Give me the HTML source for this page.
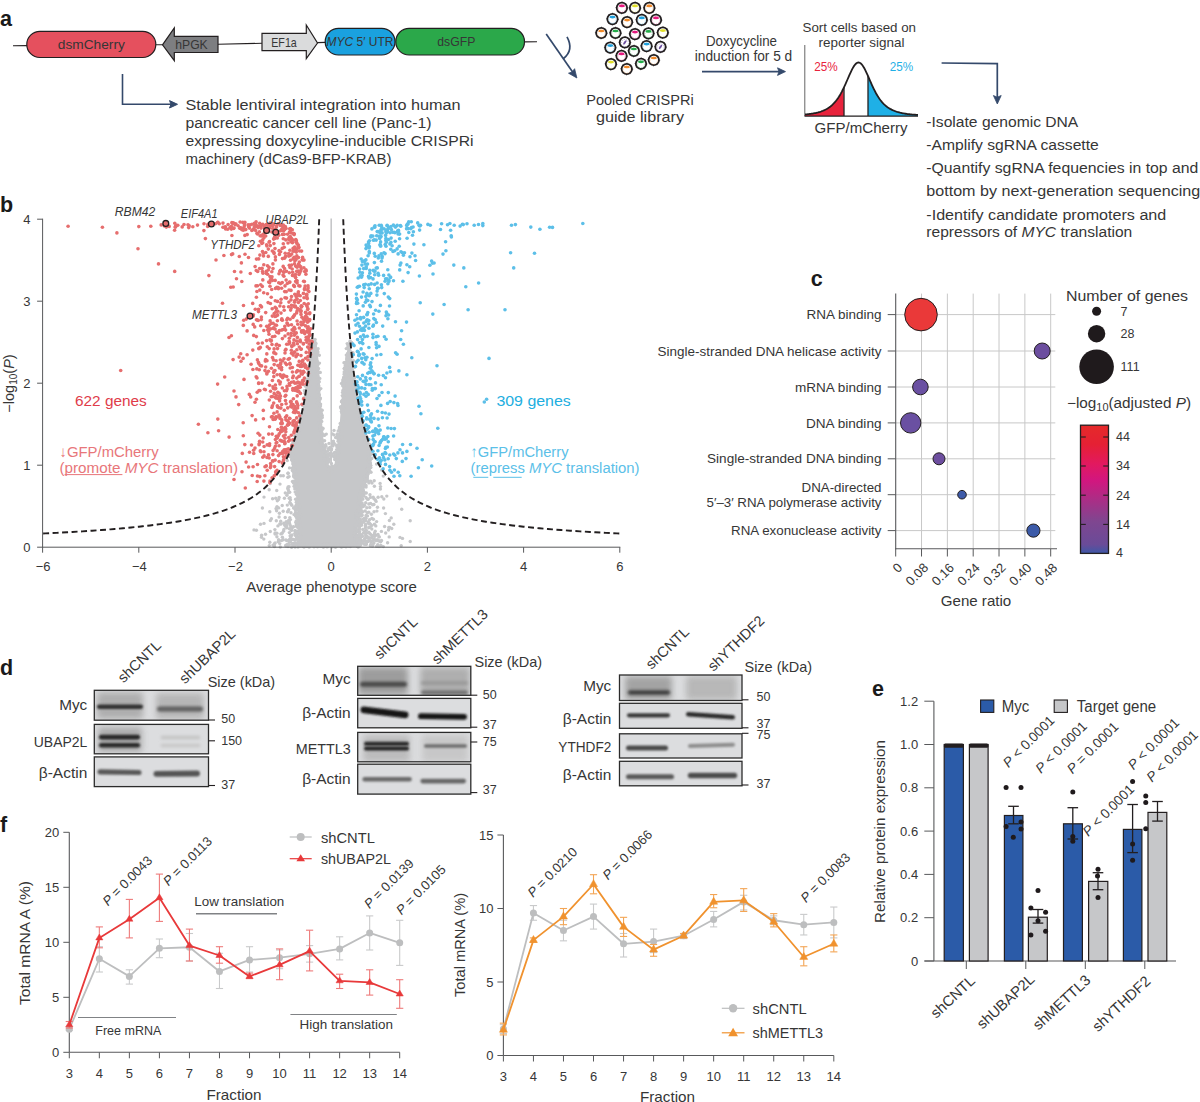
<!DOCTYPE html>
<html><head><meta charset="utf-8"><style>
html,body{margin:0;padding:0;background:#fff;width:1200px;height:1102px;overflow:hidden}
svg{display:block}
text{font-family:"Liberation Sans",sans-serif}
</style></head><body>
<svg width="1200" height="1102" viewBox="0 0 1200 1102">
<defs>
<filter id="bl1" x="-20%" y="-50%" width="140%" height="200%"><feGaussianBlur stdDeviation="1.2"/></filter>
<filter id="bl2" x="-20%" y="-50%" width="140%" height="200%"><feGaussianBlur stdDeviation="2"/></filter>
<linearGradient id="cbar" x1="0" y1="1" x2="0" y2="0">
<stop offset="0" stop-color="#3d58a7"/><stop offset="0.07" stop-color="#6a4b98"/><stop offset="0.25" stop-color="#7f4690"/><stop offset="0.45" stop-color="#b32984"/><stop offset="0.57" stop-color="#d2167f"/><stop offset="0.7" stop-color="#e2195f"/><stop offset="0.85" stop-color="#e52034"/><stop offset="1" stop-color="#e52a2a"/>
</linearGradient>
</defs>
<g fill="#363636">
<text x="0.00" y="26.30" font-size="21.5" font-weight="bold" fill="#1a1a1a">a</text>
<line x1="13.00" y1="45.80" x2="27.00" y2="45.60" stroke="#231f20" stroke-width="1.1"/>
<line x1="155.00" y1="44.80" x2="163.00" y2="44.70" stroke="#231f20" stroke-width="1.1"/>
<line x1="218.00" y1="44.20" x2="262.00" y2="43.30" stroke="#231f20" stroke-width="1.1"/>
<line x1="317.00" y1="42.60" x2="326.00" y2="42.40" stroke="#231f20" stroke-width="1.1"/>
<line x1="524.00" y1="41.90" x2="537.00" y2="41.80" stroke="#231f20" stroke-width="1.1"/>
<rect x="26.8" y="31.3" width="129" height="26.2" rx="13.1" fill="#e5505e" stroke="#231f20" stroke-width="1.2"/>
<text x="91.30" y="49.30" font-size="12.9" text-anchor="middle" textLength="67.0" lengthAdjust="spacingAndGlyphs">dsmCherry</text>
<path d="M162.5,44.8 L174.3,27.8 L174.3,36.3 L218,36.3 L218,52.5 L174.3,52.5 L174.3,60.7 Z" fill="#7d7e81" stroke="#231f20" stroke-width="1.2" stroke-linejoin="miter"/>
<text x="191.50" y="49.00" font-size="12.9" text-anchor="middle" textLength="32.5" lengthAdjust="spacingAndGlyphs">hPGK</text>
<path d="M262,33.3 L306.3,33.3 L306.3,25 L317.5,43 L306.3,58.7 L306.3,50.7 L262,50.7 Z" fill="#dadbdc" stroke="#231f20" stroke-width="1.2"/>
<text x="284.00" y="47.20" font-size="13" text-anchor="middle" textLength="25.5" lengthAdjust="spacingAndGlyphs">EF1a</text>
<rect x="325.2" y="28.4" width="69.8" height="26.6" rx="13.3" fill="#1aa1df" stroke="#231f20" stroke-width="1.2"/>
<text x="326.5" y="46.4" font-size="13" textLength="67" lengthAdjust="spacingAndGlyphs"><tspan font-style="italic">MYC</tspan> 5′ UTR</text>
<rect x="395.8" y="28.4" width="128.7" height="26.6" rx="13.3" fill="#2ba84a" stroke="#231f20" stroke-width="1.2"/>
<text x="456.30" y="46.40" font-size="12.9" text-anchor="middle" textLength="38.0" lengthAdjust="spacingAndGlyphs">dsGFP</text>
<path d="M122.5,74 L122.5,104.3 L172,104.3" fill="none" stroke="#34496b" stroke-width="1.6"/>
<path d="M177.5,104.3 L169.5,100.6 L171,104.3 L169.5,108 Z" fill="#34496b" stroke="#34496b" stroke-width="1"/>
<text x="185.50" y="109.90" font-size="15.5" textLength="275.0" lengthAdjust="spacingAndGlyphs">Stable lentiviral integration into human</text>
<text x="185.50" y="127.85" font-size="15.5" textLength="246.0" lengthAdjust="spacingAndGlyphs">pancreatic cancer cell line (Panc-1)</text>
<text x="185.50" y="145.80" font-size="15.5" textLength="288.0" lengthAdjust="spacingAndGlyphs">expressing doxycyline-inducible CRISPRi</text>
<text x="185.50" y="163.75" font-size="15.5" textLength="206.0" lengthAdjust="spacingAndGlyphs">machinery (dCas9-BFP-KRAB)</text>
<path d="M546.2,34.1 L574,74" fill="none" stroke="#34496b" stroke-width="1.7"/>
<path d="M576.9,78 L568.5,73.2 L572,72 L574.6,68.7 Z" fill="#34496b" stroke="#34496b" stroke-width="0.8"/>
<path d="M567,36.8 C571.5,45 571.5,52 563.5,58.5" fill="none" stroke="#34496b" stroke-width="1.7"/>
<circle cx="621.9" cy="7.9" r="5.2" fill="#fff" stroke="#231f20" stroke-width="1.8"/>
<circle cx="621.9" cy="7.9" r="5.9" fill="none" stroke="#231f20" stroke-width="0.9" stroke-dasharray="0.7 3.8"/>
<circle cx="621.9" cy="8.5" r="3.6" fill="none" stroke="#e6197f" stroke-width="0.6" stroke-dasharray="1 1.2" opacity="0.8"/>
<ellipse cx="621.9" cy="5.9" rx="3.0" ry="1.35" fill="#e6197f"/>
<circle cx="635" cy="7.9" r="5.2" fill="#fff" stroke="#231f20" stroke-width="1.8"/>
<circle cx="635" cy="7.9" r="5.9" fill="none" stroke="#231f20" stroke-width="0.9" stroke-dasharray="0.7 3.8"/>
<circle cx="635" cy="8.5" r="3.6" fill="none" stroke="#e1df2a" stroke-width="0.6" stroke-dasharray="1 1.2" opacity="0.8"/>
<ellipse cx="635" cy="5.9" rx="3.0" ry="1.35" fill="#e1df2a"/>
<circle cx="649.3" cy="7.9" r="5.2" fill="#fff" stroke="#231f20" stroke-width="1.8"/>
<circle cx="649.3" cy="7.9" r="5.9" fill="none" stroke="#231f20" stroke-width="0.9" stroke-dasharray="0.7 3.8"/>
<circle cx="649.3" cy="8.5" r="3.6" fill="none" stroke="#f0892a" stroke-width="0.6" stroke-dasharray="1 1.2" opacity="0.8"/>
<ellipse cx="649.3" cy="5.9" rx="3.0" ry="1.35" fill="#f0892a"/>
<circle cx="612.5" cy="19.1" r="5.2" fill="#fff" stroke="#231f20" stroke-width="1.8"/>
<circle cx="612.5" cy="19.1" r="5.9" fill="none" stroke="#231f20" stroke-width="0.9" stroke-dasharray="0.7 3.8"/>
<circle cx="612.5" cy="19.700000000000003" r="3.6" fill="none" stroke="#1fa0dd" stroke-width="0.6" stroke-dasharray="1 1.2" opacity="0.8"/>
<ellipse cx="612.5" cy="17.1" rx="3.0" ry="1.35" fill="#1fa0dd"/>
<circle cx="627.1" cy="22.1" r="5.2" fill="#fff" stroke="#231f20" stroke-width="1.8"/>
<circle cx="627.1" cy="22.1" r="5.9" fill="none" stroke="#231f20" stroke-width="0.9" stroke-dasharray="0.7 3.8"/>
<circle cx="627.1" cy="22.700000000000003" r="3.6" fill="none" stroke="#f0892a" stroke-width="0.6" stroke-dasharray="1 1.2" opacity="0.8"/>
<ellipse cx="627.1" cy="20.1" rx="3.0" ry="1.35" fill="#f0892a"/>
<circle cx="641.8" cy="19.9" r="5.2" fill="#fff" stroke="#231f20" stroke-width="1.8"/>
<circle cx="641.8" cy="19.9" r="5.9" fill="none" stroke="#231f20" stroke-width="0.9" stroke-dasharray="0.7 3.8"/>
<circle cx="641.8" cy="20.5" r="3.6" fill="none" stroke="#1fa0dd" stroke-width="0.6" stroke-dasharray="1 1.2" opacity="0.8"/>
<ellipse cx="641.8" cy="17.9" rx="3.0" ry="1.35" fill="#1fa0dd"/>
<circle cx="656" cy="19.9" r="5.2" fill="#fff" stroke="#231f20" stroke-width="1.8"/>
<circle cx="656" cy="19.9" r="5.9" fill="none" stroke="#231f20" stroke-width="0.9" stroke-dasharray="0.7 3.8"/>
<circle cx="656" cy="20.5" r="3.6" fill="none" stroke="#e6197f" stroke-width="0.6" stroke-dasharray="1 1.2" opacity="0.8"/>
<ellipse cx="656" cy="17.9" rx="3.0" ry="1.35" fill="#e6197f"/>
<circle cx="601.3" cy="33" r="5.2" fill="#fff" stroke="#231f20" stroke-width="1.8"/>
<circle cx="601.3" cy="33" r="5.9" fill="none" stroke="#231f20" stroke-width="0.9" stroke-dasharray="0.7 3.8"/>
<circle cx="601.3" cy="33.6" r="3.6" fill="none" stroke="#f0892a" stroke-width="0.6" stroke-dasharray="1 1.2" opacity="0.8"/>
<ellipse cx="601.3" cy="31" rx="3.0" ry="1.35" fill="#f0892a"/>
<circle cx="615.5" cy="33" r="5.2" fill="#fff" stroke="#231f20" stroke-width="1.8"/>
<circle cx="615.5" cy="33" r="5.9" fill="none" stroke="#231f20" stroke-width="0.9" stroke-dasharray="0.7 3.8"/>
<circle cx="615.5" cy="33.6" r="3.6" fill="none" stroke="#23ad4a" stroke-width="0.6" stroke-dasharray="1 1.2" opacity="0.8"/>
<ellipse cx="615.5" cy="31" rx="3.0" ry="1.35" fill="#23ad4a"/>
<circle cx="635" cy="34.1" r="5.2" fill="#fff" stroke="#231f20" stroke-width="1.8"/>
<circle cx="635" cy="34.1" r="5.9" fill="none" stroke="#231f20" stroke-width="0.9" stroke-dasharray="0.7 3.8"/>
<circle cx="635" cy="34.7" r="3.6" fill="none" stroke="#e6197f" stroke-width="0.6" stroke-dasharray="1 1.2" opacity="0.8"/>
<ellipse cx="635" cy="32.1" rx="3.0" ry="1.35" fill="#e6197f"/>
<circle cx="648.5" cy="33.4" r="5.2" fill="#fff" stroke="#231f20" stroke-width="1.8"/>
<circle cx="648.5" cy="33.4" r="5.9" fill="none" stroke="#231f20" stroke-width="0.9" stroke-dasharray="0.7 3.8"/>
<circle cx="648.5" cy="34.0" r="3.6" fill="none" stroke="#23ad4a" stroke-width="0.6" stroke-dasharray="1 1.2" opacity="0.8"/>
<ellipse cx="648.5" cy="31.4" rx="3.0" ry="1.35" fill="#23ad4a"/>
<circle cx="662.8" cy="32.6" r="5.2" fill="#fff" stroke="#231f20" stroke-width="1.8"/>
<circle cx="662.8" cy="32.6" r="5.9" fill="none" stroke="#231f20" stroke-width="0.9" stroke-dasharray="0.7 3.8"/>
<circle cx="662.8" cy="33.2" r="3.6" fill="none" stroke="#e1df2a" stroke-width="0.6" stroke-dasharray="1 1.2" opacity="0.8"/>
<ellipse cx="662.8" cy="30.6" rx="3.0" ry="1.35" fill="#e1df2a"/>
<circle cx="624.9" cy="42.4" r="5.2" fill="#fff" stroke="#231f20" stroke-width="1.8"/>
<circle cx="624.9" cy="42.4" r="5.9" fill="none" stroke="#231f20" stroke-width="0.9" stroke-dasharray="0.7 3.8"/>
<circle cx="624.9" cy="43.0" r="3.6" fill="none" stroke="#6d4fa0" stroke-width="0.6" stroke-dasharray="1 1.2" opacity="0.8"/>
<ellipse cx="624.9" cy="42.4" rx="1" ry="2.6" transform="rotate(35 624.9 42.4)" fill="#6d4fa0"/>
<circle cx="610.3" cy="47.6" r="5.2" fill="#fff" stroke="#231f20" stroke-width="1.8"/>
<circle cx="610.3" cy="47.6" r="5.9" fill="none" stroke="#231f20" stroke-width="0.9" stroke-dasharray="0.7 3.8"/>
<circle cx="610.3" cy="48.2" r="3.6" fill="none" stroke="#1fa0dd" stroke-width="0.6" stroke-dasharray="1 1.2" opacity="0.8"/>
<ellipse cx="610.3" cy="45.6" rx="3.0" ry="1.35" fill="#1fa0dd"/>
<circle cx="646.6" cy="46.1" r="5.2" fill="#fff" stroke="#231f20" stroke-width="1.8"/>
<circle cx="646.6" cy="46.1" r="5.9" fill="none" stroke="#231f20" stroke-width="0.9" stroke-dasharray="0.7 3.8"/>
<circle cx="646.6" cy="46.7" r="3.6" fill="none" stroke="#1fa0dd" stroke-width="0.6" stroke-dasharray="1 1.2" opacity="0.8"/>
<ellipse cx="646.6" cy="44.1" rx="3.0" ry="1.35" fill="#1fa0dd"/>
<circle cx="660.5" cy="46.9" r="5.2" fill="#fff" stroke="#231f20" stroke-width="1.8"/>
<circle cx="660.5" cy="46.9" r="5.9" fill="none" stroke="#231f20" stroke-width="0.9" stroke-dasharray="0.7 3.8"/>
<circle cx="660.5" cy="47.5" r="3.6" fill="none" stroke="#6d4fa0" stroke-width="0.6" stroke-dasharray="1 1.2" opacity="0.8"/>
<ellipse cx="660.5" cy="46.9" rx="1" ry="2.6" transform="rotate(35 660.5 46.9)" fill="#6d4fa0"/>
<circle cx="633.9" cy="51" r="5.2" fill="#fff" stroke="#231f20" stroke-width="1.8"/>
<circle cx="633.9" cy="51" r="5.9" fill="none" stroke="#231f20" stroke-width="0.9" stroke-dasharray="0.7 3.8"/>
<circle cx="633.9" cy="51.6" r="3.6" fill="none" stroke="#23ad4a" stroke-width="0.6" stroke-dasharray="1 1.2" opacity="0.8"/>
<ellipse cx="633.9" cy="49" rx="3.0" ry="1.35" fill="#23ad4a"/>
<circle cx="621.5" cy="55.9" r="5.2" fill="#fff" stroke="#231f20" stroke-width="1.8"/>
<circle cx="621.5" cy="55.9" r="5.9" fill="none" stroke="#231f20" stroke-width="0.9" stroke-dasharray="0.7 3.8"/>
<circle cx="621.5" cy="56.5" r="3.6" fill="none" stroke="#e6197f" stroke-width="0.6" stroke-dasharray="1 1.2" opacity="0.8"/>
<ellipse cx="621.5" cy="53.9" rx="3.0" ry="1.35" fill="#e6197f"/>
<circle cx="653.8" cy="60" r="5.2" fill="#fff" stroke="#231f20" stroke-width="1.8"/>
<circle cx="653.8" cy="60" r="5.9" fill="none" stroke="#231f20" stroke-width="0.9" stroke-dasharray="0.7 3.8"/>
<circle cx="653.8" cy="60.6" r="3.6" fill="none" stroke="#f0892a" stroke-width="0.6" stroke-dasharray="1 1.2" opacity="0.8"/>
<ellipse cx="653.8" cy="58" rx="3.0" ry="1.35" fill="#f0892a"/>
<circle cx="611" cy="64.1" r="5.2" fill="#fff" stroke="#231f20" stroke-width="1.8"/>
<circle cx="611" cy="64.1" r="5.9" fill="none" stroke="#231f20" stroke-width="0.9" stroke-dasharray="0.7 3.8"/>
<circle cx="611" cy="64.69999999999999" r="3.6" fill="none" stroke="#e1df2a" stroke-width="0.6" stroke-dasharray="1 1.2" opacity="0.8"/>
<ellipse cx="611" cy="62.099999999999994" rx="3.0" ry="1.35" fill="#e1df2a"/>
<circle cx="641" cy="63.8" r="5.2" fill="#fff" stroke="#231f20" stroke-width="1.8"/>
<circle cx="641" cy="63.8" r="5.9" fill="none" stroke="#231f20" stroke-width="0.9" stroke-dasharray="0.7 3.8"/>
<circle cx="641" cy="64.39999999999999" r="3.6" fill="none" stroke="#23ad4a" stroke-width="0.6" stroke-dasharray="1 1.2" opacity="0.8"/>
<ellipse cx="641" cy="61.8" rx="3.0" ry="1.35" fill="#23ad4a"/>
<circle cx="626.8" cy="69" r="5.2" fill="#fff" stroke="#231f20" stroke-width="1.8"/>
<circle cx="626.8" cy="69" r="5.9" fill="none" stroke="#231f20" stroke-width="0.9" stroke-dasharray="0.7 3.8"/>
<circle cx="626.8" cy="69.6" r="3.6" fill="none" stroke="#f0892a" stroke-width="0.6" stroke-dasharray="1 1.2" opacity="0.8"/>
<ellipse cx="626.8" cy="67" rx="3.0" ry="1.35" fill="#f0892a"/>
<text x="640.00" y="104.50" font-size="15" text-anchor="middle" textLength="107.5" lengthAdjust="spacingAndGlyphs">Pooled CRISPRi</text>
<text x="640.00" y="121.80" font-size="15" text-anchor="middle" textLength="88.0" lengthAdjust="spacingAndGlyphs">guide library</text>
<text x="741.50" y="46.20" font-size="13.8" text-anchor="middle" textLength="71.0" lengthAdjust="spacingAndGlyphs">Doxycycline</text>
<text x="743.50" y="60.60" font-size="13.8" text-anchor="middle" textLength="97.5" lengthAdjust="spacingAndGlyphs">induction for 5 d</text>
<line x1="702.00" y1="71.60" x2="781.00" y2="71.60" stroke="#34496b" stroke-width="1.7"/>
<path d="M785.5,71.6 L777.5,67.8 L779,71.6 L777.5,75.4 Z" fill="#34496b" stroke="#34496b" stroke-width="0.8"/>
<text x="859.30" y="32.20" font-size="13" text-anchor="middle" textLength="113.5" lengthAdjust="spacingAndGlyphs">Sort cells based on</text>
<text x="861.50" y="46.80" font-size="13" text-anchor="middle" textLength="86.0" lengthAdjust="spacingAndGlyphs">reporter signal</text>
<line x1="804.80" y1="45.00" x2="804.80" y2="116.00" stroke="#555" stroke-width="0.9"/>
<path d="M805,116 L805.00,114.50 L805.94,114.41 L806.88,114.31 L807.83,114.20 L808.77,114.09 L809.71,113.97 L810.65,113.84 L811.59,113.70 L812.53,113.55 L813.48,113.38 L814.42,113.20 L815.36,113.01 L816.30,112.80 L817.24,112.58 L818.18,112.34 L819.12,112.07 L820.07,111.79 L821.01,111.48 L821.95,111.14 L822.89,110.78 L823.83,110.38 L824.77,109.95 L825.72,109.49 L826.66,108.98 L827.60,108.43 L828.54,107.82 L829.48,107.17 L830.42,106.46 L831.37,105.69 L832.31,104.86 L833.25,103.95 L834.19,102.96 L835.13,101.90 L836.08,100.75 L837.02,99.51 L837.96,98.18 L838.90,96.75 L839.84,95.22 L840.78,93.59 L841.73,91.85 L842.67,90.03 L843.61,88.11 L844,116 Z" fill="#e8233c"/>
<path d="M868,116 L868.09,76.22 L869.03,78.39 L869.98,80.56 L870.92,82.71 L871.86,84.82 L872.80,86.86 L873.74,88.83 L874.68,90.72 L875.62,92.51 L876.57,94.20 L877.51,95.80 L878.45,97.29 L879.39,98.68 L880.33,99.98 L881.27,101.19 L882.22,102.31 L883.16,103.34 L884.10,104.29 L885.04,105.17 L885.98,105.99 L886.92,106.73 L887.87,107.42 L888.81,108.05 L889.75,108.64 L890.69,109.17 L891.63,109.66 L892.58,110.12 L893.52,110.53 L894.46,110.92 L895.40,111.27 L896.34,111.60 L897.28,111.90 L898.23,112.17 L899.17,112.43 L900.11,112.67 L901.05,112.88 L901.99,113.08 L902.93,113.27 L903.88,113.44 L904.82,113.60 L905.76,113.75 L906.70,113.89 L907.64,114.02 L908.58,114.13 L909.52,114.24 L910.47,114.35 L911.41,114.44 L912.35,114.53 L913.29,114.61 L914.23,114.69 L915.17,114.76 L916.12,114.83 L917.06,114.89 L918.00,114.95 L918,116 Z" fill="#1fb0e6"/>
<line x1="844.00" y1="87.29" x2="844.00" y2="116.00" stroke="#231f20" stroke-width="1.3"/>
<line x1="868.00" y1="76.01" x2="868.00" y2="116.00" stroke="#231f20" stroke-width="1.3"/>
<path d="M805.00,114.50 L805.94,114.41 L806.88,114.31 L807.83,114.20 L808.77,114.09 L809.71,113.97 L810.65,113.84 L811.59,113.70 L812.53,113.55 L813.48,113.38 L814.42,113.20 L815.36,113.01 L816.30,112.80 L817.24,112.58 L818.18,112.34 L819.12,112.07 L820.07,111.79 L821.01,111.48 L821.95,111.14 L822.89,110.78 L823.83,110.38 L824.77,109.95 L825.72,109.49 L826.66,108.98 L827.60,108.43 L828.54,107.82 L829.48,107.17 L830.42,106.46 L831.37,105.69 L832.31,104.86 L833.25,103.95 L834.19,102.96 L835.13,101.90 L836.08,100.75 L837.02,99.51 L837.96,98.18 L838.90,96.75 L839.84,95.22 L840.78,93.59 L841.73,91.85 L842.67,90.03 L843.61,88.11 L844.55,86.11 L845.49,84.04 L846.43,81.91 L847.38,79.75 L848.32,77.58 L849.26,75.42 L850.20,73.32 L851.14,71.30 L852.08,69.40 L853.02,67.66 L853.97,66.12 L854.91,64.82 L855.85,63.78 L856.79,63.04 L857.73,62.61 L858.67,62.51 L859.62,62.73 L860.56,63.28 L861.50,64.13 L862.44,65.27 L863.38,66.67 L864.33,68.29 L865.27,70.09 L866.21,72.04 L867.15,74.09 L868.09,76.22 L869.03,78.39 L869.98,80.56 L870.92,82.71 L871.86,84.82 L872.80,86.86 L873.74,88.83 L874.68,90.72 L875.62,92.51 L876.57,94.20 L877.51,95.80 L878.45,97.29 L879.39,98.68 L880.33,99.98 L881.27,101.19 L882.22,102.31 L883.16,103.34 L884.10,104.29 L885.04,105.17 L885.98,105.99 L886.92,106.73 L887.87,107.42 L888.81,108.05 L889.75,108.64 L890.69,109.17 L891.63,109.66 L892.58,110.12 L893.52,110.53 L894.46,110.92 L895.40,111.27 L896.34,111.60 L897.28,111.90 L898.23,112.17 L899.17,112.43 L900.11,112.67 L901.05,112.88 L901.99,113.08 L902.93,113.27 L903.88,113.44 L904.82,113.60 L905.76,113.75 L906.70,113.89 L907.64,114.02 L908.58,114.13 L909.52,114.24 L910.47,114.35 L911.41,114.44 L912.35,114.53 L913.29,114.61 L914.23,114.69 L915.17,114.76 L916.12,114.83 L917.06,114.89 L918.00,114.95" fill="none" stroke="#231f20" stroke-width="1.8"/>
<line x1="804.50" y1="116.20" x2="918.00" y2="116.20" stroke="#231f20" stroke-width="1.3"/>
<text x="814.20" y="71.30" font-size="13" fill="#e8233c" textLength="23.5" lengthAdjust="spacingAndGlyphs">25%</text>
<text x="889.80" y="71.30" font-size="13" fill="#1fb0e6" textLength="23.5" lengthAdjust="spacingAndGlyphs">25%</text>
<text x="861.00" y="133.30" font-size="15.2" text-anchor="middle" textLength="93.0" lengthAdjust="spacingAndGlyphs">GFP/mCherry</text>
<path d="M941.6,63 L997.3,63.6 L997.3,98" fill="none" stroke="#34496b" stroke-width="1.7"/>
<path d="M997.3,104 L993.4,95.5 L997.3,97.2 L1001.2,95.5 Z" fill="#34496b" stroke="#34496b" stroke-width="0.8"/>
<text x="926.30" y="127.00" font-size="15.4" textLength="152.0" lengthAdjust="spacingAndGlyphs">-Isolate genomic DNA</text>
<text x="926.30" y="150.00" font-size="15.4" textLength="172.5" lengthAdjust="spacingAndGlyphs">-Amplify sgRNA cassette</text>
<text x="926.30" y="173.00" font-size="15.4" textLength="272.0" lengthAdjust="spacingAndGlyphs">-Quantify sgRNA fequencies in top and</text>
<text x="926.30" y="196.00" font-size="15.4" textLength="274.0" lengthAdjust="spacingAndGlyphs">bottom by next-generation sequencing</text>
<text x="926.30" y="220.00" font-size="15.4" textLength="240.0" lengthAdjust="spacingAndGlyphs">-Identify candidate promoters and</text>
<text x="926.3" y="237.3" font-size="15.4" textLength="206" lengthAdjust="spacingAndGlyphs">repressors of <tspan font-style="italic">MYC</tspan> translation</text>
<text x="0.00" y="212.00" font-size="21.5" font-weight="bold" fill="#1a1a1a">b</text>
<g fill="#c6c7c9"><path d="M299,547.2 L298,530 L297,507.7 L295.5,487 L292,466 L289.37391304347824,452.90000000000003 L292.71999999999997,444.70000000000005 L295.57037037037037,436.50000000000006 L298.02758620689656,428.3 L300.1677419354839,420.1 L302.04848484848486,411.9 L303.7142857142857,403.70000000000005 L305.2,395.5 L306.5333333333333,387.29999999999995 L307.73658536585367,379.1 L308.8279069767442,370.9 L309.8222222222222,362.69999999999993 L310.73191489361704,354.5 L311.56734693877553,346.29999999999995 L313.6,337.5 L316.3,341 L318.5,360 L319.9,382.6 L322,424.3 L324,445 L328.2,464 L331,468.5 L334.5,464 L337.6,445 L339.7,424.3 L342.8,382.6 L345,361.7 L348.5,344 L350.5,339.5 L350.44,342.20000000000005 L351.2416666666667,350.4000000000001 L352.11304347826086,358.6 L353.06363636363636,366.80000000000007 L354.1047619047619,375.0000000000001 L355.25,383.20000000000005 L356.5157894736842,391.4000000000001 L357.9222222222222,399.60000000000014 L359.49411764705883,407.80000000000007 L361.2625,416.0000000000001 L363.26666666666665,424.2000000000001 L365.5571428571429,432.4000000000001 L368.20000000000005,440.60000000000014 L371.28333333333336,448.8000000000001 L371.5,466 L365,487 L360.5,507.7 L357.5,530 L356.5,547.2 Z" fill="#c6c7c9"/><circle cx="324.4" cy="451.8" r="1.7"/><circle cx="329.5" cy="467.0" r="1.7"/><circle cx="311.4" cy="349.7" r="1.7"/><circle cx="368.9" cy="472.2" r="1.7"/><circle cx="340.7" cy="438.7" r="1.7"/><circle cx="342.6" cy="429.5" r="1.7"/><circle cx="309.2" cy="547.0" r="1.7"/><circle cx="305.0" cy="392.9" r="1.7"/><circle cx="358.7" cy="414.1" r="1.7"/><circle cx="364.2" cy="432.2" r="1.7"/><circle cx="350.9" cy="355.7" r="1.7"/><circle cx="348.7" cy="358.5" r="1.7"/><circle cx="354.9" cy="396.2" r="1.7"/><circle cx="364.2" cy="482.5" r="1.7"/><circle cx="340.3" cy="434.9" r="1.7"/><circle cx="363.3" cy="490.3" r="1.7"/><circle cx="360.8" cy="420.7" r="1.7"/><circle cx="334.8" cy="465.9" r="1.7"/><circle cx="340.6" cy="546.0" r="1.7"/><circle cx="361.5" cy="488.4" r="1.7"/><circle cx="337.3" cy="434.6" r="1.7"/><circle cx="302.3" cy="423.7" r="1.7"/><circle cx="355.1" cy="528.8" r="1.7"/><circle cx="312.5" cy="359.6" r="1.7"/><circle cx="299.7" cy="428.0" r="1.7"/><circle cx="308.9" cy="376.6" r="1.7"/><circle cx="339.7" cy="427.1" r="1.7"/><circle cx="355.2" cy="538.5" r="1.7"/><circle cx="344.6" cy="373.4" r="1.7"/><circle cx="347.1" cy="369.0" r="1.7"/><circle cx="366.1" cy="487.1" r="1.7"/><circle cx="354.3" cy="535.4" r="1.7"/><circle cx="370.0" cy="446.8" r="1.7"/><circle cx="315.3" cy="348.0" r="1.7"/><circle cx="323.4" cy="449.7" r="1.7"/><circle cx="353.5" cy="360.6" r="1.7"/><circle cx="328.8" cy="461.6" r="1.7"/><circle cx="356.0" cy="525.9" r="1.7"/><circle cx="344.8" cy="400.1" r="1.7"/><circle cx="295.7" cy="441.0" r="1.7"/><circle cx="340.5" cy="445.2" r="1.7"/><circle cx="304.0" cy="547.1" r="1.7"/><circle cx="320.3" cy="372.4" r="1.7"/><circle cx="328.9" cy="543.7" r="1.7"/><circle cx="355.0" cy="386.2" r="1.7"/><circle cx="367.2" cy="474.9" r="1.7"/><circle cx="317.7" cy="351.4" r="1.7"/><circle cx="334.4" cy="546.4" r="1.7"/><circle cx="291.6" cy="460.0" r="1.7"/><circle cx="298.9" cy="432.6" r="1.7"/><circle cx="298.6" cy="494.1" r="1.7"/><circle cx="350.1" cy="340.9" r="1.7"/><circle cx="322.4" cy="433.9" r="1.7"/><circle cx="339.3" cy="429.1" r="1.7"/><circle cx="350.5" cy="371.3" r="1.7"/><circle cx="351.9" cy="376.4" r="1.7"/><circle cx="341.9" cy="545.1" r="1.7"/><circle cx="322.2" cy="410.3" r="1.7"/><circle cx="292.2" cy="452.7" r="1.7"/><circle cx="345.4" cy="391.5" r="1.7"/><circle cx="295.2" cy="484.3" r="1.7"/><circle cx="318.7" cy="372.4" r="1.7"/><circle cx="292.4" cy="467.9" r="1.7"/><circle cx="297.5" cy="492.2" r="1.7"/><circle cx="341.5" cy="383.4" r="1.7"/><circle cx="340.7" cy="443.9" r="1.7"/><circle cx="321.7" cy="421.4" r="1.7"/><circle cx="297.7" cy="491.2" r="1.7"/><circle cx="311.8" cy="355.0" r="1.7"/><circle cx="324.9" cy="457.0" r="1.7"/><circle cx="309.5" cy="367.5" r="1.7"/><circle cx="329.9" cy="468.5" r="1.7"/><circle cx="356.5" cy="514.0" r="1.7"/><circle cx="357.4" cy="397.7" r="1.7"/><circle cx="312.0" cy="346.5" r="1.7"/><circle cx="319.3" cy="430.4" r="1.7"/><circle cx="343.0" cy="385.8" r="1.7"/><circle cx="322.2" cy="441.3" r="1.7"/><circle cx="347.1" cy="544.6" r="1.7"/><circle cx="356.7" cy="392.8" r="1.7"/><circle cx="300.7" cy="544.7" r="1.7"/><circle cx="366.7" cy="473.2" r="1.7"/><circle cx="327.3" cy="546.3" r="1.7"/><circle cx="357.9" cy="516.0" r="1.7"/><circle cx="320.6" cy="424.4" r="1.7"/><circle cx="312.9" cy="341.9" r="1.7"/><circle cx="306.2" cy="395.1" r="1.7"/><circle cx="313.3" cy="343.6" r="1.7"/><circle cx="319.6" cy="407.5" r="1.7"/><circle cx="357.9" cy="407.0" r="1.7"/><circle cx="347.0" cy="359.3" r="1.7"/><circle cx="343.0" cy="390.2" r="1.7"/><circle cx="309.8" cy="384.6" r="1.7"/><circle cx="306.4" cy="390.7" r="1.7"/><circle cx="365.8" cy="438.7" r="1.7"/><circle cx="341.1" cy="408.2" r="1.7"/><circle cx="353.8" cy="381.3" r="1.7"/><circle cx="339.0" cy="444.3" r="1.7"/><circle cx="316.7" cy="377.1" r="1.7"/><circle cx="319.2" cy="394.8" r="1.7"/><circle cx="370.4" cy="462.9" r="1.7"/><circle cx="362.1" cy="430.6" r="1.7"/><circle cx="303.7" cy="405.6" r="1.7"/><circle cx="365.3" cy="485.6" r="1.7"/><circle cx="298.4" cy="533.7" r="1.7"/><circle cx="319.3" cy="381.8" r="1.7"/><circle cx="320.3" cy="414.1" r="1.7"/><circle cx="322.2" cy="415.4" r="1.7"/><circle cx="318.4" cy="401.4" r="1.7"/><circle cx="342.9" cy="382.2" r="1.7"/><circle cx="320.8" cy="420.4" r="1.7"/><circle cx="339.3" cy="452.0" r="1.7"/><circle cx="317.1" cy="392.1" r="1.7"/><circle cx="299.1" cy="518.4" r="1.7"/><circle cx="358.3" cy="510.2" r="1.7"/><circle cx="343.2" cy="380.3" r="1.7"/><circle cx="347.1" cy="355.7" r="1.7"/><circle cx="348.6" cy="546.1" r="1.7"/><circle cx="316.8" cy="386.5" r="1.7"/><circle cx="327.1" cy="546.9" r="1.7"/><circle cx="351.8" cy="544.4" r="1.7"/><circle cx="304.8" cy="414.5" r="1.7"/><circle cx="340.5" cy="407.0" r="1.7"/><circle cx="344.2" cy="368.6" r="1.7"/><circle cx="350.6" cy="353.6" r="1.7"/><circle cx="316.1" cy="545.2" r="1.7"/><circle cx="339.7" cy="439.8" r="1.7"/><circle cx="321.5" cy="413.7" r="1.7"/><circle cx="337.3" cy="454.6" r="1.7"/><circle cx="339.6" cy="427.2" r="1.7"/><circle cx="336.6" cy="459.3" r="1.7"/><circle cx="325.8" cy="545.9" r="1.7"/><circle cx="349.1" cy="545.2" r="1.7"/><circle cx="361.3" cy="488.3" r="1.7"/><circle cx="316.1" cy="372.7" r="1.7"/><circle cx="320.6" cy="429.4" r="1.7"/><circle cx="296.5" cy="524.7" r="1.7"/><circle cx="340.1" cy="432.0" r="1.7"/><circle cx="303.2" cy="410.5" r="1.7"/><circle cx="349.5" cy="348.2" r="1.7"/><circle cx="295.4" cy="431.9" r="1.7"/><circle cx="292.7" cy="441.4" r="1.7"/><circle cx="352.6" cy="383.7" r="1.7"/><circle cx="369.4" cy="444.2" r="1.7"/><circle cx="298.4" cy="508.0" r="1.7"/><circle cx="319.3" cy="395.1" r="1.7"/><circle cx="322.5" cy="428.1" r="1.7"/><circle cx="319.8" cy="378.4" r="1.7"/><circle cx="317.4" cy="398.4" r="1.7"/><circle cx="317.1" cy="395.5" r="1.7"/><circle cx="338.0" cy="458.2" r="1.7"/><circle cx="306.9" cy="388.8" r="1.7"/><circle cx="359.8" cy="417.5" r="1.7"/><circle cx="357.3" cy="401.4" r="1.7"/><circle cx="344.1" cy="544.0" r="1.7"/><circle cx="348.9" cy="345.5" r="1.7"/><circle cx="303.4" cy="420.2" r="1.7"/><circle cx="365.8" cy="437.4" r="1.7"/><circle cx="302.6" cy="405.3" r="1.7"/><circle cx="364.1" cy="429.1" r="1.7"/><circle cx="350.5" cy="352.3" r="1.7"/><circle cx="353.2" cy="377.5" r="1.7"/><circle cx="296.4" cy="435.5" r="1.7"/><circle cx="308.7" cy="392.0" r="1.7"/><circle cx="353.5" cy="380.8" r="1.7"/><circle cx="366.8" cy="472.9" r="1.7"/><circle cx="334.7" cy="543.8" r="1.7"/><circle cx="291.7" cy="444.6" r="1.7"/><circle cx="369.6" cy="452.1" r="1.7"/><circle cx="354.1" cy="542.1" r="1.7"/><circle cx="321.0" cy="545.3" r="1.7"/><circle cx="341.8" cy="431.2" r="1.7"/><circle cx="359.2" cy="521.8" r="1.7"/><circle cx="329.3" cy="544.1" r="1.7"/><circle cx="310.1" cy="367.2" r="1.7"/><circle cx="365.3" cy="441.8" r="1.7"/><circle cx="335.0" cy="467.4" r="1.7"/><circle cx="354.4" cy="385.4" r="1.7"/><circle cx="322.1" cy="450.8" r="1.7"/><circle cx="357.6" cy="504.8" r="1.7"/><circle cx="312.0" cy="370.4" r="1.7"/><circle cx="370.7" cy="465.5" r="1.7"/><circle cx="295.9" cy="488.1" r="1.7"/><circle cx="367.1" cy="469.0" r="1.7"/><circle cx="299.0" cy="503.1" r="1.7"/><circle cx="306.0" cy="401.2" r="1.7"/><circle cx="367.6" cy="469.1" r="1.7"/><circle cx="321.1" cy="418.5" r="1.7"/><circle cx="332.1" cy="546.9" r="1.7"/><circle cx="351.6" cy="342.4" r="1.7"/><circle cx="346.8" cy="358.0" r="1.7"/><circle cx="320.7" cy="416.7" r="1.7"/><circle cx="367.6" cy="472.6" r="1.7"/><circle cx="319.7" cy="546.1" r="1.7"/><circle cx="290.2" cy="456.8" r="1.7"/><circle cx="356.5" cy="512.1" r="1.7"/><circle cx="371.2" cy="453.9" r="1.7"/><circle cx="357.1" cy="412.7" r="1.7"/><circle cx="356.2" cy="516.9" r="1.7"/><circle cx="364.6" cy="477.2" r="1.7"/><circle cx="346.5" cy="377.0" r="1.7"/><circle cx="304.7" cy="409.2" r="1.7"/><circle cx="315.7" cy="544.2" r="1.7"/><circle cx="306.7" cy="393.5" r="1.7"/><circle cx="362.2" cy="494.0" r="1.7"/><circle cx="320.9" cy="414.8" r="1.7"/><circle cx="309.8" cy="371.6" r="1.7"/><circle cx="330.0" cy="545.4" r="1.7"/><circle cx="343.7" cy="377.2" r="1.7"/><circle cx="323.9" cy="448.2" r="1.7"/><circle cx="368.3" cy="451.5" r="1.7"/><circle cx="293.8" cy="468.5" r="1.7"/><circle cx="299.2" cy="433.0" r="1.7"/><circle cx="348.0" cy="347.0" r="1.7"/><circle cx="318.1" cy="348.8" r="1.7"/><circle cx="351.6" cy="354.5" r="1.7"/><circle cx="301.7" cy="427.3" r="1.7"/><circle cx="345.4" cy="371.3" r="1.7"/><circle cx="308.9" cy="545.6" r="1.7"/><circle cx="298.2" cy="500.3" r="1.7"/><circle cx="359.5" cy="410.9" r="1.7"/><circle cx="294.8" cy="469.5" r="1.7"/><circle cx="356.7" cy="404.9" r="1.7"/><circle cx="295.5" cy="476.0" r="1.7"/><circle cx="344.0" cy="362.8" r="1.7"/><circle cx="297.5" cy="499.7" r="1.7"/><circle cx="341.7" cy="432.2" r="1.7"/><circle cx="299.8" cy="509.7" r="1.7"/><circle cx="328.2" cy="470.2" r="1.7"/><circle cx="300.3" cy="542.0" r="1.7"/><circle cx="341.4" cy="411.4" r="1.7"/><circle cx="320.7" cy="409.6" r="1.7"/><circle cx="341.3" cy="406.7" r="1.7"/><circle cx="358.4" cy="414.0" r="1.7"/><circle cx="312.4" cy="351.9" r="1.7"/><circle cx="354.5" cy="530.4" r="1.7"/><circle cx="354.8" cy="400.9" r="1.7"/><circle cx="324.4" cy="460.2" r="1.7"/><circle cx="296.0" cy="505.7" r="1.7"/><circle cx="321.0" cy="442.1" r="1.7"/><circle cx="299.0" cy="538.6" r="1.7"/><circle cx="325.5" cy="452.8" r="1.7"/><circle cx="320.9" cy="443.2" r="1.7"/><circle cx="318.0" cy="364.5" r="1.7"/><circle cx="356.9" cy="542.5" r="1.7"/><circle cx="364.2" cy="433.0" r="1.7"/><circle cx="318.7" cy="408.1" r="1.7"/><circle cx="312.1" cy="359.8" r="1.7"/><circle cx="318.2" cy="368.4" r="1.7"/><circle cx="351.6" cy="380.2" r="1.7"/><circle cx="299.9" cy="545.6" r="1.7"/><circle cx="344.2" cy="374.3" r="1.7"/><circle cx="317.9" cy="388.7" r="1.7"/><circle cx="310.9" cy="355.0" r="1.7"/><circle cx="357.7" cy="524.4" r="1.7"/><circle cx="297.6" cy="494.0" r="1.7"/><circle cx="315.4" cy="545.7" r="1.7"/><circle cx="342.6" cy="400.5" r="1.7"/><circle cx="358.2" cy="514.6" r="1.7"/><circle cx="357.7" cy="512.2" r="1.7"/><circle cx="306.3" cy="379.3" r="1.7"/><circle cx="364.4" cy="477.2" r="1.7"/><circle cx="314.5" cy="345.5" r="1.7"/><circle cx="355.3" cy="538.7" r="1.7"/><circle cx="355.7" cy="545.3" r="1.7"/><circle cx="370.7" cy="459.1" r="1.7"/><circle cx="359.2" cy="498.0" r="1.7"/><circle cx="315.6" cy="545.8" r="1.7"/><circle cx="319.4" cy="389.8" r="1.7"/><circle cx="296.0" cy="486.0" r="1.7"/><circle cx="365.5" cy="477.5" r="1.7"/><circle cx="316.9" cy="371.4" r="1.7"/><circle cx="346.1" cy="380.6" r="1.7"/><circle cx="293.4" cy="446.2" r="1.7"/><circle cx="355.3" cy="387.1" r="1.7"/><circle cx="345.4" cy="378.6" r="1.7"/><circle cx="311.4" cy="361.3" r="1.7"/><circle cx="303.8" cy="405.1" r="1.7"/><circle cx="326.2" cy="544.5" r="1.7"/><circle cx="297.6" cy="429.7" r="1.7"/><circle cx="364.3" cy="492.5" r="1.7"/><circle cx="368.0" cy="456.6" r="1.7"/><circle cx="312.0" cy="354.7" r="1.7"/><circle cx="304.8" cy="390.6" r="1.7"/><circle cx="339.3" cy="434.5" r="1.7"/><circle cx="338.6" cy="449.4" r="1.7"/><circle cx="301.1" cy="537.5" r="1.7"/><circle cx="299.4" cy="523.3" r="1.7"/><circle cx="368.1" cy="460.3" r="1.7"/><circle cx="341.4" cy="436.0" r="1.7"/><circle cx="310.1" cy="364.7" r="1.7"/><circle cx="355.0" cy="381.6" r="1.7"/><circle cx="370.0" cy="448.8" r="1.7"/><circle cx="344.5" cy="385.7" r="1.7"/><circle cx="360.7" cy="425.4" r="1.7"/><circle cx="349.6" cy="350.1" r="1.7"/><circle cx="343.6" cy="382.2" r="1.7"/><circle cx="344.8" cy="379.4" r="1.7"/><circle cx="350.3" cy="546.5" r="1.7"/><circle cx="314.0" cy="546.7" r="1.7"/><circle cx="324.6" cy="440.8" r="1.7"/><circle cx="292.4" cy="470.4" r="1.7"/><circle cx="344.1" cy="546.4" r="1.7"/><circle cx="353.3" cy="384.0" r="1.7"/><circle cx="352.9" cy="352.6" r="1.7"/><circle cx="356.0" cy="535.5" r="1.7"/><circle cx="295.8" cy="473.2" r="1.7"/><circle cx="365.2" cy="479.6" r="1.7"/><circle cx="297.8" cy="489.2" r="1.7"/><circle cx="293.9" cy="473.8" r="1.7"/><circle cx="353.8" cy="390.8" r="1.7"/><circle cx="366.7" cy="476.5" r="1.7"/><circle cx="356.7" cy="511.3" r="1.7"/><circle cx="290.1" cy="456.3" r="1.7"/><circle cx="344.4" cy="368.8" r="1.7"/><circle cx="318.5" cy="412.3" r="1.7"/><circle cx="343.0" cy="381.1" r="1.7"/><circle cx="311.4" cy="369.6" r="1.7"/><circle cx="310.0" cy="354.9" r="1.7"/><circle cx="348.4" cy="347.3" r="1.7"/><circle cx="297.2" cy="436.7" r="1.7"/><circle cx="322.6" cy="447.4" r="1.7"/><circle cx="337.3" cy="433.9" r="1.7"/><circle cx="340.9" cy="426.4" r="1.7"/><circle cx="322.2" cy="444.4" r="1.7"/><circle cx="347.3" cy="366.1" r="1.7"/><circle cx="326.5" cy="546.3" r="1.7"/><circle cx="318.7" cy="416.1" r="1.7"/><circle cx="338.5" cy="436.6" r="1.7"/><circle cx="300.7" cy="537.0" r="1.7"/><circle cx="308.2" cy="370.5" r="1.7"/><circle cx="343.0" cy="384.7" r="1.7"/><circle cx="341.5" cy="431.3" r="1.7"/><circle cx="295.2" cy="491.9" r="1.7"/><circle cx="337.3" cy="464.8" r="1.7"/><circle cx="368.5" cy="451.4" r="1.7"/><circle cx="312.9" cy="342.0" r="1.7"/><circle cx="337.7" cy="461.5" r="1.7"/><circle cx="298.6" cy="435.1" r="1.7"/><circle cx="343.6" cy="390.1" r="1.7"/><circle cx="293.2" cy="471.6" r="1.7"/><circle cx="336.8" cy="457.2" r="1.7"/><circle cx="319.7" cy="406.1" r="1.7"/><circle cx="297.2" cy="481.3" r="1.7"/><circle cx="297.0" cy="440.6" r="1.7"/><circle cx="332.6" cy="469.2" r="1.7"/><circle cx="360.6" cy="505.3" r="1.7"/><circle cx="290.0" cy="456.4" r="1.7"/><circle cx="300.1" cy="421.2" r="1.7"/><circle cx="294.9" cy="486.2" r="1.7"/><circle cx="311.1" cy="371.3" r="1.7"/><circle cx="293.0" cy="464.0" r="1.7"/><circle cx="356.2" cy="531.0" r="1.7"/><circle cx="362.4" cy="487.1" r="1.7"/><circle cx="295.7" cy="441.7" r="1.7"/><circle cx="337.1" cy="463.5" r="1.7"/><circle cx="292.4" cy="451.9" r="1.7"/><circle cx="347.3" cy="355.5" r="1.7"/><circle cx="326.0" cy="456.5" r="1.7"/><circle cx="348.0" cy="348.3" r="1.7"/><circle cx="357.6" cy="511.5" r="1.7"/><circle cx="315.5" cy="357.8" r="1.7"/><circle cx="306.4" cy="546.3" r="1.7"/><circle cx="369.0" cy="468.2" r="1.7"/><circle cx="350.3" cy="347.2" r="1.7"/><circle cx="300.1" cy="507.2" r="1.7"/><circle cx="318.7" cy="398.1" r="1.7"/><circle cx="301.9" cy="418.8" r="1.7"/><circle cx="350.6" cy="545.6" r="1.7"/><circle cx="349.1" cy="349.8" r="1.7"/><circle cx="320.5" cy="436.4" r="1.7"/><circle cx="317.4" cy="382.9" r="1.7"/><circle cx="292.1" cy="446.8" r="1.7"/><circle cx="340.2" cy="423.5" r="1.7"/><circle cx="293.3" cy="450.8" r="1.7"/><circle cx="338.2" cy="430.9" r="1.7"/><circle cx="308.6" cy="375.3" r="1.7"/><circle cx="314.8" cy="349.7" r="1.7"/><circle cx="364.5" cy="431.7" r="1.7"/><circle cx="354.5" cy="393.8" r="1.7"/><circle cx="316.3" cy="544.1" r="1.7"/><circle cx="317.7" cy="390.6" r="1.7"/><circle cx="327.1" cy="465.6" r="1.7"/><circle cx="318.9" cy="389.8" r="1.7"/><circle cx="310.3" cy="379.4" r="1.7"/><circle cx="295.2" cy="440.3" r="1.7"/><circle cx="311.4" cy="377.3" r="1.7"/><circle cx="349.2" cy="545.5" r="1.7"/><circle cx="359.3" cy="510.9" r="1.7"/><circle cx="350.8" cy="365.8" r="1.7"/><circle cx="357.5" cy="535.7" r="1.7"/><circle cx="358.6" cy="516.8" r="1.7"/><circle cx="325.0" cy="450.8" r="1.7"/><circle cx="344.2" cy="372.0" r="1.7"/><circle cx="352.4" cy="374.9" r="1.7"/><circle cx="317.2" cy="385.7" r="1.7"/><circle cx="338.7" cy="440.4" r="1.7"/><circle cx="294.8" cy="488.9" r="1.7"/><circle cx="359.4" cy="507.5" r="1.7"/><circle cx="338.1" cy="441.2" r="1.7"/><circle cx="310.3" cy="365.9" r="1.7"/><circle cx="300.5" cy="526.1" r="1.7"/><circle cx="343.9" cy="408.3" r="1.7"/><circle cx="319.0" cy="423.1" r="1.7"/><circle cx="337.9" cy="446.7" r="1.7"/><circle cx="344.2" cy="381.0" r="1.7"/><circle cx="323.5" cy="455.8" r="1.7"/><circle cx="294.2" cy="481.7" r="1.7"/><circle cx="305.5" cy="544.6" r="1.7"/><circle cx="343.0" cy="411.4" r="1.7"/><circle cx="367.2" cy="437.5" r="1.7"/><circle cx="359.7" cy="495.3" r="1.7"/><circle cx="309.2" cy="373.1" r="1.7"/><circle cx="305.7" cy="401.0" r="1.7"/><circle cx="322.0" cy="439.7" r="1.7"/><circle cx="307.7" cy="394.2" r="1.7"/><circle cx="336.7" cy="457.7" r="1.7"/><circle cx="318.3" cy="545.5" r="1.7"/><circle cx="361.9" cy="497.3" r="1.7"/><circle cx="363.7" cy="435.0" r="1.7"/><circle cx="361.4" cy="503.3" r="1.7"/><circle cx="296.4" cy="474.2" r="1.7"/><circle cx="364.0" cy="428.3" r="1.7"/><circle cx="341.8" cy="412.8" r="1.7"/><circle cx="360.3" cy="418.8" r="1.7"/><circle cx="299.3" cy="430.4" r="1.7"/><circle cx="310.0" cy="363.9" r="1.7"/><circle cx="297.6" cy="513.5" r="1.7"/><circle cx="310.1" cy="371.0" r="1.7"/><circle cx="300.5" cy="534.1" r="1.7"/><circle cx="360.6" cy="418.1" r="1.7"/><circle cx="303.4" cy="411.2" r="1.7"/><circle cx="358.4" cy="514.4" r="1.7"/><circle cx="310.8" cy="362.7" r="1.7"/><circle cx="359.0" cy="408.2" r="1.7"/><circle cx="370.9" cy="448.8" r="1.7"/><circle cx="296.4" cy="494.2" r="1.7"/><circle cx="357.2" cy="514.2" r="1.7"/><circle cx="325.3" cy="545.0" r="1.7"/><circle cx="368.0" cy="466.5" r="1.7"/><circle cx="292.7" cy="443.6" r="1.7"/><circle cx="308.9" cy="380.2" r="1.7"/><circle cx="353.0" cy="354.2" r="1.7"/><circle cx="289.0" cy="452.5" r="1.7"/><circle cx="311.1" cy="365.2" r="1.7"/><circle cx="300.4" cy="544.2" r="1.7"/><circle cx="345.4" cy="544.6" r="1.7"/><circle cx="295.0" cy="475.4" r="1.7"/><circle cx="332.3" cy="466.2" r="1.7"/><circle cx="336.8" cy="545.8" r="1.7"/><circle cx="299.3" cy="430.5" r="1.7"/><circle cx="353.2" cy="377.8" r="1.7"/><circle cx="358.2" cy="523.3" r="1.7"/><circle cx="350.8" cy="370.1" r="1.7"/><circle cx="342.3" cy="545.0" r="1.7"/><circle cx="319.0" cy="412.8" r="1.7"/><circle cx="298.9" cy="518.9" r="1.7"/><circle cx="356.6" cy="407.5" r="1.7"/><circle cx="324.5" cy="450.1" r="1.7"/><circle cx="358.2" cy="512.2" r="1.7"/><circle cx="323.1" cy="428.4" r="1.7"/><circle cx="368.8" cy="459.1" r="1.7"/><circle cx="354.9" cy="387.2" r="1.7"/><circle cx="311.6" cy="339.9" r="1.7"/><circle cx="365.3" cy="434.2" r="1.7"/><circle cx="319.9" cy="410.0" r="1.7"/><circle cx="369.3" cy="465.0" r="1.7"/><circle cx="316.3" cy="369.0" r="1.7"/><circle cx="305.7" cy="396.2" r="1.7"/><circle cx="308.6" cy="379.6" r="1.7"/><circle cx="305.5" cy="395.0" r="1.7"/><circle cx="293.1" cy="450.0" r="1.7"/><circle cx="341.5" cy="401.7" r="1.7"/><circle cx="330.1" cy="543.8" r="1.7"/><circle cx="366.9" cy="443.3" r="1.7"/><circle cx="345.3" cy="365.4" r="1.7"/><circle cx="298.6" cy="432.3" r="1.7"/><circle cx="369.1" cy="468.6" r="1.7"/><circle cx="357.7" cy="507.3" r="1.7"/><circle cx="369.4" cy="456.3" r="1.7"/><circle cx="369.2" cy="471.0" r="1.7"/><circle cx="368.1" cy="480.8" r="1.7"/><circle cx="300.0" cy="506.4" r="1.7"/><circle cx="309.4" cy="544.5" r="1.7"/><circle cx="293.9" cy="481.3" r="1.7"/><circle cx="307.2" cy="544.0" r="1.7"/><circle cx="343.4" cy="397.1" r="1.7"/><circle cx="294.3" cy="476.4" r="1.7"/><circle cx="318.3" cy="543.9" r="1.7"/><circle cx="361.1" cy="508.9" r="1.7"/><circle cx="337.6" cy="454.5" r="1.7"/><circle cx="369.6" cy="470.9" r="1.7"/><circle cx="299.0" cy="516.8" r="1.7"/><circle cx="341.5" cy="543.9" r="1.7"/><circle cx="352.2" cy="544.3" r="1.7"/><circle cx="294.6" cy="439.5" r="1.7"/><circle cx="324.2" cy="544.5" r="1.7"/><circle cx="319.5" cy="363.1" r="1.7"/><circle cx="313.0" cy="344.0" r="1.7"/><circle cx="364.9" cy="431.5" r="1.7"/><circle cx="363.6" cy="494.0" r="1.7"/><circle cx="367.5" cy="469.2" r="1.7"/><circle cx="371.0" cy="472.2" r="1.7"/><circle cx="359.7" cy="501.1" r="1.7"/><circle cx="350.3" cy="370.6" r="1.7"/><circle cx="300.5" cy="527.4" r="1.7"/><circle cx="356.0" cy="401.3" r="1.7"/><circle cx="362.2" cy="422.4" r="1.7"/><circle cx="329.6" cy="544.5" r="1.7"/><circle cx="294.3" cy="477.2" r="1.7"/><circle cx="351.7" cy="369.7" r="1.7"/><circle cx="321.7" cy="444.1" r="1.7"/><circle cx="316.6" cy="363.0" r="1.7"/><circle cx="336.5" cy="459.8" r="1.7"/><circle cx="341.2" cy="437.5" r="1.7"/><circle cx="292.8" cy="469.0" r="1.7"/><circle cx="303.4" cy="415.2" r="1.7"/><circle cx="366.5" cy="437.5" r="1.7"/><circle cx="352.8" cy="384.7" r="1.7"/><circle cx="357.3" cy="523.3" r="1.7"/><circle cx="358.5" cy="413.0" r="1.7"/><circle cx="352.3" cy="357.0" r="1.7"/><circle cx="362.7" cy="425.8" r="1.7"/><circle cx="321.1" cy="546.2" r="1.7"/><circle cx="325.9" cy="458.6" r="1.7"/><circle cx="345.1" cy="362.5" r="1.7"/><circle cx="320.8" cy="388.6" r="1.7"/><circle cx="315.8" cy="343.2" r="1.7"/><circle cx="313.1" cy="357.9" r="1.7"/><circle cx="300.4" cy="545.7" r="1.7"/><circle cx="297.6" cy="505.0" r="1.7"/><circle cx="350.7" cy="369.3" r="1.7"/><circle cx="322.7" cy="450.4" r="1.7"/><circle cx="351.0" cy="361.1" r="1.7"/><circle cx="370.6" cy="465.3" r="1.7"/><circle cx="298.1" cy="528.1" r="1.7"/><circle cx="297.0" cy="442.8" r="1.7"/><circle cx="351.1" cy="376.5" r="1.7"/><circle cx="349.9" cy="368.7" r="1.7"/><circle cx="369.5" cy="471.0" r="1.7"/><circle cx="299.8" cy="434.1" r="1.7"/><circle cx="300.5" cy="417.7" r="1.7"/><circle cx="349.3" cy="356.6" r="1.7"/><circle cx="346.3" cy="348.6" r="1.7"/><circle cx="299.4" cy="522.5" r="1.7"/><circle cx="341.8" cy="435.2" r="1.7"/><circle cx="294.0" cy="476.1" r="1.7"/><circle cx="312.2" cy="346.1" r="1.7"/><circle cx="354.1" cy="542.5" r="1.7"/><circle cx="299.1" cy="517.0" r="1.7"/><circle cx="343.1" cy="421.7" r="1.7"/><circle cx="354.1" cy="382.3" r="1.7"/><circle cx="312.0" cy="356.1" r="1.7"/><circle cx="298.3" cy="432.6" r="1.7"/><circle cx="297.5" cy="522.3" r="1.7"/><circle cx="354.2" cy="389.5" r="1.7"/><circle cx="316.9" cy="368.4" r="1.7"/><circle cx="315.4" cy="358.1" r="1.7"/><circle cx="308.1" cy="389.6" r="1.7"/><circle cx="294.6" cy="473.1" r="1.7"/><circle cx="300.5" cy="535.9" r="1.7"/><circle cx="303.1" cy="411.0" r="1.7"/><circle cx="317.1" cy="391.9" r="1.7"/><circle cx="298.7" cy="510.1" r="1.7"/><circle cx="355.7" cy="387.0" r="1.7"/><circle cx="301.9" cy="424.0" r="1.7"/><circle cx="295.8" cy="436.1" r="1.7"/><circle cx="301.8" cy="427.0" r="1.7"/><circle cx="316.2" cy="351.3" r="1.7"/><circle cx="354.5" cy="530.8" r="1.7"/><circle cx="314.9" cy="358.0" r="1.7"/><circle cx="360.8" cy="422.2" r="1.7"/><circle cx="323.6" cy="547.0" r="1.7"/><circle cx="355.0" cy="535.9" r="1.7"/><circle cx="357.5" cy="510.2" r="1.7"/><circle cx="344.6" cy="546.2" r="1.7"/><circle cx="369.1" cy="462.0" r="1.7"/><circle cx="352.1" cy="361.8" r="1.7"/><circle cx="320.5" cy="441.9" r="1.7"/><circle cx="294.7" cy="444.7" r="1.7"/><circle cx="350.7" cy="346.7" r="1.7"/><circle cx="300.1" cy="429.6" r="1.7"/><circle cx="315.5" cy="360.3" r="1.7"/><circle cx="318.6" cy="385.2" r="1.7"/><circle cx="309.4" cy="378.2" r="1.7"/><circle cx="350.5" cy="373.7" r="1.7"/><circle cx="297.6" cy="531.5" r="1.7"/><circle cx="322.3" cy="417.4" r="1.7"/><circle cx="305.5" cy="386.2" r="1.7"/><circle cx="321.5" cy="432.2" r="1.7"/><circle cx="357.7" cy="406.3" r="1.7"/><circle cx="316.4" cy="372.0" r="1.7"/><circle cx="356.4" cy="530.0" r="1.7"/><circle cx="360.8" cy="425.5" r="1.7"/><circle cx="320.4" cy="429.0" r="1.7"/><circle cx="293.9" cy="467.9" r="1.7"/><circle cx="308.2" cy="374.6" r="1.7"/><circle cx="301.6" cy="537.4" r="1.7"/><circle cx="320.7" cy="426.4" r="1.7"/><circle cx="303.2" cy="414.6" r="1.7"/><circle cx="320.2" cy="399.1" r="1.7"/><circle cx="357.8" cy="511.4" r="1.7"/><circle cx="361.3" cy="412.5" r="1.7"/><circle cx="338.9" cy="453.2" r="1.7"/><circle cx="321.4" cy="445.0" r="1.7"/><circle cx="296.9" cy="487.2" r="1.7"/><circle cx="322.0" cy="450.5" r="1.7"/><circle cx="316.0" cy="348.6" r="1.7"/><circle cx="308.1" cy="375.9" r="1.7"/><circle cx="348.0" cy="356.7" r="1.7"/><circle cx="328.9" cy="471.1" r="1.7"/><circle cx="337.9" cy="457.4" r="1.7"/><circle cx="342.3" cy="427.6" r="1.7"/><circle cx="350.9" cy="351.9" r="1.7"/><circle cx="296.5" cy="440.8" r="1.7"/><circle cx="306.8" cy="400.8" r="1.7"/><circle cx="354.6" cy="367.3" r="1.7"/><circle cx="334.7" cy="459.6" r="1.7"/><circle cx="365.3" cy="479.3" r="1.7"/><circle cx="360.2" cy="414.9" r="1.7"/><circle cx="343.0" cy="386.0" r="1.7"/><circle cx="354.5" cy="377.4" r="1.7"/><circle cx="318.6" cy="423.2" r="1.7"/><circle cx="302.7" cy="413.8" r="1.7"/><circle cx="306.2" cy="407.7" r="1.7"/><circle cx="300.7" cy="515.4" r="1.7"/><circle cx="370.8" cy="467.5" r="1.7"/><circle cx="298.1" cy="489.4" r="1.7"/><circle cx="314.5" cy="544.3" r="1.7"/><circle cx="353.1" cy="376.7" r="1.7"/><circle cx="310.3" cy="374.6" r="1.7"/><circle cx="355.8" cy="381.1" r="1.7"/><circle cx="310.7" cy="362.0" r="1.7"/><circle cx="358.9" cy="511.3" r="1.7"/><circle cx="294.7" cy="446.8" r="1.7"/><circle cx="347.1" cy="368.6" r="1.7"/><circle cx="357.0" cy="516.4" r="1.7"/><circle cx="354.3" cy="533.3" r="1.7"/><circle cx="293.6" cy="464.6" r="1.7"/><circle cx="326.4" cy="545.6" r="1.7"/><circle cx="357.3" cy="397.6" r="1.7"/><circle cx="354.9" cy="534.0" r="1.7"/><circle cx="343.9" cy="385.5" r="1.7"/><circle cx="355.3" cy="525.2" r="1.7"/><circle cx="360.5" cy="492.0" r="1.7"/><circle cx="364.4" cy="486.4" r="1.7"/><circle cx="320.6" cy="404.1" r="1.7"/><circle cx="339.1" cy="445.8" r="1.7"/><circle cx="318.6" cy="371.9" r="1.7"/><circle cx="343.7" cy="394.0" r="1.7"/><circle cx="322.0" cy="434.5" r="1.7"/><circle cx="294.0" cy="441.7" r="1.7"/><circle cx="302.1" cy="544.0" r="1.7"/><circle cx="294.4" cy="441.3" r="1.7"/><circle cx="354.4" cy="535.1" r="1.7"/><circle cx="318.6" cy="386.2" r="1.7"/><circle cx="366.9" cy="481.2" r="1.7"/><circle cx="317.8" cy="376.3" r="1.7"/><circle cx="327.1" cy="461.0" r="1.7"/><circle cx="322.9" cy="445.2" r="1.7"/><circle cx="359.4" cy="404.2" r="1.7"/><circle cx="345.6" cy="380.8" r="1.7"/><circle cx="302.8" cy="414.2" r="1.7"/><circle cx="294.4" cy="470.1" r="1.7"/><circle cx="296.4" cy="492.9" r="1.7"/><circle cx="338.3" cy="439.6" r="1.7"/><circle cx="322.1" cy="430.1" r="1.7"/><circle cx="306.9" cy="398.6" r="1.7"/><circle cx="305.4" cy="405.1" r="1.7"/><circle cx="345.8" cy="376.1" r="1.7"/><circle cx="323.9" cy="456.2" r="1.7"/><circle cx="348.1" cy="362.7" r="1.7"/><circle cx="301.0" cy="527.9" r="1.7"/><circle cx="302.3" cy="405.1" r="1.7"/><circle cx="324.1" cy="448.7" r="1.7"/><circle cx="339.1" cy="439.1" r="1.7"/><circle cx="344.2" cy="383.0" r="1.7"/><circle cx="316.1" cy="353.2" r="1.7"/><circle cx="310.3" cy="359.8" r="1.7"/><circle cx="344.5" cy="380.3" r="1.7"/><circle cx="317.5" cy="402.9" r="1.7"/><circle cx="335.5" cy="547.2" r="1.7"/><circle cx="365.2" cy="433.3" r="1.7"/><circle cx="295.3" cy="446.0" r="1.7"/><circle cx="342.8" cy="427.7" r="1.7"/><circle cx="324.6" cy="451.1" r="1.7"/><circle cx="335.9" cy="544.2" r="1.7"/><circle cx="315.6" cy="360.0" r="1.7"/><circle cx="318.3" cy="372.8" r="1.7"/><circle cx="318.5" cy="368.6" r="1.7"/><circle cx="312.4" cy="353.5" r="1.7"/><circle cx="340.7" cy="443.2" r="1.7"/><circle cx="300.0" cy="522.6" r="1.7"/><circle cx="346.9" cy="366.4" r="1.7"/><circle cx="296.0" cy="483.4" r="1.7"/><circle cx="310.2" cy="366.9" r="1.7"/><circle cx="316.6" cy="545.4" r="1.7"/><circle cx="312.4" cy="368.5" r="1.7"/><circle cx="304.5" cy="390.6" r="1.7"/><circle cx="296.3" cy="508.6" r="1.7"/><circle cx="343.6" cy="544.2" r="1.7"/><circle cx="324.4" cy="447.6" r="1.7"/><circle cx="346.7" cy="371.0" r="1.7"/><circle cx="309.0" cy="386.8" r="1.7"/><circle cx="294.9" cy="482.2" r="1.7"/><circle cx="306.2" cy="400.0" r="1.7"/><circle cx="364.3" cy="438.0" r="1.7"/><circle cx="362.1" cy="503.0" r="1.7"/><circle cx="301.2" cy="429.3" r="1.7"/><circle cx="298.4" cy="518.3" r="1.7"/><circle cx="325.5" cy="544.4" r="1.7"/><circle cx="292.9" cy="455.0" r="1.7"/><circle cx="294.1" cy="474.6" r="1.7"/><circle cx="346.3" cy="355.1" r="1.7"/><circle cx="325.0" cy="544.3" r="1.7"/><circle cx="302.0" cy="544.5" r="1.7"/><circle cx="360.6" cy="419.6" r="1.7"/><circle cx="358.3" cy="403.9" r="1.7"/><circle cx="354.3" cy="377.9" r="1.7"/><circle cx="364.3" cy="428.5" r="1.7"/><circle cx="310.8" cy="368.9" r="1.7"/><circle cx="346.0" cy="546.8" r="1.7"/><circle cx="321.5" cy="441.3" r="1.7"/><circle cx="316.5" cy="352.5" r="1.7"/><circle cx="317.3" cy="373.8" r="1.7"/><circle cx="306.3" cy="398.1" r="1.7"/><circle cx="304.7" cy="412.0" r="1.7"/><circle cx="327.8" cy="544.0" r="1.7"/><circle cx="327.3" cy="544.2" r="1.7"/><circle cx="329.4" cy="470.5" r="1.7"/><circle cx="337.9" cy="452.3" r="1.7"/><circle cx="341.9" cy="437.5" r="1.7"/><circle cx="354.0" cy="391.4" r="1.7"/><circle cx="296.7" cy="518.0" r="1.7"/><circle cx="358.6" cy="412.2" r="1.7"/><circle cx="297.5" cy="536.5" r="1.7"/><circle cx="305.9" cy="409.5" r="1.7"/><circle cx="297.5" cy="498.8" r="1.7"/><circle cx="300.7" cy="537.9" r="1.7"/><circle cx="341.7" cy="409.2" r="1.7"/><circle cx="327.4" cy="463.0" r="1.7"/><circle cx="359.2" cy="509.3" r="1.7"/><circle cx="293.0" cy="453.9" r="1.7"/><circle cx="309.5" cy="546.0" r="1.7"/><circle cx="347.1" cy="373.1" r="1.7"/><circle cx="369.1" cy="458.2" r="1.7"/><circle cx="303.9" cy="411.6" r="1.7"/><circle cx="291.1" cy="457.0" r="1.7"/><circle cx="363.6" cy="429.9" r="1.7"/><circle cx="313.6" cy="342.3" r="1.7"/><circle cx="304.6" cy="407.2" r="1.7"/><circle cx="309.9" cy="378.6" r="1.7"/><circle cx="308.7" cy="395.6" r="1.7"/><circle cx="298.5" cy="493.4" r="1.7"/><circle cx="351.9" cy="367.7" r="1.7"/><circle cx="309.0" cy="371.8" r="1.7"/><circle cx="327.1" cy="455.3" r="1.7"/><circle cx="360.5" cy="423.5" r="1.7"/><circle cx="312.5" cy="544.4" r="1.7"/><circle cx="295.1" cy="476.6" r="1.7"/><circle cx="347.6" cy="367.8" r="1.7"/><circle cx="321.6" cy="436.5" r="1.7"/><circle cx="315.1" cy="339.5" r="1.7"/><circle cx="317.5" cy="546.8" r="1.7"/><circle cx="326.6" cy="464.6" r="1.7"/><circle cx="290.5" cy="454.6" r="1.7"/><circle cx="305.7" cy="409.0" r="1.7"/><circle cx="349.9" cy="344.5" r="1.7"/><circle cx="344.8" cy="367.6" r="1.7"/><circle cx="337.7" cy="452.2" r="1.7"/><circle cx="300.2" cy="536.7" r="1.7"/><circle cx="366.3" cy="480.4" r="1.7"/><circle cx="356.9" cy="516.2" r="1.7"/><circle cx="367.2" cy="476.1" r="1.7"/><circle cx="297.3" cy="501.7" r="1.7"/><circle cx="295.7" cy="439.0" r="1.7"/><circle cx="315.6" cy="344.4" r="1.7"/><circle cx="333.3" cy="468.2" r="1.7"/><circle cx="341.8" cy="401.0" r="1.7"/><circle cx="367.9" cy="448.3" r="1.7"/><circle cx="308.2" cy="387.9" r="1.7"/><circle cx="320.7" cy="423.0" r="1.7"/><circle cx="307.2" cy="384.1" r="1.7"/><circle cx="297.2" cy="495.1" r="1.7"/><circle cx="303.8" cy="409.8" r="1.7"/><circle cx="323.0" cy="546.7" r="1.7"/><circle cx="318.4" cy="399.2" r="1.7"/><circle cx="351.4" cy="379.3" r="1.7"/><circle cx="361.7" cy="429.3" r="1.7"/><circle cx="320.4" cy="414.4" r="1.7"/><circle cx="342.7" cy="403.3" r="1.7"/><circle cx="367.2" cy="475.9" r="1.7"/><circle cx="360.0" cy="494.0" r="1.7"/><circle cx="317.3" cy="354.4" r="1.7"/><circle cx="292.4" cy="459.8" r="1.7"/><circle cx="350.6" cy="361.8" r="1.7"/><circle cx="295.3" cy="466.9" r="1.7"/><circle cx="311.6" cy="356.2" r="1.7"/><circle cx="324.6" cy="544.1" r="1.7"/><circle cx="303.1" cy="546.4" r="1.7"/><circle cx="341.7" cy="425.3" r="1.7"/><circle cx="324.6" cy="445.8" r="1.7"/><circle cx="308.3" cy="546.6" r="1.7"/><circle cx="343.3" cy="379.4" r="1.7"/><circle cx="304.0" cy="397.8" r="1.7"/><circle cx="294.8" cy="462.3" r="1.7"/><circle cx="358.6" cy="515.8" r="1.7"/><circle cx="310.9" cy="350.0" r="1.7"/><circle cx="365.8" cy="479.8" r="1.7"/><circle cx="367.9" cy="474.2" r="1.7"/><circle cx="311.3" cy="355.5" r="1.7"/><circle cx="320.2" cy="426.5" r="1.7"/><circle cx="343.4" cy="379.2" r="1.7"/><circle cx="342.3" cy="395.6" r="1.7"/><circle cx="300.4" cy="525.4" r="1.7"/><circle cx="344.9" cy="369.3" r="1.7"/><circle cx="332.5" cy="471.6" r="1.7"/><circle cx="327.1" cy="461.7" r="1.7"/><circle cx="310.6" cy="364.2" r="1.7"/><circle cx="299.6" cy="516.1" r="1.7"/><circle cx="315.4" cy="365.5" r="1.7"/><circle cx="356.9" cy="517.6" r="1.7"/><circle cx="316.9" cy="351.1" r="1.7"/><circle cx="347.4" cy="367.9" r="1.7"/><circle cx="347.2" cy="343.6" r="1.7"/><circle cx="297.7" cy="501.1" r="1.7"/><circle cx="320.4" cy="398.1" r="1.7"/><circle cx="312.1" cy="345.8" r="1.7"/><circle cx="358.1" cy="502.9" r="1.7"/><circle cx="352.3" cy="370.3" r="1.7"/><circle cx="299.7" cy="526.0" r="1.7"/><circle cx="342.5" cy="392.4" r="1.7"/><circle cx="309.6" cy="365.2" r="1.7"/><circle cx="297.1" cy="500.9" r="1.7"/><circle cx="305.5" cy="393.2" r="1.7"/><circle cx="347.6" cy="353.5" r="1.7"/><circle cx="321.3" cy="440.4" r="1.7"/><circle cx="338.0" cy="460.7" r="1.7"/><circle cx="321.0" cy="411.9" r="1.7"/><circle cx="349.2" cy="347.0" r="1.7"/><circle cx="326.2" cy="459.3" r="1.7"/><circle cx="298.2" cy="522.0" r="1.7"/><circle cx="323.1" cy="451.6" r="1.7"/><circle cx="317.3" cy="363.9" r="1.7"/><circle cx="320.3" cy="442.7" r="1.7"/><circle cx="328.0" cy="545.9" r="1.7"/><circle cx="368.3" cy="444.5" r="1.7"/><circle cx="346.6" cy="378.8" r="1.7"/><circle cx="292.0" cy="459.6" r="1.7"/><circle cx="371.7" cy="458.5" r="1.7"/><circle cx="343.0" cy="406.8" r="1.7"/><circle cx="304.5" cy="398.5" r="1.7"/><circle cx="362.5" cy="485.1" r="1.7"/><circle cx="360.6" cy="418.8" r="1.7"/><circle cx="358.1" cy="405.3" r="1.7"/><circle cx="301.7" cy="414.3" r="1.7"/><circle cx="370.7" cy="459.1" r="1.7"/><circle cx="362.5" cy="495.5" r="1.7"/><circle cx="320.5" cy="405.9" r="1.7"/><circle cx="319.3" cy="355.2" r="1.7"/><circle cx="298.3" cy="430.8" r="1.7"/><circle cx="303.6" cy="412.1" r="1.7"/><circle cx="299.3" cy="509.9" r="1.7"/><circle cx="352.9" cy="386.9" r="1.7"/><circle cx="321.4" cy="442.7" r="1.7"/><circle cx="362.7" cy="427.6" r="1.7"/><circle cx="294.8" cy="436.1" r="1.7"/><circle cx="341.5" cy="547.0" r="1.7"/><circle cx="349.9" cy="342.0" r="1.7"/><circle cx="296.7" cy="477.1" r="1.7"/><circle cx="307.0" cy="398.4" r="1.7"/><circle cx="341.1" cy="434.0" r="1.7"/><circle cx="358.7" cy="410.4" r="1.7"/><circle cx="346.3" cy="364.3" r="1.7"/><circle cx="357.8" cy="519.4" r="1.7"/><circle cx="327.7" cy="545.4" r="1.7"/><circle cx="363.8" cy="495.7" r="1.7"/><circle cx="317.3" cy="361.5" r="1.7"/><circle cx="371.2" cy="454.1" r="1.7"/><circle cx="342.8" cy="400.1" r="1.7"/><circle cx="300.4" cy="428.0" r="1.7"/><circle cx="307.5" cy="401.9" r="1.7"/><circle cx="293.5" cy="444.9" r="1.7"/><circle cx="317.7" cy="352.5" r="1.7"/><circle cx="338.4" cy="543.8" r="1.7"/><circle cx="293.5" cy="468.6" r="1.7"/><circle cx="367.4" cy="478.1" r="1.7"/><circle cx="312.7" cy="363.8" r="1.7"/><circle cx="343.5" cy="397.1" r="1.7"/><circle cx="354.9" cy="392.1" r="1.7"/><circle cx="356.5" cy="400.6" r="1.7"/><circle cx="356.5" cy="535.1" r="1.7"/><circle cx="296.9" cy="536.8" r="1.7"/><circle cx="355.6" cy="400.0" r="1.7"/><circle cx="314.1" cy="341.1" r="1.7"/><circle cx="347.9" cy="345.0" r="1.7"/><circle cx="339.0" cy="445.0" r="1.7"/><circle cx="293.6" cy="462.1" r="1.7"/><circle cx="332.5" cy="543.8" r="1.7"/><circle cx="352.1" cy="373.5" r="1.7"/><circle cx="277.0" cy="506.6" r="1.7"/><circle cx="372.0" cy="483.0" r="1.7"/><circle cx="373.2" cy="497.2" r="1.7"/><circle cx="378.1" cy="546.4" r="1.7"/><circle cx="365.5" cy="524.1" r="1.7"/><circle cx="357.3" cy="543.1" r="1.7"/><circle cx="296.7" cy="504.4" r="1.7"/><circle cx="289.5" cy="523.6" r="1.7"/><circle cx="292.6" cy="539.3" r="1.7"/><circle cx="360.1" cy="540.6" r="1.7"/><circle cx="295.6" cy="499.3" r="1.7"/><circle cx="357.0" cy="538.5" r="1.7"/><circle cx="375.1" cy="535.6" r="1.7"/><circle cx="358.2" cy="542.6" r="1.7"/><circle cx="254.0" cy="529.9" r="1.7"/><circle cx="368.3" cy="538.3" r="1.7"/><circle cx="377.8" cy="544.6" r="1.7"/><circle cx="361.3" cy="540.4" r="1.7"/><circle cx="378.8" cy="540.8" r="1.7"/><circle cx="368.9" cy="482.9" r="1.7"/><circle cx="292.8" cy="545.7" r="1.7"/><circle cx="357.4" cy="546.1" r="1.7"/><circle cx="328.0" cy="458.3" r="1.7"/><circle cx="368.8" cy="512.3" r="1.7"/><circle cx="376.1" cy="501.4" r="1.7"/><circle cx="368.7" cy="527.7" r="1.7"/><circle cx="287.8" cy="493.1" r="1.7"/><circle cx="290.4" cy="519.6" r="1.7"/><circle cx="364.2" cy="520.8" r="1.7"/><circle cx="370.5" cy="534.3" r="1.7"/><circle cx="371.9" cy="518.5" r="1.7"/><circle cx="370.6" cy="481.1" r="1.7"/><circle cx="364.8" cy="493.1" r="1.7"/><circle cx="380.9" cy="545.7" r="1.7"/><circle cx="289.7" cy="539.2" r="1.7"/><circle cx="296.4" cy="524.8" r="1.7"/><circle cx="361.7" cy="523.4" r="1.7"/><circle cx="385.7" cy="533.0" r="1.7"/><circle cx="365.7" cy="535.8" r="1.7"/><circle cx="371.5" cy="537.8" r="1.7"/><circle cx="292.2" cy="543.7" r="1.7"/><circle cx="277.2" cy="507.9" r="1.7"/><circle cx="289.8" cy="517.6" r="1.7"/><circle cx="286.3" cy="524.6" r="1.7"/><circle cx="294.0" cy="507.9" r="1.7"/><circle cx="365.1" cy="530.9" r="1.7"/><circle cx="358.3" cy="547.1" r="1.7"/><circle cx="287.1" cy="522.2" r="1.7"/><circle cx="297.3" cy="539.0" r="1.7"/><circle cx="361.3" cy="511.3" r="1.7"/><circle cx="286.0" cy="545.1" r="1.7"/><circle cx="289.7" cy="492.3" r="1.7"/><circle cx="360.8" cy="536.8" r="1.7"/><circle cx="282.4" cy="537.2" r="1.7"/><circle cx="366.2" cy="543.4" r="1.7"/><circle cx="357.5" cy="546.5" r="1.7"/><circle cx="295.6" cy="510.1" r="1.7"/><circle cx="274.3" cy="546.1" r="1.7"/><circle cx="366.6" cy="533.0" r="1.7"/><circle cx="289.2" cy="541.5" r="1.7"/><circle cx="291.0" cy="512.8" r="1.7"/><circle cx="363.5" cy="521.7" r="1.7"/><circle cx="357.3" cy="535.8" r="1.7"/><circle cx="364.0" cy="505.4" r="1.7"/><circle cx="291.6" cy="547.2" r="1.7"/><circle cx="366.1" cy="544.3" r="1.7"/><circle cx="371.7" cy="525.4" r="1.7"/><circle cx="286.8" cy="527.7" r="1.7"/><circle cx="280.3" cy="547.0" r="1.7"/><circle cx="288.7" cy="509.8" r="1.7"/><circle cx="361.4" cy="534.7" r="1.7"/><circle cx="373.9" cy="504.5" r="1.7"/><circle cx="362.4" cy="536.3" r="1.7"/><circle cx="295.6" cy="531.1" r="1.7"/><circle cx="295.2" cy="530.8" r="1.7"/><circle cx="366.3" cy="544.2" r="1.7"/><circle cx="325.9" cy="446.2" r="1.7"/><circle cx="375.7" cy="535.0" r="1.7"/><circle cx="293.4" cy="545.9" r="1.7"/><circle cx="291.7" cy="527.3" r="1.7"/><circle cx="359.2" cy="536.7" r="1.7"/><circle cx="330.6" cy="456.0" r="1.7"/><circle cx="368.3" cy="522.3" r="1.7"/><circle cx="276.9" cy="533.3" r="1.7"/><circle cx="375.2" cy="531.2" r="1.7"/><circle cx="274.6" cy="543.8" r="1.7"/><circle cx="279.8" cy="524.0" r="1.7"/><circle cx="293.6" cy="476.1" r="1.7"/><circle cx="275.7" cy="498.2" r="1.7"/><circle cx="281.5" cy="540.6" r="1.7"/><circle cx="373.4" cy="535.1" r="1.7"/><circle cx="283.2" cy="511.2" r="1.7"/><circle cx="363.3" cy="506.2" r="1.7"/><circle cx="330.5" cy="458.7" r="1.7"/><circle cx="362.3" cy="506.0" r="1.7"/><circle cx="359.1" cy="534.8" r="1.7"/><circle cx="370.5" cy="497.4" r="1.7"/><circle cx="365.2" cy="510.9" r="1.7"/><circle cx="288.7" cy="492.3" r="1.7"/><circle cx="285.8" cy="526.8" r="1.7"/><circle cx="293.5" cy="482.9" r="1.7"/><circle cx="366.0" cy="518.3" r="1.7"/><circle cx="358.0" cy="538.7" r="1.7"/><circle cx="364.5" cy="505.2" r="1.7"/><circle cx="359.6" cy="544.2" r="1.7"/><circle cx="367.1" cy="536.5" r="1.7"/><circle cx="279.4" cy="513.3" r="1.7"/><circle cx="295.5" cy="512.8" r="1.7"/><circle cx="297.2" cy="538.7" r="1.7"/><circle cx="294.7" cy="483.6" r="1.7"/><circle cx="287.3" cy="460.6" r="1.7"/><circle cx="296.8" cy="544.6" r="1.7"/><circle cx="369.3" cy="533.1" r="1.7"/><circle cx="289.7" cy="541.4" r="1.7"/><circle cx="296.1" cy="506.0" r="1.7"/><circle cx="324.4" cy="435.3" r="1.7"/><circle cx="273.0" cy="545.1" r="1.7"/><circle cx="269.8" cy="511.8" r="1.7"/><circle cx="271.4" cy="518.8" r="1.7"/><circle cx="287.9" cy="477.3" r="1.7"/><circle cx="286.8" cy="540.5" r="1.7"/><circle cx="286.9" cy="495.3" r="1.7"/><circle cx="290.1" cy="539.8" r="1.7"/><circle cx="360.1" cy="519.6" r="1.7"/><circle cx="377.2" cy="539.7" r="1.7"/><circle cx="292.5" cy="481.5" r="1.7"/><circle cx="333.4" cy="441.1" r="1.7"/><circle cx="264.0" cy="523.4" r="1.7"/><circle cx="274.5" cy="546.5" r="1.7"/><circle cx="360.0" cy="518.9" r="1.7"/><circle cx="360.5" cy="542.2" r="1.7"/><circle cx="402.5" cy="538.4" r="1.7"/><circle cx="291.2" cy="504.5" r="1.7"/><circle cx="362.7" cy="529.4" r="1.7"/><circle cx="386.8" cy="496.1" r="1.7"/><circle cx="365.4" cy="526.0" r="1.7"/><circle cx="380.1" cy="483.4" r="1.7"/><circle cx="365.7" cy="534.0" r="1.7"/><circle cx="291.8" cy="505.3" r="1.7"/><circle cx="357.2" cy="536.3" r="1.7"/><circle cx="377.5" cy="507.2" r="1.7"/><circle cx="290.5" cy="499.7" r="1.7"/><circle cx="363.3" cy="519.1" r="1.7"/><circle cx="366.3" cy="530.3" r="1.7"/><circle cx="362.4" cy="522.2" r="1.7"/><circle cx="369.2" cy="523.0" r="1.7"/><circle cx="359.9" cy="538.6" r="1.7"/><circle cx="378.8" cy="536.8" r="1.7"/><circle cx="288.1" cy="487.0" r="1.7"/><circle cx="285.2" cy="517.5" r="1.7"/><circle cx="285.3" cy="492.9" r="1.7"/><circle cx="332.7" cy="445.8" r="1.7"/><circle cx="360.7" cy="540.7" r="1.7"/><circle cx="269.8" cy="542.2" r="1.7"/><circle cx="372.6" cy="504.7" r="1.7"/><circle cx="269.2" cy="489.8" r="1.7"/><circle cx="280.9" cy="533.9" r="1.7"/><circle cx="269.3" cy="545.6" r="1.7"/><circle cx="291.9" cy="539.6" r="1.7"/><circle cx="256.4" cy="530.3" r="1.7"/><circle cx="279.1" cy="497.5" r="1.7"/><circle cx="359.2" cy="540.8" r="1.7"/><circle cx="378.0" cy="534.4" r="1.7"/><circle cx="369.1" cy="523.2" r="1.7"/><circle cx="380.4" cy="489.1" r="1.7"/><circle cx="365.7" cy="520.6" r="1.7"/><circle cx="370.0" cy="527.3" r="1.7"/><circle cx="375.4" cy="499.9" r="1.7"/><circle cx="295.1" cy="547.1" r="1.7"/><circle cx="270.3" cy="483.5" r="1.7"/><circle cx="363.1" cy="506.6" r="1.7"/><circle cx="297.8" cy="532.6" r="1.7"/><circle cx="376.6" cy="546.4" r="1.7"/><circle cx="369.5" cy="519.8" r="1.7"/><circle cx="362.1" cy="542.7" r="1.7"/><circle cx="359.8" cy="537.7" r="1.7"/><circle cx="362.1" cy="540.9" r="1.7"/><circle cx="410.2" cy="541.5" r="1.7"/><circle cx="294.1" cy="486.2" r="1.7"/><circle cx="370.4" cy="524.1" r="1.7"/><circle cx="296.6" cy="526.5" r="1.7"/><circle cx="275.1" cy="542.9" r="1.7"/><circle cx="276.0" cy="508.6" r="1.7"/><circle cx="376.5" cy="464.1" r="1.7"/><circle cx="277.3" cy="500.7" r="1.7"/><circle cx="277.9" cy="525.9" r="1.7"/><circle cx="360.6" cy="521.5" r="1.7"/><circle cx="360.9" cy="540.6" r="1.7"/><circle cx="371.8" cy="529.0" r="1.7"/><circle cx="291.7" cy="530.0" r="1.7"/><circle cx="278.5" cy="499.6" r="1.7"/><circle cx="380.5" cy="486.6" r="1.7"/><circle cx="289.4" cy="544.7" r="1.7"/><circle cx="359.5" cy="523.7" r="1.7"/><circle cx="290.2" cy="503.1" r="1.7"/><circle cx="364.3" cy="544.2" r="1.7"/><circle cx="367.5" cy="515.9" r="1.7"/><circle cx="359.6" cy="531.6" r="1.7"/><circle cx="361.6" cy="542.1" r="1.7"/><circle cx="293.3" cy="543.5" r="1.7"/><circle cx="359.1" cy="545.6" r="1.7"/><circle cx="374.0" cy="511.7" r="1.7"/><circle cx="297.9" cy="544.3" r="1.7"/><circle cx="381.4" cy="531.4" r="1.7"/><circle cx="285.9" cy="539.9" r="1.7"/><circle cx="290.9" cy="536.5" r="1.7"/><circle cx="287.3" cy="505.1" r="1.7"/><circle cx="365.4" cy="540.7" r="1.7"/><circle cx="361.5" cy="525.3" r="1.7"/><circle cx="282.2" cy="505.5" r="1.7"/><circle cx="391.7" cy="528.5" r="1.7"/><circle cx="331.2" cy="450.3" r="1.7"/><circle cx="379.0" cy="546.5" r="1.7"/><circle cx="287.1" cy="545.0" r="1.7"/><circle cx="327.6" cy="451.3" r="1.7"/><circle cx="275.1" cy="533.0" r="1.7"/><circle cx="367.7" cy="541.5" r="1.7"/><circle cx="265.5" cy="534.2" r="1.7"/><circle cx="285.2" cy="525.6" r="1.7"/><circle cx="290.2" cy="535.8" r="1.7"/><circle cx="333.5" cy="444.0" r="1.7"/><circle cx="362.0" cy="515.3" r="1.7"/><circle cx="379.3" cy="536.9" r="1.7"/><circle cx="294.6" cy="539.7" r="1.7"/><circle cx="388.8" cy="527.5" r="1.7"/><circle cx="336.6" cy="449.6" r="1.7"/><circle cx="358.4" cy="535.0" r="1.7"/><circle cx="364.5" cy="538.8" r="1.7"/><circle cx="289.5" cy="528.8" r="1.7"/><circle cx="285.9" cy="545.7" r="1.7"/><circle cx="295.6" cy="510.6" r="1.7"/><circle cx="282.1" cy="533.3" r="1.7"/><circle cx="368.2" cy="541.2" r="1.7"/><circle cx="295.0" cy="540.3" r="1.7"/><circle cx="365.9" cy="485.2" r="1.7"/><circle cx="381.6" cy="470.1" r="1.7"/><circle cx="368.4" cy="537.7" r="1.7"/><circle cx="365.7" cy="502.8" r="1.7"/><circle cx="261.5" cy="537.3" r="1.7"/><circle cx="370.0" cy="494.7" r="1.7"/><circle cx="399.6" cy="498.8" r="1.7"/><circle cx="262.4" cy="508.0" r="1.7"/><circle cx="366.8" cy="507.8" r="1.7"/><circle cx="371.4" cy="514.3" r="1.7"/><circle cx="298.6" cy="543.7" r="1.7"/><circle cx="374.0" cy="538.6" r="1.7"/><circle cx="364.0" cy="532.3" r="1.7"/><circle cx="296.3" cy="502.2" r="1.7"/><circle cx="359.9" cy="537.6" r="1.7"/><circle cx="389.2" cy="536.9" r="1.7"/><circle cx="359.6" cy="526.5" r="1.7"/><circle cx="364.7" cy="540.9" r="1.7"/><circle cx="381.5" cy="540.4" r="1.7"/><circle cx="364.5" cy="518.2" r="1.7"/><circle cx="279.1" cy="517.0" r="1.7"/><circle cx="270.4" cy="520.5" r="1.7"/><circle cx="280.8" cy="475.8" r="1.7"/><circle cx="358.3" cy="536.4" r="1.7"/><circle cx="373.7" cy="543.3" r="1.7"/><circle cx="388.5" cy="530.0" r="1.7"/><circle cx="289.2" cy="498.2" r="1.7"/><circle cx="383.3" cy="476.1" r="1.7"/><circle cx="326.3" cy="434.1" r="1.7"/><circle cx="359.6" cy="523.9" r="1.7"/><circle cx="289.1" cy="476.6" r="1.7"/><circle cx="374.4" cy="486.2" r="1.7"/><circle cx="297.2" cy="533.9" r="1.7"/><circle cx="357.1" cy="542.0" r="1.7"/><circle cx="383.6" cy="508.0" r="1.7"/><circle cx="385.4" cy="513.6" r="1.7"/><circle cx="368.4" cy="537.4" r="1.7"/><circle cx="297.5" cy="520.6" r="1.7"/><circle cx="296.3" cy="520.9" r="1.7"/><circle cx="374.5" cy="533.1" r="1.7"/><circle cx="287.5" cy="511.7" r="1.7"/><circle cx="263.8" cy="539.1" r="1.7"/><circle cx="264.0" cy="497.1" r="1.7"/><circle cx="293.7" cy="526.6" r="1.7"/><circle cx="378.3" cy="540.7" r="1.7"/><circle cx="376.6" cy="521.6" r="1.7"/><circle cx="294.6" cy="507.9" r="1.7"/><circle cx="334.0" cy="434.9" r="1.7"/><circle cx="279.7" cy="543.6" r="1.7"/><circle cx="361.4" cy="506.3" r="1.7"/><circle cx="371.9" cy="535.9" r="1.7"/><circle cx="369.7" cy="507.4" r="1.7"/><circle cx="288.8" cy="520.3" r="1.7"/><circle cx="360.2" cy="539.3" r="1.7"/><circle cx="360.4" cy="524.0" r="1.7"/><circle cx="328.1" cy="454.3" r="1.7"/><circle cx="380.7" cy="541.7" r="1.7"/><circle cx="362.3" cy="504.9" r="1.7"/><circle cx="391.2" cy="517.9" r="1.7"/><circle cx="356.9" cy="543.9" r="1.7"/><circle cx="368.8" cy="504.0" r="1.7"/><circle cx="295.5" cy="535.5" r="1.7"/><circle cx="361.7" cy="514.4" r="1.7"/><circle cx="360.8" cy="544.7" r="1.7"/><circle cx="367.1" cy="512.6" r="1.7"/><circle cx="362.1" cy="541.4" r="1.7"/><circle cx="284.7" cy="525.0" r="1.7"/><circle cx="296.4" cy="514.4" r="1.7"/><circle cx="370.6" cy="503.5" r="1.7"/><circle cx="374.3" cy="539.8" r="1.7"/><circle cx="374.4" cy="456.6" r="1.7"/><circle cx="286.2" cy="521.8" r="1.7"/><circle cx="378.1" cy="497.2" r="1.7"/><circle cx="401.7" cy="509.3" r="1.7"/><circle cx="375.7" cy="540.8" r="1.7"/><circle cx="278.2" cy="541.7" r="1.7"/><circle cx="335.1" cy="452.3" r="1.7"/><circle cx="288.0" cy="546.5" r="1.7"/><circle cx="401.2" cy="545.7" r="1.7"/><circle cx="288.0" cy="473.3" r="1.7"/><circle cx="295.9" cy="522.6" r="1.7"/><circle cx="368.8" cy="523.8" r="1.7"/><circle cx="393.8" cy="524.2" r="1.7"/><circle cx="275.1" cy="534.1" r="1.7"/><circle cx="283.3" cy="475.7" r="1.7"/><circle cx="290.6" cy="536.6" r="1.7"/><circle cx="374.2" cy="480.8" r="1.7"/><circle cx="375.8" cy="525.9" r="1.7"/><circle cx="274.9" cy="529.6" r="1.7"/><circle cx="389.7" cy="527.4" r="1.7"/><circle cx="298.1" cy="541.7" r="1.7"/><circle cx="296.1" cy="522.0" r="1.7"/><circle cx="289.6" cy="541.9" r="1.7"/><circle cx="295.7" cy="534.2" r="1.7"/><circle cx="260.5" cy="524.2" r="1.7"/><circle cx="295.6" cy="543.9" r="1.7"/><circle cx="290.1" cy="497.6" r="1.7"/><circle cx="292.9" cy="527.3" r="1.7"/><circle cx="362.1" cy="505.6" r="1.7"/><circle cx="278.6" cy="539.8" r="1.7"/><circle cx="337.3" cy="436.5" r="1.7"/><circle cx="374.0" cy="498.7" r="1.7"/><circle cx="360.1" cy="513.7" r="1.7"/><circle cx="288.4" cy="490.0" r="1.7"/><circle cx="324.3" cy="435.2" r="1.7"/><circle cx="297.1" cy="525.2" r="1.7"/><circle cx="360.8" cy="523.1" r="1.7"/><circle cx="289.2" cy="522.4" r="1.7"/><circle cx="389.4" cy="520.5" r="1.7"/><circle cx="276.3" cy="520.8" r="1.7"/><circle cx="362.3" cy="541.8" r="1.7"/><circle cx="298.3" cy="542.0" r="1.7"/><circle cx="358.4" cy="542.5" r="1.7"/><circle cx="380.9" cy="545.6" r="1.7"/><circle cx="298.0" cy="547.1" r="1.7"/><circle cx="289.5" cy="467.9" r="1.7"/><circle cx="358.2" cy="531.9" r="1.7"/><circle cx="287.7" cy="488.5" r="1.7"/><circle cx="287.4" cy="522.5" r="1.7"/><circle cx="294.9" cy="533.4" r="1.7"/><circle cx="290.3" cy="525.4" r="1.7"/><circle cx="359.1" cy="529.7" r="1.7"/><circle cx="362.7" cy="499.2" r="1.7"/><circle cx="371.1" cy="541.9" r="1.7"/><circle cx="283.8" cy="523.2" r="1.7"/><circle cx="295.9" cy="516.3" r="1.7"/><circle cx="276.6" cy="510.8" r="1.7"/><circle cx="294.9" cy="530.7" r="1.7"/><circle cx="381.8" cy="496.7" r="1.7"/><circle cx="278.7" cy="507.9" r="1.7"/><circle cx="365.8" cy="537.8" r="1.7"/><circle cx="286.2" cy="545.7" r="1.7"/><circle cx="372.8" cy="545.8" r="1.7"/><circle cx="359.9" cy="541.0" r="1.7"/><circle cx="380.6" cy="541.6" r="1.7"/><circle cx="280.7" cy="521.2" r="1.7"/><circle cx="284.4" cy="498.2" r="1.7"/><circle cx="376.9" cy="511.1" r="1.7"/><circle cx="370.0" cy="540.5" r="1.7"/><circle cx="295.4" cy="543.3" r="1.7"/><circle cx="361.8" cy="536.3" r="1.7"/><circle cx="338.0" cy="435.7" r="1.7"/><circle cx="283.2" cy="539.7" r="1.7"/><circle cx="356.9" cy="544.8" r="1.7"/><circle cx="294.6" cy="545.0" r="1.7"/><circle cx="291.0" cy="528.8" r="1.7"/><circle cx="289.0" cy="521.3" r="1.7"/><circle cx="359.5" cy="541.0" r="1.7"/><circle cx="365.6" cy="520.3" r="1.7"/><circle cx="276.7" cy="490.5" r="1.7"/><circle cx="276.9" cy="536.7" r="1.7"/><circle cx="358.8" cy="539.5" r="1.7"/><circle cx="289.0" cy="486.8" r="1.7"/><circle cx="360.6" cy="543.6" r="1.7"/><circle cx="357.5" cy="530.0" r="1.7"/><circle cx="383.3" cy="546.6" r="1.7"/><circle cx="261.6" cy="535.3" r="1.7"/><circle cx="361.5" cy="516.1" r="1.7"/><circle cx="387.6" cy="542.7" r="1.7"/><circle cx="295.9" cy="515.9" r="1.7"/><circle cx="358.8" cy="526.4" r="1.7"/><circle cx="366.1" cy="515.5" r="1.7"/><circle cx="372.0" cy="545.7" r="1.7"/><circle cx="280.0" cy="484.1" r="1.7"/><circle cx="283.5" cy="531.3" r="1.7"/><circle cx="359.7" cy="525.1" r="1.7"/><circle cx="366.0" cy="497.5" r="1.7"/><circle cx="281.0" cy="524.0" r="1.7"/><circle cx="292.5" cy="543.5" r="1.7"/><circle cx="290.3" cy="541.4" r="1.7"/><circle cx="359.5" cy="528.8" r="1.7"/><circle cx="370.7" cy="544.5" r="1.7"/><circle cx="296.5" cy="537.0" r="1.7"/><circle cx="363.5" cy="533.1" r="1.7"/><circle cx="359.5" cy="541.5" r="1.7"/><circle cx="370.4" cy="545.5" r="1.7"/><circle cx="400.0" cy="537.4" r="1.7"/><circle cx="334.2" cy="443.7" r="1.7"/><circle cx="362.2" cy="506.2" r="1.7"/><circle cx="359.6" cy="533.1" r="1.7"/><circle cx="291.4" cy="530.2" r="1.7"/><circle cx="297.1" cy="531.4" r="1.7"/><circle cx="286.7" cy="525.9" r="1.7"/><circle cx="283.9" cy="529.5" r="1.7"/><circle cx="365.7" cy="543.1" r="1.7"/><circle cx="331.6" cy="449.0" r="1.7"/><circle cx="288.0" cy="511.5" r="1.7"/><circle cx="334.4" cy="452.8" r="1.7"/><circle cx="288.1" cy="473.2" r="1.7"/><circle cx="293.7" cy="508.0" r="1.7"/><circle cx="360.1" cy="519.7" r="1.7"/><circle cx="366.3" cy="493.0" r="1.7"/><circle cx="357.0" cy="539.9" r="1.7"/><circle cx="289.4" cy="532.6" r="1.7"/><circle cx="361.5" cy="523.8" r="1.7"/><circle cx="365.3" cy="528.1" r="1.7"/><circle cx="362.8" cy="511.7" r="1.7"/><circle cx="373.4" cy="519.2" r="1.7"/><circle cx="294.0" cy="514.6" r="1.7"/><circle cx="360.1" cy="545.4" r="1.7"/><circle cx="279.1" cy="540.6" r="1.7"/><circle cx="289.7" cy="502.5" r="1.7"/><circle cx="270.3" cy="531.5" r="1.7"/><circle cx="272.6" cy="498.7" r="1.7"/><circle cx="410.2" cy="520.7" r="1.7"/><circle cx="374.7" cy="536.3" r="1.7"/><circle cx="330.3" cy="449.5" r="1.7"/><circle cx="383.8" cy="499.0" r="1.7"/><circle cx="296.4" cy="534.1" r="1.7"/><circle cx="287.7" cy="544.1" r="1.7"/><circle cx="359.0" cy="542.6" r="1.7"/><circle cx="292.1" cy="534.9" r="1.7"/><circle cx="294.9" cy="544.1" r="1.7"/><circle cx="296.4" cy="532.2" r="1.7"/><circle cx="358.9" cy="521.5" r="1.7"/><circle cx="384.6" cy="526.5" r="1.7"/><circle cx="365.7" cy="526.4" r="1.7"/><circle cx="368.1" cy="499.2" r="1.7"/><circle cx="372.6" cy="540.8" r="1.7"/><circle cx="358.2" cy="545.4" r="1.7"/><circle cx="368.8" cy="532.2" r="1.7"/><circle cx="367.4" cy="499.2" r="1.7"/><circle cx="297.1" cy="538.1" r="1.7"/><circle cx="374.4" cy="524.2" r="1.7"/><circle cx="296.2" cy="543.7" r="1.7"/><circle cx="295.4" cy="533.6" r="1.7"/><circle cx="336.7" cy="445.2" r="1.7"/><circle cx="334.4" cy="457.2" r="1.7"/><circle cx="325.7" cy="444.8" r="1.7"/><circle cx="328.9" cy="459.8" r="1.7"/><circle cx="333.3" cy="442.8" r="1.7"/><circle cx="333.1" cy="456.1" r="1.7"/><circle cx="332.4" cy="433.9" r="1.7"/><circle cx="330.4" cy="453.5" r="1.7"/><circle cx="337.3" cy="437.7" r="1.7"/><circle cx="328.4" cy="454.7" r="1.7"/><circle cx="334.0" cy="430.4" r="1.7"/><circle cx="332.2" cy="454.7" r="1.7"/><circle cx="329.0" cy="443.4" r="1.7"/><circle cx="328.9" cy="461.1" r="1.7"/><circle cx="329.3" cy="453.9" r="1.7"/><circle cx="335.7" cy="437.6" r="1.7"/><circle cx="334.9" cy="455.5" r="1.7"/><circle cx="333.9" cy="443.5" r="1.7"/><circle cx="336.1" cy="437.4" r="1.7"/><circle cx="330.3" cy="453.5" r="1.7"/><circle cx="327.8" cy="456.0" r="1.7"/><circle cx="336.9" cy="446.7" r="1.7"/><circle cx="332.9" cy="445.8" r="1.7"/><circle cx="331.7" cy="453.7" r="1.7"/><circle cx="329.8" cy="447.4" r="1.7"/><circle cx="328.0" cy="458.4" r="1.7"/><circle cx="331.4" cy="463.4" r="1.7"/><circle cx="328.0" cy="448.6" r="1.7"/></g>
<line x1="331.20" y1="218.50" x2="331.20" y2="547.00" stroke="#c6c7c9" stroke-width="1.6"/>
<g fill="#e66e6e"><circle cx="306.0" cy="320.0" r="1.8"/><circle cx="294.8" cy="429.8" r="1.8"/><circle cx="281.2" cy="453.4" r="1.8"/><circle cx="289.6" cy="423.3" r="1.8"/><circle cx="303.9" cy="372.2" r="1.8"/><circle cx="275.4" cy="446.2" r="1.8"/><circle cx="257.7" cy="271.5" r="1.8"/><circle cx="272.4" cy="336.8" r="1.8"/><circle cx="290.3" cy="238.3" r="1.8"/><circle cx="287.1" cy="452.8" r="1.8"/><circle cx="294.1" cy="257.3" r="1.8"/><circle cx="309.2" cy="335.7" r="1.8"/><circle cx="256.4" cy="399.2" r="1.8"/><circle cx="256.8" cy="368.9" r="1.8"/><circle cx="282.6" cy="377.8" r="1.8"/><circle cx="286.5" cy="390.7" r="1.8"/><circle cx="305.6" cy="316.2" r="1.8"/><circle cx="257.9" cy="226.0" r="1.8"/><circle cx="280.9" cy="408.1" r="1.8"/><circle cx="294.4" cy="286.4" r="1.8"/><circle cx="292.2" cy="269.0" r="1.8"/><circle cx="284.3" cy="375.9" r="1.8"/><circle cx="279.3" cy="345.5" r="1.8"/><circle cx="306.8" cy="298.0" r="1.8"/><circle cx="281.6" cy="319.7" r="1.8"/><circle cx="188.7" cy="227.6" r="1.8"/><circle cx="273.7" cy="372.6" r="1.8"/><circle cx="307.6" cy="328.6" r="1.8"/><circle cx="209.5" cy="224.7" r="1.8"/><circle cx="295.8" cy="411.8" r="1.8"/><circle cx="297.9" cy="382.0" r="1.8"/><circle cx="257.0" cy="233.3" r="1.8"/><circle cx="287.0" cy="386.4" r="1.8"/><circle cx="281.3" cy="440.9" r="1.8"/><circle cx="231.5" cy="254.6" r="1.8"/><circle cx="280.1" cy="374.6" r="1.8"/><circle cx="299.8" cy="341.3" r="1.8"/><circle cx="260.2" cy="365.6" r="1.8"/><circle cx="271.9" cy="407.5" r="1.8"/><circle cx="304.4" cy="281.6" r="1.8"/><circle cx="295.1" cy="247.9" r="1.8"/><circle cx="291.5" cy="324.8" r="1.8"/><circle cx="285.3" cy="350.3" r="1.8"/><circle cx="269.9" cy="339.9" r="1.8"/><circle cx="280.6" cy="431.9" r="1.8"/><circle cx="217.8" cy="419.1" r="1.8"/><circle cx="295.3" cy="306.1" r="1.8"/><circle cx="287.6" cy="234.3" r="1.8"/><circle cx="295.7" cy="281.4" r="1.8"/><circle cx="301.9" cy="317.2" r="1.8"/><circle cx="303.4" cy="293.4" r="1.8"/><circle cx="270.8" cy="465.9" r="1.8"/><circle cx="279.4" cy="330.6" r="1.8"/><circle cx="269.9" cy="482.8" r="1.8"/><circle cx="252.2" cy="475.5" r="1.8"/><circle cx="305.1" cy="286.0" r="1.8"/><circle cx="242.3" cy="453.4" r="1.8"/><circle cx="274.7" cy="236.9" r="1.8"/><circle cx="295.0" cy="329.0" r="1.8"/><circle cx="307.5" cy="322.3" r="1.8"/><circle cx="296.2" cy="411.5" r="1.8"/><circle cx="293.6" cy="343.0" r="1.8"/><circle cx="272.4" cy="405.7" r="1.8"/><circle cx="299.7" cy="273.0" r="1.8"/><circle cx="267.6" cy="329.8" r="1.8"/><circle cx="275.7" cy="474.5" r="1.8"/><circle cx="297.7" cy="308.6" r="1.8"/><circle cx="258.9" cy="348.7" r="1.8"/><circle cx="300.3" cy="300.5" r="1.8"/><circle cx="231.4" cy="335.7" r="1.8"/><circle cx="268.3" cy="270.0" r="1.8"/><circle cx="298.8" cy="264.8" r="1.8"/><circle cx="283.5" cy="375.0" r="1.8"/><circle cx="271.5" cy="278.7" r="1.8"/><circle cx="284.5" cy="268.6" r="1.8"/><circle cx="308.2" cy="337.3" r="1.8"/><circle cx="261.4" cy="317.1" r="1.8"/><circle cx="268.3" cy="256.4" r="1.8"/><circle cx="293.1" cy="248.4" r="1.8"/><circle cx="295.6" cy="266.1" r="1.8"/><circle cx="286.7" cy="415.7" r="1.8"/><circle cx="291.2" cy="333.2" r="1.8"/><circle cx="278.8" cy="235.2" r="1.8"/><circle cx="300.2" cy="295.8" r="1.8"/><circle cx="272.3" cy="416.6" r="1.8"/><circle cx="298.4" cy="302.5" r="1.8"/><circle cx="273.9" cy="413.3" r="1.8"/><circle cx="272.9" cy="263.9" r="1.8"/><circle cx="255.6" cy="419.9" r="1.8"/><circle cx="255.6" cy="230.5" r="1.8"/><circle cx="263.7" cy="292.7" r="1.8"/><circle cx="283.7" cy="459.6" r="1.8"/><circle cx="272.3" cy="316.1" r="1.8"/><circle cx="281.7" cy="422.3" r="1.8"/><circle cx="283.1" cy="329.5" r="1.8"/><circle cx="298.9" cy="247.4" r="1.8"/><circle cx="284.6" cy="229.6" r="1.8"/><circle cx="263.2" cy="438.0" r="1.8"/><circle cx="275.1" cy="329.1" r="1.8"/><circle cx="258.4" cy="362.4" r="1.8"/><circle cx="285.0" cy="285.9" r="1.8"/><circle cx="275.8" cy="353.7" r="1.8"/><circle cx="292.4" cy="372.0" r="1.8"/><circle cx="256.3" cy="336.6" r="1.8"/><circle cx="253.4" cy="314.7" r="1.8"/><circle cx="272.4" cy="280.4" r="1.8"/><circle cx="286.3" cy="449.5" r="1.8"/><circle cx="297.0" cy="280.8" r="1.8"/><circle cx="277.3" cy="405.8" r="1.8"/><circle cx="290.6" cy="230.0" r="1.8"/><circle cx="280.3" cy="382.1" r="1.8"/><circle cx="275.1" cy="419.3" r="1.8"/><circle cx="243.1" cy="358.4" r="1.8"/><circle cx="292.6" cy="272.3" r="1.8"/><circle cx="263.9" cy="481.1" r="1.8"/><circle cx="294.1" cy="234.6" r="1.8"/><circle cx="275.0" cy="370.6" r="1.8"/><circle cx="260.4" cy="305.5" r="1.8"/><circle cx="285.9" cy="349.2" r="1.8"/><circle cx="294.7" cy="300.9" r="1.8"/><circle cx="271.2" cy="340.2" r="1.8"/><circle cx="295.8" cy="239.5" r="1.8"/><circle cx="263.3" cy="410.4" r="1.8"/><circle cx="285.6" cy="453.1" r="1.8"/><circle cx="294.2" cy="233.8" r="1.8"/><circle cx="294.1" cy="409.6" r="1.8"/><circle cx="275.2" cy="280.4" r="1.8"/><circle cx="258.5" cy="309.3" r="1.8"/><circle cx="291.7" cy="404.0" r="1.8"/><circle cx="307.9" cy="360.0" r="1.8"/><circle cx="291.3" cy="233.0" r="1.8"/><circle cx="263.5" cy="255.9" r="1.8"/><circle cx="269.2" cy="458.0" r="1.8"/><circle cx="307.1" cy="306.6" r="1.8"/><circle cx="291.5" cy="296.5" r="1.8"/><circle cx="274.8" cy="336.2" r="1.8"/><circle cx="255.6" cy="224.6" r="1.8"/><circle cx="291.5" cy="305.2" r="1.8"/><circle cx="276.3" cy="436.3" r="1.8"/><circle cx="282.2" cy="423.6" r="1.8"/><circle cx="296.6" cy="249.5" r="1.8"/><circle cx="242.8" cy="228.9" r="1.8"/><circle cx="292.1" cy="407.3" r="1.8"/><circle cx="281.6" cy="430.9" r="1.8"/><circle cx="265.7" cy="367.0" r="1.8"/><circle cx="302.8" cy="360.3" r="1.8"/><circle cx="281.1" cy="376.2" r="1.8"/><circle cx="296.7" cy="355.3" r="1.8"/><circle cx="255.0" cy="448.1" r="1.8"/><circle cx="256.5" cy="319.7" r="1.8"/><circle cx="300.2" cy="366.4" r="1.8"/><circle cx="264.0" cy="235.5" r="1.8"/><circle cx="298.4" cy="391.6" r="1.8"/><circle cx="243.3" cy="435.7" r="1.8"/><circle cx="269.7" cy="282.6" r="1.8"/><circle cx="275.2" cy="236.9" r="1.8"/><circle cx="291.6" cy="265.1" r="1.8"/><circle cx="281.0" cy="313.1" r="1.8"/><circle cx="286.5" cy="271.2" r="1.8"/><circle cx="218.6" cy="430.8" r="1.8"/><circle cx="278.6" cy="333.0" r="1.8"/><circle cx="308.0" cy="356.6" r="1.8"/><circle cx="234.0" cy="479.5" r="1.8"/><circle cx="293.3" cy="376.1" r="1.8"/><circle cx="296.8" cy="389.2" r="1.8"/><circle cx="264.9" cy="475.8" r="1.8"/><circle cx="290.5" cy="401.9" r="1.8"/><circle cx="304.5" cy="364.0" r="1.8"/><circle cx="289.8" cy="449.6" r="1.8"/><circle cx="285.3" cy="452.4" r="1.8"/><circle cx="290.0" cy="364.2" r="1.8"/><circle cx="307.3" cy="382.1" r="1.8"/><circle cx="265.2" cy="232.1" r="1.8"/><circle cx="278.2" cy="287.6" r="1.8"/><circle cx="272.2" cy="434.1" r="1.8"/><circle cx="293.9" cy="424.9" r="1.8"/><circle cx="259.6" cy="441.3" r="1.8"/><circle cx="270.9" cy="328.7" r="1.8"/><circle cx="279.6" cy="400.9" r="1.8"/><circle cx="291.5" cy="382.3" r="1.8"/><circle cx="292.4" cy="367.5" r="1.8"/><circle cx="275.9" cy="316.2" r="1.8"/><circle cx="286.7" cy="456.3" r="1.8"/><circle cx="255.3" cy="309.2" r="1.8"/><circle cx="278.6" cy="380.9" r="1.8"/><circle cx="295.3" cy="427.1" r="1.8"/><circle cx="294.2" cy="431.6" r="1.8"/><circle cx="303.3" cy="344.0" r="1.8"/><circle cx="280.0" cy="271.0" r="1.8"/><circle cx="273.8" cy="252.2" r="1.8"/><circle cx="292.4" cy="445.6" r="1.8"/><circle cx="301.4" cy="325.0" r="1.8"/><circle cx="285.1" cy="427.6" r="1.8"/><circle cx="291.0" cy="299.9" r="1.8"/><circle cx="303.5" cy="398.9" r="1.8"/><circle cx="295.8" cy="430.0" r="1.8"/><circle cx="297.8" cy="324.3" r="1.8"/><circle cx="283.2" cy="461.4" r="1.8"/><circle cx="307.6" cy="368.3" r="1.8"/><circle cx="286.5" cy="298.1" r="1.8"/><circle cx="297.5" cy="391.3" r="1.8"/><circle cx="304.0" cy="297.8" r="1.8"/><circle cx="260.7" cy="325.8" r="1.8"/><circle cx="301.6" cy="366.4" r="1.8"/><circle cx="280.5" cy="364.6" r="1.8"/><circle cx="288.3" cy="448.7" r="1.8"/><circle cx="268.1" cy="302.6" r="1.8"/><circle cx="269.6" cy="385.2" r="1.8"/><circle cx="258.6" cy="383.0" r="1.8"/><circle cx="282.2" cy="248.4" r="1.8"/><circle cx="270.1" cy="320.9" r="1.8"/><circle cx="293.0" cy="422.2" r="1.8"/><circle cx="247.1" cy="354.8" r="1.8"/><circle cx="243.7" cy="320.2" r="1.8"/><circle cx="294.7" cy="247.1" r="1.8"/><circle cx="294.5" cy="314.9" r="1.8"/><circle cx="296.1" cy="299.8" r="1.8"/><circle cx="285.3" cy="256.7" r="1.8"/><circle cx="277.0" cy="417.0" r="1.8"/><circle cx="294.9" cy="406.6" r="1.8"/><circle cx="289.5" cy="418.4" r="1.8"/><circle cx="309.0" cy="329.6" r="1.8"/><circle cx="292.7" cy="377.7" r="1.8"/><circle cx="308.2" cy="326.9" r="1.8"/><circle cx="268.5" cy="371.3" r="1.8"/><circle cx="287.3" cy="283.5" r="1.8"/><circle cx="242.8" cy="222.4" r="1.8"/><circle cx="305.9" cy="269.9" r="1.8"/><circle cx="267.0" cy="372.8" r="1.8"/><circle cx="251.1" cy="364.2" r="1.8"/><circle cx="267.6" cy="274.3" r="1.8"/><circle cx="269.5" cy="445.5" r="1.8"/><circle cx="290.2" cy="368.0" r="1.8"/><circle cx="252.7" cy="303.4" r="1.8"/><circle cx="245.0" cy="254.3" r="1.8"/><circle cx="303.6" cy="281.3" r="1.8"/><circle cx="285.0" cy="297.7" r="1.8"/><circle cx="286.7" cy="376.5" r="1.8"/><circle cx="231.9" cy="235.5" r="1.8"/><circle cx="284.2" cy="247.3" r="1.8"/><circle cx="272.4" cy="396.5" r="1.8"/><circle cx="269.4" cy="325.1" r="1.8"/><circle cx="275.9" cy="416.7" r="1.8"/><circle cx="258.7" cy="258.9" r="1.8"/><circle cx="281.2" cy="430.0" r="1.8"/><circle cx="286.2" cy="291.7" r="1.8"/><circle cx="294.9" cy="383.3" r="1.8"/><circle cx="252.8" cy="350.1" r="1.8"/><circle cx="277.5" cy="314.9" r="1.8"/><circle cx="280.5" cy="283.6" r="1.8"/><circle cx="290.5" cy="260.3" r="1.8"/><circle cx="273.5" cy="328.4" r="1.8"/><circle cx="282.5" cy="428.2" r="1.8"/><circle cx="301.3" cy="373.8" r="1.8"/><circle cx="284.5" cy="258.3" r="1.8"/><circle cx="273.7" cy="327.9" r="1.8"/><circle cx="296.3" cy="252.1" r="1.8"/><circle cx="244.9" cy="222.4" r="1.8"/><circle cx="265.3" cy="361.1" r="1.8"/><circle cx="242.0" cy="471.8" r="1.8"/><circle cx="288.1" cy="333.9" r="1.8"/><circle cx="270.4" cy="467.6" r="1.8"/><circle cx="285.8" cy="395.3" r="1.8"/><circle cx="283.5" cy="271.8" r="1.8"/><circle cx="276.3" cy="308.6" r="1.8"/><circle cx="257.5" cy="285.8" r="1.8"/><circle cx="241.8" cy="281.5" r="1.8"/><circle cx="303.1" cy="331.8" r="1.8"/><circle cx="234.5" cy="271.5" r="1.8"/><circle cx="275.3" cy="300.7" r="1.8"/><circle cx="288.3" cy="424.1" r="1.8"/><circle cx="248.6" cy="467.0" r="1.8"/><circle cx="304.7" cy="288.3" r="1.8"/><circle cx="293.0" cy="258.9" r="1.8"/><circle cx="260.4" cy="241.3" r="1.8"/><circle cx="240.9" cy="272.0" r="1.8"/><circle cx="295.6" cy="307.0" r="1.8"/><circle cx="300.3" cy="371.1" r="1.8"/><circle cx="299.6" cy="251.0" r="1.8"/><circle cx="284.7" cy="291.6" r="1.8"/><circle cx="275.2" cy="229.1" r="1.8"/><circle cx="281.7" cy="404.6" r="1.8"/><circle cx="286.5" cy="364.6" r="1.8"/><circle cx="258.9" cy="363.7" r="1.8"/><circle cx="294.0" cy="339.9" r="1.8"/><circle cx="287.0" cy="323.0" r="1.8"/><circle cx="295.7" cy="408.6" r="1.8"/><circle cx="260.9" cy="451.8" r="1.8"/><circle cx="303.1" cy="324.4" r="1.8"/><circle cx="236.0" cy="396.9" r="1.8"/><circle cx="306.2" cy="270.9" r="1.8"/><circle cx="290.9" cy="241.7" r="1.8"/><circle cx="276.7" cy="332.1" r="1.8"/><circle cx="293.6" cy="330.9" r="1.8"/><circle cx="285.3" cy="450.0" r="1.8"/><circle cx="230.8" cy="287.3" r="1.8"/><circle cx="296.5" cy="242.3" r="1.8"/><circle cx="271.4" cy="417.0" r="1.8"/><circle cx="253.6" cy="450.2" r="1.8"/><circle cx="277.5" cy="348.6" r="1.8"/><circle cx="282.6" cy="230.3" r="1.8"/><circle cx="275.4" cy="385.0" r="1.8"/><circle cx="306.2" cy="352.4" r="1.8"/><circle cx="239.1" cy="357.1" r="1.8"/><circle cx="198.4" cy="424.2" r="1.8"/><circle cx="309.3" cy="331.8" r="1.8"/><circle cx="282.8" cy="451.2" r="1.8"/><circle cx="263.0" cy="234.3" r="1.8"/><circle cx="306.7" cy="294.2" r="1.8"/><circle cx="291.7" cy="446.0" r="1.8"/><circle cx="239.3" cy="256.5" r="1.8"/><circle cx="259.6" cy="268.6" r="1.8"/><circle cx="266.9" cy="245.9" r="1.8"/><circle cx="271.8" cy="232.0" r="1.8"/><circle cx="277.4" cy="320.7" r="1.8"/><circle cx="284.4" cy="390.8" r="1.8"/><circle cx="288.6" cy="253.5" r="1.8"/><circle cx="306.2" cy="337.3" r="1.8"/><circle cx="270.0" cy="481.0" r="1.8"/><circle cx="120.7" cy="370.5" r="1.8"/><circle cx="261.6" cy="365.9" r="1.8"/><circle cx="284.2" cy="310.3" r="1.8"/><circle cx="260.7" cy="284.8" r="1.8"/><circle cx="252.9" cy="369.5" r="1.8"/><circle cx="281.6" cy="288.3" r="1.8"/><circle cx="292.3" cy="229.8" r="1.8"/><circle cx="259.0" cy="348.3" r="1.8"/><circle cx="289.0" cy="290.0" r="1.8"/><circle cx="217.6" cy="384.1" r="1.8"/><circle cx="276.1" cy="345.1" r="1.8"/><circle cx="283.6" cy="230.7" r="1.8"/><circle cx="293.9" cy="433.0" r="1.8"/><circle cx="269.5" cy="241.5" r="1.8"/><circle cx="309.4" cy="320.6" r="1.8"/><circle cx="253.7" cy="453.5" r="1.8"/><circle cx="253.2" cy="324.4" r="1.8"/><circle cx="279.2" cy="433.9" r="1.8"/><circle cx="292.5" cy="275.4" r="1.8"/><circle cx="284.0" cy="358.8" r="1.8"/><circle cx="280.5" cy="230.7" r="1.8"/><circle cx="205.4" cy="238.6" r="1.8"/><circle cx="282.4" cy="338.6" r="1.8"/><circle cx="299.6" cy="309.6" r="1.8"/><circle cx="299.3" cy="376.3" r="1.8"/><circle cx="295.1" cy="412.6" r="1.8"/><circle cx="302.7" cy="259.4" r="1.8"/><circle cx="296.4" cy="240.8" r="1.8"/><circle cx="275.5" cy="288.4" r="1.8"/><circle cx="269.3" cy="329.4" r="1.8"/><circle cx="309.4" cy="352.5" r="1.8"/><circle cx="236.5" cy="278.7" r="1.8"/><circle cx="296.9" cy="349.7" r="1.8"/><circle cx="305.0" cy="317.7" r="1.8"/><circle cx="298.4" cy="291.7" r="1.8"/><circle cx="289.3" cy="383.6" r="1.8"/><circle cx="268.2" cy="327.1" r="1.8"/><circle cx="288.2" cy="359.3" r="1.8"/><circle cx="294.6" cy="388.7" r="1.8"/><circle cx="243.4" cy="230.3" r="1.8"/><circle cx="303.5" cy="343.6" r="1.8"/><circle cx="288.5" cy="421.7" r="1.8"/><circle cx="256.3" cy="270.5" r="1.8"/><circle cx="282.6" cy="361.0" r="1.8"/><circle cx="268.5" cy="454.9" r="1.8"/><circle cx="298.8" cy="391.3" r="1.8"/><circle cx="309.4" cy="344.2" r="1.8"/><circle cx="303.9" cy="321.5" r="1.8"/><circle cx="296.8" cy="255.9" r="1.8"/><circle cx="306.6" cy="331.5" r="1.8"/><circle cx="274.1" cy="253.5" r="1.8"/><circle cx="234.0" cy="391.0" r="1.8"/><circle cx="280.2" cy="395.8" r="1.8"/><circle cx="288.4" cy="325.3" r="1.8"/><circle cx="297.9" cy="365.2" r="1.8"/><circle cx="285.1" cy="396.3" r="1.8"/><circle cx="274.0" cy="371.0" r="1.8"/><circle cx="306.5" cy="305.0" r="1.8"/><circle cx="288.5" cy="441.3" r="1.8"/><circle cx="274.9" cy="316.5" r="1.8"/><circle cx="291.4" cy="238.4" r="1.8"/><circle cx="291.5" cy="353.3" r="1.8"/><circle cx="266.2" cy="271.4" r="1.8"/><circle cx="304.0" cy="260.1" r="1.8"/><circle cx="282.3" cy="388.0" r="1.8"/><circle cx="258.7" cy="383.4" r="1.8"/><circle cx="299.0" cy="274.5" r="1.8"/><circle cx="273.6" cy="239.1" r="1.8"/><circle cx="286.7" cy="344.3" r="1.8"/><circle cx="277.8" cy="429.5" r="1.8"/><circle cx="296.3" cy="332.9" r="1.8"/><circle cx="289.3" cy="272.7" r="1.8"/><circle cx="271.3" cy="396.8" r="1.8"/><circle cx="275.2" cy="460.1" r="1.8"/><circle cx="265.0" cy="370.6" r="1.8"/><circle cx="281.6" cy="367.6" r="1.8"/><circle cx="277.9" cy="398.4" r="1.8"/><circle cx="249.5" cy="452.3" r="1.8"/><circle cx="301.2" cy="364.5" r="1.8"/><circle cx="272.5" cy="460.8" r="1.8"/><circle cx="264.6" cy="228.3" r="1.8"/><circle cx="263.5" cy="253.3" r="1.8"/><circle cx="269.1" cy="267.4" r="1.8"/><circle cx="289.9" cy="250.3" r="1.8"/><circle cx="277.1" cy="231.6" r="1.8"/><circle cx="273.4" cy="388.5" r="1.8"/><circle cx="293.9" cy="234.2" r="1.8"/><circle cx="310.7" cy="328.8" r="1.8"/><circle cx="289.9" cy="282.0" r="1.8"/><circle cx="310.1" cy="341.3" r="1.8"/><circle cx="158.5" cy="263.9" r="1.8"/><circle cx="245.8" cy="229.6" r="1.8"/><circle cx="279.0" cy="415.1" r="1.8"/><circle cx="294.2" cy="250.9" r="1.8"/><circle cx="294.4" cy="420.5" r="1.8"/><circle cx="279.1" cy="445.7" r="1.8"/><circle cx="292.8" cy="424.9" r="1.8"/><circle cx="301.2" cy="269.1" r="1.8"/><circle cx="277.8" cy="311.3" r="1.8"/><circle cx="289.6" cy="440.1" r="1.8"/><circle cx="252.1" cy="415.6" r="1.8"/><circle cx="272.1" cy="477.8" r="1.8"/><circle cx="294.8" cy="294.3" r="1.8"/><circle cx="250.7" cy="396.9" r="1.8"/><circle cx="301.7" cy="365.5" r="1.8"/><circle cx="298.5" cy="257.6" r="1.8"/><circle cx="287.3" cy="420.7" r="1.8"/><circle cx="277.8" cy="392.4" r="1.8"/><circle cx="279.4" cy="251.2" r="1.8"/><circle cx="298.5" cy="264.2" r="1.8"/><circle cx="283.0" cy="275.0" r="1.8"/><circle cx="280.3" cy="360.0" r="1.8"/><circle cx="262.7" cy="442.0" r="1.8"/><circle cx="259.1" cy="444.8" r="1.8"/><circle cx="292.6" cy="240.2" r="1.8"/><circle cx="305.6" cy="325.9" r="1.8"/><circle cx="291.2" cy="308.1" r="1.8"/><circle cx="281.6" cy="369.8" r="1.8"/><circle cx="297.2" cy="403.6" r="1.8"/><circle cx="279.4" cy="367.9" r="1.8"/><circle cx="222.5" cy="303.2" r="1.8"/><circle cx="293.4" cy="233.4" r="1.8"/><circle cx="285.2" cy="435.0" r="1.8"/><circle cx="275.7" cy="388.4" r="1.8"/><circle cx="246.3" cy="319.1" r="1.8"/><circle cx="305.5" cy="367.5" r="1.8"/><circle cx="301.3" cy="349.1" r="1.8"/><circle cx="282.6" cy="229.8" r="1.8"/><circle cx="296.6" cy="312.9" r="1.8"/><circle cx="294.4" cy="335.3" r="1.8"/><circle cx="280.8" cy="430.9" r="1.8"/><circle cx="289.9" cy="232.3" r="1.8"/><circle cx="243.2" cy="422.7" r="1.8"/><circle cx="283.3" cy="243.8" r="1.8"/><circle cx="272.2" cy="308.8" r="1.8"/><circle cx="259.8" cy="290.1" r="1.8"/><circle cx="263.8" cy="330.5" r="1.8"/><circle cx="288.0" cy="243.0" r="1.8"/><circle cx="277.1" cy="374.7" r="1.8"/><circle cx="283.9" cy="276.3" r="1.8"/><circle cx="298.1" cy="271.0" r="1.8"/><circle cx="262.3" cy="286.4" r="1.8"/><circle cx="293.5" cy="412.2" r="1.8"/><circle cx="277.3" cy="437.8" r="1.8"/><circle cx="305.9" cy="274.2" r="1.8"/><circle cx="272.0" cy="276.7" r="1.8"/><circle cx="279.2" cy="393.2" r="1.8"/><circle cx="289.7" cy="228.8" r="1.8"/><circle cx="274.0" cy="352.2" r="1.8"/><circle cx="290.6" cy="310.1" r="1.8"/><circle cx="266.7" cy="326.2" r="1.8"/><circle cx="301.0" cy="322.3" r="1.8"/><circle cx="296.6" cy="383.0" r="1.8"/><circle cx="300.0" cy="286.1" r="1.8"/><circle cx="299.2" cy="361.4" r="1.8"/><circle cx="274.2" cy="393.4" r="1.8"/><circle cx="257.5" cy="233.9" r="1.8"/><circle cx="308.9" cy="291.6" r="1.8"/><circle cx="277.1" cy="450.7" r="1.8"/><circle cx="259.9" cy="255.1" r="1.8"/><circle cx="292.8" cy="388.5" r="1.8"/><circle cx="256.1" cy="221.9" r="1.8"/><circle cx="290.0" cy="267.4" r="1.8"/><circle cx="262.3" cy="343.0" r="1.8"/><circle cx="308.0" cy="308.8" r="1.8"/><circle cx="269.2" cy="242.3" r="1.8"/><circle cx="262.7" cy="239.8" r="1.8"/><circle cx="269.5" cy="426.7" r="1.8"/><circle cx="275.6" cy="471.9" r="1.8"/><circle cx="293.7" cy="285.4" r="1.8"/><circle cx="265.7" cy="359.5" r="1.8"/><circle cx="259.3" cy="369.7" r="1.8"/><circle cx="298.6" cy="247.7" r="1.8"/><circle cx="297.9" cy="405.6" r="1.8"/><circle cx="264.1" cy="455.9" r="1.8"/><circle cx="311.4" cy="348.1" r="1.8"/><circle cx="278.3" cy="233.9" r="1.8"/><circle cx="284.2" cy="234.3" r="1.8"/><circle cx="282.5" cy="234.4" r="1.8"/><circle cx="300.2" cy="384.6" r="1.8"/><circle cx="286.1" cy="403.8" r="1.8"/><circle cx="267.2" cy="444.9" r="1.8"/><circle cx="297.2" cy="299.1" r="1.8"/><circle cx="307.6" cy="347.0" r="1.8"/><circle cx="297.1" cy="282.9" r="1.8"/><circle cx="297.3" cy="371.2" r="1.8"/><circle cx="284.8" cy="326.4" r="1.8"/><circle cx="281.8" cy="318.9" r="1.8"/><circle cx="306.9" cy="342.2" r="1.8"/><circle cx="300.9" cy="349.3" r="1.8"/><circle cx="285.5" cy="417.3" r="1.8"/><circle cx="293.4" cy="398.7" r="1.8"/><circle cx="297.4" cy="337.4" r="1.8"/><circle cx="280.0" cy="453.6" r="1.8"/><circle cx="274.2" cy="364.6" r="1.8"/><circle cx="289.7" cy="385.2" r="1.8"/><circle cx="275.9" cy="311.8" r="1.8"/><circle cx="301.5" cy="330.9" r="1.8"/><circle cx="309.7" cy="319.6" r="1.8"/><circle cx="303.6" cy="380.9" r="1.8"/><circle cx="289.7" cy="343.1" r="1.8"/><circle cx="279.8" cy="416.8" r="1.8"/><circle cx="280.8" cy="302.8" r="1.8"/><circle cx="271.7" cy="289.5" r="1.8"/><circle cx="291.7" cy="254.1" r="1.8"/><circle cx="265.7" cy="236.0" r="1.8"/><circle cx="264.1" cy="446.5" r="1.8"/><circle cx="309.8" cy="312.8" r="1.8"/><circle cx="267.3" cy="346.8" r="1.8"/><circle cx="293.2" cy="240.0" r="1.8"/><circle cx="270.3" cy="245.6" r="1.8"/><circle cx="285.0" cy="353.0" r="1.8"/><circle cx="174.6" cy="230.2" r="1.8"/><circle cx="283.4" cy="436.1" r="1.8"/><circle cx="288.6" cy="306.8" r="1.8"/><circle cx="293.9" cy="305.8" r="1.8"/><circle cx="287.6" cy="318.4" r="1.8"/><circle cx="299.0" cy="387.6" r="1.8"/><circle cx="279.9" cy="306.0" r="1.8"/><circle cx="306.3" cy="294.8" r="1.8"/><circle cx="257.5" cy="464.5" r="1.8"/><circle cx="289.9" cy="363.4" r="1.8"/><circle cx="292.9" cy="439.8" r="1.8"/><circle cx="293.0" cy="404.6" r="1.8"/><circle cx="306.5" cy="318.9" r="1.8"/><circle cx="285.6" cy="330.1" r="1.8"/><circle cx="298.9" cy="271.7" r="1.8"/><circle cx="296.4" cy="425.3" r="1.8"/><circle cx="300.4" cy="393.4" r="1.8"/><circle cx="290.1" cy="319.2" r="1.8"/><circle cx="207.9" cy="432.8" r="1.8"/><circle cx="274.5" cy="448.5" r="1.8"/><circle cx="266.8" cy="373.9" r="1.8"/><circle cx="291.0" cy="290.4" r="1.8"/><circle cx="281.8" cy="330.1" r="1.8"/><circle cx="306.3" cy="383.8" r="1.8"/><circle cx="302.9" cy="380.4" r="1.8"/><circle cx="258.1" cy="343.3" r="1.8"/><circle cx="300.5" cy="341.6" r="1.8"/><circle cx="268.7" cy="282.1" r="1.8"/><circle cx="291.3" cy="435.3" r="1.8"/><circle cx="298.8" cy="285.8" r="1.8"/><circle cx="304.5" cy="289.6" r="1.8"/><circle cx="274.2" cy="475.9" r="1.8"/><circle cx="300.2" cy="387.3" r="1.8"/><circle cx="273.1" cy="461.1" r="1.8"/><circle cx="301.6" cy="306.3" r="1.8"/><circle cx="288.7" cy="437.5" r="1.8"/><circle cx="268.7" cy="434.1" r="1.8"/><circle cx="304.7" cy="333.6" r="1.8"/><circle cx="266.3" cy="465.9" r="1.8"/><circle cx="283.2" cy="266.4" r="1.8"/><circle cx="301.4" cy="307.1" r="1.8"/><circle cx="289.3" cy="282.4" r="1.8"/><circle cx="298.5" cy="412.7" r="1.8"/><circle cx="284.9" cy="429.5" r="1.8"/><circle cx="272.9" cy="454.6" r="1.8"/><circle cx="275.2" cy="307.2" r="1.8"/><circle cx="303.0" cy="384.2" r="1.8"/><circle cx="257.2" cy="392.2" r="1.8"/><circle cx="294.6" cy="302.3" r="1.8"/><circle cx="280.0" cy="418.4" r="1.8"/><circle cx="298.3" cy="246.9" r="1.8"/><circle cx="289.1" cy="237.5" r="1.8"/><circle cx="262.1" cy="268.4" r="1.8"/><circle cx="254.5" cy="226.6" r="1.8"/><circle cx="297.9" cy="271.8" r="1.8"/><circle cx="277.6" cy="407.0" r="1.8"/><circle cx="240.1" cy="222.0" r="1.8"/><circle cx="293.6" cy="316.2" r="1.8"/><circle cx="303.4" cy="330.5" r="1.8"/><circle cx="296.7" cy="417.9" r="1.8"/><circle cx="270.0" cy="286.2" r="1.8"/><circle cx="267.5" cy="265.7" r="1.8"/><circle cx="270.0" cy="276.6" r="1.8"/><circle cx="296.6" cy="422.9" r="1.8"/><circle cx="307.2" cy="318.6" r="1.8"/><circle cx="292.4" cy="242.8" r="1.8"/><circle cx="298.4" cy="245.0" r="1.8"/><circle cx="282.4" cy="320.2" r="1.8"/><circle cx="302.4" cy="374.1" r="1.8"/><circle cx="309.6" cy="313.8" r="1.8"/><circle cx="291.1" cy="335.7" r="1.8"/><circle cx="288.7" cy="239.2" r="1.8"/><circle cx="281.8" cy="419.9" r="1.8"/><circle cx="248.5" cy="257.5" r="1.8"/><circle cx="302.0" cy="361.5" r="1.8"/><circle cx="295.5" cy="277.3" r="1.8"/><circle cx="296.6" cy="401.9" r="1.8"/><circle cx="294.4" cy="352.0" r="1.8"/><circle cx="277.0" cy="470.4" r="1.8"/><circle cx="305.5" cy="365.7" r="1.8"/><circle cx="296.6" cy="280.5" r="1.8"/><circle cx="296.0" cy="242.0" r="1.8"/><circle cx="280.6" cy="363.4" r="1.8"/><circle cx="277.1" cy="411.9" r="1.8"/><circle cx="291.6" cy="404.2" r="1.8"/><circle cx="299.6" cy="415.7" r="1.8"/><circle cx="278.4" cy="288.7" r="1.8"/><circle cx="289.4" cy="358.6" r="1.8"/><circle cx="302.4" cy="381.0" r="1.8"/><circle cx="276.1" cy="360.7" r="1.8"/><circle cx="274.2" cy="313.6" r="1.8"/><circle cx="277.8" cy="365.5" r="1.8"/><circle cx="296.0" cy="356.7" r="1.8"/><circle cx="285.7" cy="457.0" r="1.8"/><circle cx="299.3" cy="328.0" r="1.8"/><circle cx="279.9" cy="384.0" r="1.8"/><circle cx="257.5" cy="476.0" r="1.8"/><circle cx="311.9" cy="342.2" r="1.8"/><circle cx="287.9" cy="452.9" r="1.8"/><circle cx="233.2" cy="287.0" r="1.8"/><circle cx="287.5" cy="323.9" r="1.8"/><circle cx="284.2" cy="449.8" r="1.8"/><circle cx="289.3" cy="265.2" r="1.8"/><circle cx="249.3" cy="394.4" r="1.8"/><circle cx="310.5" cy="354.4" r="1.8"/><circle cx="243.3" cy="325.4" r="1.8"/><circle cx="259.9" cy="390.6" r="1.8"/><circle cx="284.0" cy="272.3" r="1.8"/><circle cx="299.3" cy="347.1" r="1.8"/><circle cx="269.6" cy="443.8" r="1.8"/><circle cx="297.1" cy="321.0" r="1.8"/><circle cx="289.5" cy="232.1" r="1.8"/><circle cx="309.0" cy="347.8" r="1.8"/><circle cx="295.3" cy="390.4" r="1.8"/><circle cx="299.7" cy="266.1" r="1.8"/><circle cx="301.6" cy="251.1" r="1.8"/><circle cx="276.1" cy="443.1" r="1.8"/><circle cx="308.2" cy="337.4" r="1.8"/><circle cx="293.2" cy="421.0" r="1.8"/><circle cx="271.4" cy="368.2" r="1.8"/><circle cx="300.8" cy="311.7" r="1.8"/><circle cx="280.6" cy="251.7" r="1.8"/><circle cx="283.3" cy="238.7" r="1.8"/><circle cx="259.8" cy="476.6" r="1.8"/><circle cx="266.4" cy="273.4" r="1.8"/><circle cx="266.6" cy="340.6" r="1.8"/><circle cx="297.5" cy="370.6" r="1.8"/><circle cx="292.1" cy="329.8" r="1.8"/><circle cx="256.0" cy="285.9" r="1.8"/><circle cx="247.1" cy="330.9" r="1.8"/><circle cx="255.1" cy="266.6" r="1.8"/><circle cx="292.7" cy="353.1" r="1.8"/><circle cx="116.9" cy="232.9" r="1.8"/><circle cx="244.9" cy="235.4" r="1.8"/><circle cx="266.6" cy="244.8" r="1.8"/><circle cx="284.7" cy="329.3" r="1.8"/><circle cx="308.3" cy="303.8" r="1.8"/><circle cx="224.7" cy="377.0" r="1.8"/><circle cx="297.4" cy="343.7" r="1.8"/><circle cx="279.3" cy="396.6" r="1.8"/><circle cx="296.1" cy="296.4" r="1.8"/><circle cx="297.1" cy="267.3" r="1.8"/><circle cx="274.1" cy="348.9" r="1.8"/><circle cx="300.8" cy="266.7" r="1.8"/><circle cx="229.1" cy="437.1" r="1.8"/><circle cx="269.2" cy="348.6" r="1.8"/><circle cx="301.0" cy="355.6" r="1.8"/><circle cx="274.9" cy="238.4" r="1.8"/><circle cx="290.2" cy="255.4" r="1.8"/><circle cx="254.7" cy="326.9" r="1.8"/><circle cx="290.3" cy="236.5" r="1.8"/><circle cx="174.7" cy="271.4" r="1.8"/><circle cx="309.2" cy="320.1" r="1.8"/><circle cx="275.4" cy="439.5" r="1.8"/><circle cx="301.7" cy="306.2" r="1.8"/><circle cx="296.8" cy="430.6" r="1.8"/><circle cx="271.1" cy="341.1" r="1.8"/><circle cx="258.8" cy="245.8" r="1.8"/><circle cx="258.1" cy="433.3" r="1.8"/><circle cx="282.4" cy="430.9" r="1.8"/><circle cx="302.6" cy="381.4" r="1.8"/><circle cx="295.1" cy="333.4" r="1.8"/><circle cx="288.9" cy="302.1" r="1.8"/><circle cx="284.3" cy="441.2" r="1.8"/><circle cx="208.9" cy="275.6" r="1.8"/><circle cx="297.6" cy="354.4" r="1.8"/><circle cx="288.7" cy="424.5" r="1.8"/><circle cx="261.5" cy="235.9" r="1.8"/><circle cx="285.8" cy="239.9" r="1.8"/><circle cx="302.6" cy="257.4" r="1.8"/><circle cx="308.1" cy="288.1" r="1.8"/><circle cx="304.2" cy="303.5" r="1.8"/><circle cx="285.9" cy="419.8" r="1.8"/><circle cx="182.2" cy="226.9" r="1.8"/><circle cx="279.4" cy="254.4" r="1.8"/><circle cx="273.0" cy="386.7" r="1.8"/><circle cx="269.0" cy="334.2" r="1.8"/><circle cx="305.5" cy="358.3" r="1.8"/><circle cx="307.4" cy="368.5" r="1.8"/><circle cx="280.8" cy="423.6" r="1.8"/><circle cx="272.0" cy="344.5" r="1.8"/><circle cx="288.8" cy="256.1" r="1.8"/><circle cx="275.4" cy="256.9" r="1.8"/><circle cx="264.0" cy="237.8" r="1.8"/><circle cx="288.6" cy="344.0" r="1.8"/><circle cx="295.5" cy="274.5" r="1.8"/><circle cx="271.3" cy="323.4" r="1.8"/><circle cx="262.5" cy="271.5" r="1.8"/><circle cx="267.0" cy="457.5" r="1.8"/><circle cx="285.2" cy="253.2" r="1.8"/><circle cx="296.7" cy="271.3" r="1.8"/><circle cx="276.9" cy="287.3" r="1.8"/><circle cx="294.9" cy="261.0" r="1.8"/><circle cx="309.5" cy="349.5" r="1.8"/><circle cx="289.2" cy="341.3" r="1.8"/><circle cx="301.7" cy="332.3" r="1.8"/><circle cx="302.2" cy="260.0" r="1.8"/><circle cx="275.0" cy="248.6" r="1.8"/><circle cx="273.1" cy="419.4" r="1.8"/><circle cx="273.8" cy="376.6" r="1.8"/><circle cx="287.8" cy="452.1" r="1.8"/><circle cx="308.0" cy="332.2" r="1.8"/><circle cx="282.4" cy="453.5" r="1.8"/><circle cx="268.6" cy="331.6" r="1.8"/><circle cx="216.0" cy="260.0" r="1.8"/><circle cx="261.8" cy="243.5" r="1.8"/><circle cx="263.0" cy="273.3" r="1.8"/><circle cx="278.5" cy="455.6" r="1.8"/><circle cx="286.1" cy="228.5" r="1.8"/><circle cx="253.1" cy="466.8" r="1.8"/><circle cx="281.1" cy="299.3" r="1.8"/><circle cx="306.7" cy="319.4" r="1.8"/><circle cx="302.5" cy="361.6" r="1.8"/><circle cx="253.2" cy="316.1" r="1.8"/><circle cx="283.5" cy="452.9" r="1.8"/><circle cx="271.8" cy="271.7" r="1.8"/><circle cx="306.0" cy="340.0" r="1.8"/><circle cx="304.2" cy="365.9" r="1.8"/><circle cx="267.5" cy="293.8" r="1.8"/><circle cx="274.6" cy="466.6" r="1.8"/><circle cx="282.7" cy="441.2" r="1.8"/><circle cx="298.5" cy="294.5" r="1.8"/><circle cx="307.3" cy="298.6" r="1.8"/><circle cx="270.6" cy="463.6" r="1.8"/><circle cx="295.8" cy="387.9" r="1.8"/><circle cx="276.3" cy="395.4" r="1.8"/><circle cx="247.2" cy="234.6" r="1.8"/><circle cx="290.6" cy="406.5" r="1.8"/><circle cx="299.3" cy="262.1" r="1.8"/><circle cx="291.8" cy="345.9" r="1.8"/><circle cx="262.0" cy="383.1" r="1.8"/><circle cx="262.5" cy="251.5" r="1.8"/><circle cx="305.5" cy="312.4" r="1.8"/><circle cx="256.9" cy="291.5" r="1.8"/><circle cx="245.3" cy="488.0" r="1.8"/><circle cx="279.0" cy="407.7" r="1.8"/><circle cx="307.6" cy="309.6" r="1.8"/><circle cx="261.5" cy="306.9" r="1.8"/><circle cx="279.8" cy="398.5" r="1.8"/><circle cx="293.7" cy="381.7" r="1.8"/><circle cx="257.0" cy="378.0" r="1.8"/><circle cx="265.6" cy="232.7" r="1.8"/><circle cx="257.5" cy="320.1" r="1.8"/><circle cx="264.4" cy="389.3" r="1.8"/><circle cx="277.0" cy="437.9" r="1.8"/><circle cx="303.4" cy="371.4" r="1.8"/><circle cx="265.8" cy="252.5" r="1.8"/><circle cx="273.4" cy="359.9" r="1.8"/><circle cx="301.9" cy="383.5" r="1.8"/><circle cx="285.8" cy="428.9" r="1.8"/><circle cx="279.1" cy="250.5" r="1.8"/><circle cx="299.0" cy="421.1" r="1.8"/><circle cx="285.5" cy="400.5" r="1.8"/><circle cx="304.7" cy="271.5" r="1.8"/><circle cx="292.9" cy="317.4" r="1.8"/><circle cx="256.2" cy="376.8" r="1.8"/><circle cx="301.3" cy="305.7" r="1.8"/><circle cx="286.1" cy="280.1" r="1.8"/><circle cx="280.5" cy="270.4" r="1.8"/><circle cx="256.4" cy="297.2" r="1.8"/><circle cx="276.8" cy="442.5" r="1.8"/><circle cx="308.0" cy="285.9" r="1.8"/><circle cx="293.0" cy="275.2" r="1.8"/><circle cx="285.0" cy="438.2" r="1.8"/><circle cx="294.5" cy="263.7" r="1.8"/><circle cx="272.4" cy="380.5" r="1.8"/><circle cx="308.3" cy="373.2" r="1.8"/><circle cx="279.0" cy="273.8" r="1.8"/><circle cx="295.2" cy="250.8" r="1.8"/><circle cx="306.8" cy="318.9" r="1.8"/><circle cx="258.5" cy="311.6" r="1.8"/><circle cx="301.0" cy="314.4" r="1.8"/><circle cx="287.7" cy="407.9" r="1.8"/><circle cx="295.6" cy="277.5" r="1.8"/><circle cx="297.1" cy="243.9" r="1.8"/><circle cx="282.5" cy="258.6" r="1.8"/><circle cx="270.5" cy="391.2" r="1.8"/><circle cx="293.2" cy="251.2" r="1.8"/><circle cx="301.1" cy="310.8" r="1.8"/><circle cx="303.9" cy="267.7" r="1.8"/><circle cx="291.3" cy="350.2" r="1.8"/><circle cx="260.3" cy="450.9" r="1.8"/><circle cx="279.6" cy="398.3" r="1.8"/><circle cx="298.0" cy="386.4" r="1.8"/><circle cx="296.1" cy="259.4" r="1.8"/><circle cx="261.0" cy="228.1" r="1.8"/><circle cx="296.6" cy="341.0" r="1.8"/><circle cx="272.5" cy="357.6" r="1.8"/><circle cx="285.0" cy="336.0" r="1.8"/><circle cx="259.4" cy="231.9" r="1.8"/><circle cx="304.4" cy="378.0" r="1.8"/><circle cx="244.8" cy="444.6" r="1.8"/><circle cx="311.9" cy="341.3" r="1.8"/><circle cx="243.5" cy="305.5" r="1.8"/><circle cx="273.7" cy="403.1" r="1.8"/><circle cx="276.0" cy="398.1" r="1.8"/><circle cx="306.8" cy="296.1" r="1.8"/><circle cx="287.1" cy="389.0" r="1.8"/><circle cx="203.9" cy="230.6" r="1.8"/><circle cx="298.9" cy="376.5" r="1.8"/><circle cx="274.9" cy="389.0" r="1.8"/><circle cx="296.4" cy="428.9" r="1.8"/><circle cx="217.9" cy="222.2" r="1.8"/><circle cx="283.5" cy="234.2" r="1.8"/><circle cx="281.4" cy="427.3" r="1.8"/><circle cx="138.0" cy="248.7" r="1.8"/><circle cx="240.7" cy="353.8" r="1.8"/><circle cx="284.3" cy="410.2" r="1.8"/><circle cx="256.5" cy="259.1" r="1.8"/><circle cx="308.2" cy="339.6" r="1.8"/><circle cx="273.9" cy="243.6" r="1.8"/><circle cx="306.8" cy="317.0" r="1.8"/><circle cx="294.8" cy="333.5" r="1.8"/><circle cx="274.0" cy="353.0" r="1.8"/><circle cx="259.3" cy="443.5" r="1.8"/><circle cx="246.1" cy="462.1" r="1.8"/><circle cx="258.2" cy="320.5" r="1.8"/><circle cx="251.8" cy="230.4" r="1.8"/><circle cx="278.3" cy="435.7" r="1.8"/><circle cx="259.8" cy="435.1" r="1.8"/><circle cx="255.0" cy="402.3" r="1.8"/><circle cx="288.0" cy="424.8" r="1.8"/><circle cx="303.6" cy="319.3" r="1.8"/><circle cx="309.7" cy="334.7" r="1.8"/><circle cx="286.8" cy="319.7" r="1.8"/><circle cx="282.2" cy="282.6" r="1.8"/><circle cx="271.2" cy="297.3" r="1.8"/><circle cx="309.1" cy="329.6" r="1.8"/><circle cx="102.4" cy="227.3" r="1.8"/><circle cx="273.1" cy="450.6" r="1.8"/><circle cx="262.8" cy="457.3" r="1.8"/><circle cx="260.3" cy="347.4" r="1.8"/><circle cx="267.0" cy="360.8" r="1.8"/><circle cx="273.0" cy="268.6" r="1.8"/><circle cx="263.4" cy="418.7" r="1.8"/><circle cx="299.5" cy="382.8" r="1.8"/><circle cx="278.7" cy="282.8" r="1.8"/><circle cx="288.1" cy="380.0" r="1.8"/><circle cx="294.3" cy="306.6" r="1.8"/><circle cx="305.7" cy="365.8" r="1.8"/><circle cx="294.2" cy="327.3" r="1.8"/><circle cx="297.2" cy="395.9" r="1.8"/><circle cx="250.3" cy="273.5" r="1.8"/><circle cx="290.6" cy="228.6" r="1.8"/><circle cx="241.0" cy="361.3" r="1.8"/><circle cx="299.3" cy="365.2" r="1.8"/><circle cx="280.3" cy="396.3" r="1.8"/><circle cx="260.1" cy="235.8" r="1.8"/><circle cx="241.4" cy="262.9" r="1.8"/><circle cx="280.1" cy="271.2" r="1.8"/><circle cx="217.6" cy="222.5" r="1.8"/><circle cx="302.6" cy="259.5" r="1.8"/><circle cx="266.8" cy="353.9" r="1.8"/><circle cx="229.0" cy="337.5" r="1.8"/><circle cx="296.8" cy="378.1" r="1.8"/><circle cx="262.7" cy="242.8" r="1.8"/><circle cx="232.7" cy="253.9" r="1.8"/><circle cx="283.4" cy="456.7" r="1.8"/><circle cx="289.3" cy="338.2" r="1.8"/><circle cx="296.3" cy="372.1" r="1.8"/><circle cx="285.0" cy="443.1" r="1.8"/><circle cx="272.3" cy="251.0" r="1.8"/><circle cx="269.3" cy="400.0" r="1.8"/><circle cx="267.2" cy="470.2" r="1.8"/><circle cx="297.6" cy="408.0" r="1.8"/><circle cx="244.0" cy="379.4" r="1.8"/><circle cx="297.1" cy="310.9" r="1.8"/><circle cx="270.5" cy="279.8" r="1.8"/><circle cx="257.2" cy="481.5" r="1.8"/><circle cx="231.9" cy="222.6" r="1.8"/><circle cx="257.4" cy="359.9" r="1.8"/><circle cx="300.7" cy="271.1" r="1.8"/><circle cx="265.0" cy="466.8" r="1.8"/><circle cx="279.1" cy="461.6" r="1.8"/><circle cx="306.5" cy="313.7" r="1.8"/><circle cx="284.8" cy="443.8" r="1.8"/><circle cx="276.8" cy="344.3" r="1.8"/><circle cx="294.0" cy="345.0" r="1.8"/><circle cx="268.5" cy="230.3" r="1.8"/><circle cx="258.0" cy="226.6" r="1.8"/><circle cx="275.1" cy="397.3" r="1.8"/><circle cx="270.4" cy="303.5" r="1.8"/><circle cx="302.0" cy="404.3" r="1.8"/><circle cx="307.7" cy="290.1" r="1.8"/><circle cx="280.3" cy="440.2" r="1.8"/><circle cx="274.5" cy="237.5" r="1.8"/><circle cx="289.2" cy="239.2" r="1.8"/><circle cx="275.3" cy="418.6" r="1.8"/><circle cx="268.3" cy="249.1" r="1.8"/><circle cx="285.3" cy="363.0" r="1.8"/><circle cx="285.9" cy="256.0" r="1.8"/><circle cx="285.8" cy="431.7" r="1.8"/><circle cx="294.9" cy="257.5" r="1.8"/><circle cx="291.1" cy="401.4" r="1.8"/><circle cx="261.3" cy="319.6" r="1.8"/><circle cx="300.1" cy="340.0" r="1.8"/><circle cx="253.7" cy="335.4" r="1.8"/><circle cx="275.1" cy="418.4" r="1.8"/><circle cx="293.2" cy="355.1" r="1.8"/><circle cx="276.5" cy="325.2" r="1.8"/><circle cx="277.5" cy="301.4" r="1.8"/><circle cx="275.1" cy="325.0" r="1.8"/><circle cx="265.7" cy="312.6" r="1.8"/><circle cx="277.3" cy="315.3" r="1.8"/><circle cx="262.8" cy="279.9" r="1.8"/><circle cx="310.0" cy="334.9" r="1.8"/><circle cx="273.1" cy="323.2" r="1.8"/><circle cx="265.4" cy="389.8" r="1.8"/><circle cx="223.9" cy="255.5" r="1.8"/><circle cx="263.8" cy="264.7" r="1.8"/><circle cx="282.3" cy="463.1" r="1.8"/><circle cx="277.3" cy="238.0" r="1.8"/><circle cx="275.4" cy="259.9" r="1.8"/><circle cx="297.8" cy="293.8" r="1.8"/><circle cx="259.0" cy="390.5" r="1.8"/><circle cx="291.0" cy="229.6" r="1.8"/><circle cx="297.4" cy="295.7" r="1.8"/><circle cx="287.4" cy="425.2" r="1.8"/><circle cx="233.1" cy="359.6" r="1.8"/><circle cx="289.9" cy="418.5" r="1.8"/><circle cx="251.5" cy="445.0" r="1.8"/><circle cx="293.8" cy="328.8" r="1.8"/><circle cx="264.0" cy="451.7" r="1.8"/><circle cx="238.7" cy="404.6" r="1.8"/><circle cx="291.9" cy="346.6" r="1.8"/><circle cx="283.7" cy="306.7" r="1.8"/><circle cx="294.7" cy="352.3" r="1.8"/><circle cx="281.8" cy="229.4" r="1.8"/><circle cx="292.9" cy="390.2" r="1.8"/><circle cx="269.6" cy="227.9" r="1.8"/><circle cx="255.1" cy="224.4" r="1.8"/><circle cx="240.5" cy="228.2" r="1.8"/><circle cx="255.8" cy="225.3" r="1.8"/><circle cx="259.9" cy="226.2" r="1.8"/><circle cx="244.5" cy="225.4" r="1.8"/><circle cx="249.4" cy="228.1" r="1.8"/><circle cx="273.2" cy="225.1" r="1.8"/><circle cx="272.1" cy="225.7" r="1.8"/><circle cx="283.3" cy="225.1" r="1.8"/><circle cx="283.4" cy="229.1" r="1.8"/><circle cx="254.2" cy="228.1" r="1.8"/><circle cx="267.7" cy="227.9" r="1.8"/><circle cx="266.3" cy="224.5" r="1.8"/><circle cx="282.0" cy="229.4" r="1.8"/><circle cx="268.0" cy="229.0" r="1.8"/><circle cx="243.9" cy="227.4" r="1.8"/><circle cx="281.1" cy="224.8" r="1.8"/><circle cx="235.0" cy="223.7" r="1.8"/><circle cx="234.0" cy="228.0" r="1.8"/><circle cx="262.8" cy="224.3" r="1.8"/><circle cx="235.1" cy="224.8" r="1.8"/><circle cx="282.3" cy="225.1" r="1.8"/><circle cx="280.2" cy="225.5" r="1.8"/><circle cx="232.5" cy="223.3" r="1.8"/><circle cx="243.9" cy="223.0" r="1.8"/><circle cx="271.6" cy="224.2" r="1.8"/><circle cx="228.1" cy="224.5" r="1.8"/><circle cx="233.6" cy="228.5" r="1.8"/><circle cx="241.7" cy="229.1" r="1.8"/><circle cx="240.4" cy="227.7" r="1.8"/><circle cx="276.5" cy="227.1" r="1.8"/><circle cx="250.2" cy="224.9" r="1.8"/><circle cx="282.8" cy="228.8" r="1.8"/><circle cx="239.7" cy="228.3" r="1.8"/><circle cx="285.3" cy="226.5" r="1.8"/><circle cx="270.5" cy="224.4" r="1.8"/><circle cx="231.3" cy="229.1" r="1.8"/><circle cx="238.1" cy="225.7" r="1.8"/><circle cx="236.0" cy="224.0" r="1.8"/><circle cx="225.5" cy="226.8" r="1.8"/><circle cx="261.8" cy="225.1" r="1.8"/><circle cx="257.2" cy="226.7" r="1.8"/><circle cx="267.4" cy="224.7" r="1.8"/><circle cx="248.6" cy="226.7" r="1.8"/><circle cx="273.0" cy="224.7" r="1.8"/><circle cx="252.0" cy="224.3" r="1.8"/><circle cx="283.1" cy="227.0" r="1.8"/><circle cx="254.5" cy="223.2" r="1.8"/><circle cx="227.7" cy="229.2" r="1.8"/><circle cx="270.1" cy="225.5" r="1.8"/><circle cx="281.4" cy="225.6" r="1.8"/><circle cx="259.7" cy="223.2" r="1.8"/><circle cx="240.8" cy="228.1" r="1.8"/><circle cx="264.1" cy="226.7" r="1.8"/><circle cx="261.1" cy="225.1" r="1.8"/><circle cx="253.1" cy="229.6" r="1.8"/><circle cx="233.2" cy="223.0" r="1.8"/><circle cx="258.1" cy="227.6" r="1.8"/><circle cx="272.8" cy="223.8" r="1.8"/><circle cx="276.4" cy="225.9" r="1.8"/><circle cx="230.8" cy="227.9" r="1.8"/><circle cx="278.2" cy="223.7" r="1.8"/><circle cx="272.7" cy="228.5" r="1.8"/><circle cx="265.1" cy="225.9" r="1.8"/><circle cx="233.5" cy="223.0" r="1.8"/><circle cx="273.0" cy="225.0" r="1.8"/><circle cx="242.0" cy="229.7" r="1.8"/><circle cx="270.2" cy="223.1" r="1.8"/><circle cx="230.1" cy="227.2" r="1.8"/><circle cx="231.4" cy="226.4" r="1.8"/><circle cx="248.1" cy="224.8" r="1.8"/><circle cx="267.5" cy="228.4" r="1.8"/><circle cx="225.6" cy="229.0" r="1.8"/><circle cx="242.6" cy="229.3" r="1.8"/><circle cx="188.0" cy="224.8" r="1.8"/><circle cx="215.4" cy="223.8" r="1.8"/><circle cx="207.9" cy="224.4" r="1.8"/><circle cx="197.5" cy="225.1" r="1.8"/><circle cx="223.0" cy="223.1" r="1.8"/><circle cx="166.3" cy="227.1" r="1.8"/><circle cx="164.4" cy="226.0" r="1.8"/><circle cx="219.3" cy="223.8" r="1.8"/><circle cx="176.1" cy="225.8" r="1.8"/><circle cx="175.3" cy="227.2" r="1.8"/><circle cx="184.0" cy="224.5" r="1.8"/><circle cx="224.2" cy="227.2" r="1.8"/><circle cx="175.5" cy="226.2" r="1.8"/><circle cx="174.8" cy="223.3" r="1.8"/><circle cx="204.0" cy="223.8" r="1.8"/><circle cx="207.7" cy="226.5" r="1.8"/><circle cx="161.2" cy="224.9" r="1.8"/><circle cx="169.2" cy="226.4" r="1.8"/><circle cx="192.8" cy="226.8" r="1.8"/><circle cx="222.9" cy="227.2" r="1.8"/><circle cx="177.8" cy="225.2" r="1.8"/><circle cx="189.2" cy="225.8" r="1.8"/><circle cx="68.1" cy="226.3" r="1.8"/><circle cx="138.8" cy="226.6" r="1.8"/><circle cx="150.8" cy="226.2" r="1.8"/></g>
<g fill="#5cbfe8"><circle cx="366.1" cy="425.2" r="1.8"/><circle cx="376.6" cy="429.8" r="1.8"/><circle cx="376.7" cy="355.0" r="1.8"/><circle cx="389.0" cy="414.1" r="1.8"/><circle cx="393.6" cy="454.0" r="1.8"/><circle cx="359.5" cy="326.3" r="1.8"/><circle cx="371.9" cy="228.9" r="1.8"/><circle cx="357.7" cy="303.2" r="1.8"/><circle cx="419.6" cy="230.1" r="1.8"/><circle cx="365.7" cy="380.9" r="1.8"/><circle cx="402.9" cy="281.2" r="1.8"/><circle cx="361.7" cy="358.4" r="1.8"/><circle cx="378.1" cy="273.3" r="1.8"/><circle cx="377.0" cy="398.5" r="1.8"/><circle cx="374.7" cy="227.2" r="1.8"/><circle cx="379.4" cy="457.9" r="1.8"/><circle cx="375.3" cy="319.8" r="1.8"/><circle cx="366.0" cy="248.6" r="1.8"/><circle cx="389.6" cy="367.4" r="1.8"/><circle cx="372.9" cy="451.3" r="1.8"/><circle cx="360.0" cy="396.7" r="1.8"/><circle cx="372.8" cy="372.0" r="1.8"/><circle cx="363.7" cy="284.9" r="1.8"/><circle cx="360.5" cy="317.5" r="1.8"/><circle cx="389.9" cy="470.3" r="1.8"/><circle cx="371.4" cy="421.9" r="1.8"/><circle cx="387.0" cy="278.9" r="1.8"/><circle cx="371.2" cy="283.9" r="1.8"/><circle cx="380.0" cy="443.0" r="1.8"/><circle cx="478.6" cy="283.0" r="1.8"/><circle cx="384.3" cy="293.6" r="1.8"/><circle cx="360.5" cy="275.9" r="1.8"/><circle cx="375.5" cy="382.9" r="1.8"/><circle cx="383.6" cy="275.4" r="1.8"/><circle cx="357.3" cy="318.7" r="1.8"/><circle cx="418.4" cy="467.7" r="1.8"/><circle cx="374.2" cy="271.2" r="1.8"/><circle cx="390.6" cy="277.0" r="1.8"/><circle cx="409.7" cy="266.7" r="1.8"/><circle cx="357.6" cy="339.6" r="1.8"/><circle cx="363.2" cy="381.2" r="1.8"/><circle cx="401.0" cy="251.8" r="1.8"/><circle cx="384.0" cy="252.8" r="1.8"/><circle cx="468.1" cy="309.7" r="1.8"/><circle cx="385.1" cy="281.3" r="1.8"/><circle cx="364.0" cy="354.2" r="1.8"/><circle cx="367.8" cy="312.6" r="1.8"/><circle cx="368.4" cy="410.6" r="1.8"/><circle cx="381.2" cy="384.7" r="1.8"/><circle cx="366.2" cy="268.5" r="1.8"/><circle cx="385.1" cy="253.6" r="1.8"/><circle cx="403.4" cy="255.2" r="1.8"/><circle cx="385.4" cy="413.0" r="1.8"/><circle cx="368.7" cy="439.5" r="1.8"/><circle cx="534.5" cy="253.2" r="1.8"/><circle cx="385.6" cy="278.7" r="1.8"/><circle cx="385.8" cy="447.4" r="1.8"/><circle cx="357.3" cy="299.8" r="1.8"/><circle cx="368.6" cy="243.6" r="1.8"/><circle cx="362.4" cy="339.6" r="1.8"/><circle cx="373.3" cy="444.2" r="1.8"/><circle cx="361.6" cy="342.5" r="1.8"/><circle cx="387.9" cy="283.7" r="1.8"/><circle cx="358.0" cy="323.3" r="1.8"/><circle cx="366.9" cy="246.8" r="1.8"/><circle cx="370.3" cy="372.5" r="1.8"/><circle cx="380.2" cy="244.8" r="1.8"/><circle cx="361.7" cy="387.9" r="1.8"/><circle cx="363.7" cy="328.1" r="1.8"/><circle cx="374.4" cy="262.6" r="1.8"/><circle cx="489.0" cy="358.4" r="1.8"/><circle cx="357.4" cy="351.4" r="1.8"/><circle cx="377.1" cy="283.0" r="1.8"/><circle cx="373.5" cy="325.0" r="1.8"/><circle cx="413.1" cy="227.0" r="1.8"/><circle cx="357.3" cy="287.3" r="1.8"/><circle cx="363.1" cy="292.0" r="1.8"/><circle cx="369.4" cy="240.8" r="1.8"/><circle cx="356.5" cy="314.8" r="1.8"/><circle cx="376.7" cy="235.7" r="1.8"/><circle cx="437.0" cy="365.7" r="1.8"/><circle cx="361.9" cy="265.1" r="1.8"/><circle cx="379.1" cy="395.6" r="1.8"/><circle cx="375.0" cy="271.1" r="1.8"/><circle cx="365.8" cy="296.5" r="1.8"/><circle cx="385.9" cy="231.7" r="1.8"/><circle cx="378.6" cy="375.2" r="1.8"/><circle cx="375.5" cy="428.9" r="1.8"/><circle cx="369.1" cy="432.2" r="1.8"/><circle cx="362.5" cy="375.4" r="1.8"/><circle cx="356.5" cy="303.5" r="1.8"/><circle cx="372.6" cy="431.5" r="1.8"/><circle cx="360.5" cy="336.8" r="1.8"/><circle cx="377.9" cy="450.7" r="1.8"/><circle cx="404.5" cy="252.8" r="1.8"/><circle cx="380.9" cy="354.5" r="1.8"/><circle cx="463.8" cy="267.9" r="1.8"/><circle cx="511.5" cy="225.3" r="1.8"/><circle cx="373.3" cy="240.3" r="1.8"/><circle cx="374.0" cy="418.4" r="1.8"/><circle cx="410.0" cy="256.8" r="1.8"/><circle cx="450.6" cy="230.2" r="1.8"/><circle cx="391.0" cy="226.5" r="1.8"/><circle cx="422.2" cy="459.8" r="1.8"/><circle cx="389.7" cy="298.6" r="1.8"/><circle cx="406.0" cy="458.6" r="1.8"/><circle cx="447.5" cy="224.8" r="1.8"/><circle cx="382.2" cy="412.5" r="1.8"/><circle cx="371.2" cy="366.8" r="1.8"/><circle cx="465.8" cy="286.7" r="1.8"/><circle cx="384.4" cy="336.8" r="1.8"/><circle cx="359.9" cy="272.2" r="1.8"/><circle cx="365.7" cy="377.5" r="1.8"/><circle cx="376.1" cy="342.5" r="1.8"/><circle cx="374.7" cy="274.8" r="1.8"/><circle cx="410.5" cy="444.5" r="1.8"/><circle cx="420.2" cy="302.7" r="1.8"/><circle cx="398.5" cy="230.4" r="1.8"/><circle cx="370.8" cy="237.0" r="1.8"/><circle cx="357.8" cy="398.6" r="1.8"/><circle cx="353.2" cy="354.8" r="1.8"/><circle cx="387.6" cy="403.4" r="1.8"/><circle cx="359.5" cy="403.8" r="1.8"/><circle cx="383.1" cy="468.9" r="1.8"/><circle cx="390.8" cy="249.2" r="1.8"/><circle cx="363.2" cy="305.9" r="1.8"/><circle cx="371.8" cy="370.8" r="1.8"/><circle cx="369.3" cy="252.9" r="1.8"/><circle cx="387.8" cy="436.5" r="1.8"/><circle cx="402.6" cy="444.5" r="1.8"/><circle cx="539.9" cy="229.3" r="1.8"/><circle cx="372.6" cy="445.7" r="1.8"/><circle cx="373.0" cy="337.6" r="1.8"/><circle cx="403.4" cy="344.3" r="1.8"/><circle cx="373.2" cy="439.5" r="1.8"/><circle cx="417.7" cy="222.9" r="1.8"/><circle cx="382.2" cy="256.4" r="1.8"/><circle cx="385.9" cy="238.4" r="1.8"/><circle cx="391.1" cy="238.1" r="1.8"/><circle cx="374.1" cy="373.7" r="1.8"/><circle cx="398.2" cy="472.2" r="1.8"/><circle cx="399.2" cy="246.3" r="1.8"/><circle cx="406.6" cy="228.8" r="1.8"/><circle cx="388.7" cy="280.3" r="1.8"/><circle cx="366.1" cy="245.1" r="1.8"/><circle cx="380.1" cy="244.7" r="1.8"/><circle cx="368.6" cy="284.9" r="1.8"/><circle cx="379.0" cy="236.2" r="1.8"/><circle cx="367.5" cy="405.1" r="1.8"/><circle cx="385.0" cy="439.2" r="1.8"/><circle cx="379.1" cy="445.5" r="1.8"/><circle cx="390.1" cy="232.7" r="1.8"/><circle cx="386.3" cy="438.7" r="1.8"/><circle cx="510.6" cy="252.7" r="1.8"/><circle cx="387.4" cy="230.1" r="1.8"/><circle cx="372.9" cy="326.2" r="1.8"/><circle cx="368.9" cy="347.5" r="1.8"/><circle cx="385.8" cy="453.5" r="1.8"/><circle cx="366.0" cy="425.0" r="1.8"/><circle cx="384.1" cy="437.1" r="1.8"/><circle cx="385.4" cy="448.5" r="1.8"/><circle cx="372.9" cy="236.1" r="1.8"/><circle cx="373.2" cy="270.2" r="1.8"/><circle cx="389.5" cy="306.0" r="1.8"/><circle cx="401.6" cy="330.7" r="1.8"/><circle cx="513.7" cy="267.9" r="1.8"/><circle cx="397.4" cy="231.7" r="1.8"/><circle cx="364.6" cy="336.8" r="1.8"/><circle cx="432.4" cy="263.1" r="1.8"/><circle cx="370.5" cy="277.5" r="1.8"/><circle cx="355.4" cy="384.0" r="1.8"/><circle cx="365.7" cy="326.1" r="1.8"/><circle cx="354.1" cy="345.6" r="1.8"/><circle cx="365.4" cy="284.2" r="1.8"/><circle cx="369.5" cy="419.3" r="1.8"/><circle cx="355.9" cy="325.1" r="1.8"/><circle cx="356.7" cy="302.1" r="1.8"/><circle cx="369.2" cy="295.7" r="1.8"/><circle cx="406.9" cy="374.7" r="1.8"/><circle cx="362.3" cy="362.8" r="1.8"/><circle cx="398.1" cy="253.9" r="1.8"/><circle cx="370.7" cy="362.7" r="1.8"/><circle cx="363.6" cy="268.6" r="1.8"/><circle cx="375.2" cy="256.3" r="1.8"/><circle cx="415.0" cy="255.8" r="1.8"/><circle cx="380.1" cy="464.3" r="1.8"/><circle cx="437.8" cy="428.2" r="1.8"/><circle cx="400.1" cy="265.1" r="1.8"/><circle cx="397.1" cy="354.3" r="1.8"/><circle cx="364.2" cy="287.6" r="1.8"/><circle cx="362.4" cy="261.4" r="1.8"/><circle cx="394.4" cy="470.0" r="1.8"/><circle cx="360.7" cy="401.5" r="1.8"/><circle cx="398.9" cy="370.9" r="1.8"/><circle cx="360.3" cy="393.7" r="1.8"/><circle cx="367.5" cy="320.0" r="1.8"/><circle cx="400.7" cy="339.5" r="1.8"/><circle cx="432.8" cy="314.1" r="1.8"/><circle cx="381.2" cy="253.9" r="1.8"/><circle cx="431.7" cy="466.0" r="1.8"/><circle cx="413.9" cy="244.1" r="1.8"/><circle cx="371.5" cy="413.7" r="1.8"/><circle cx="375.3" cy="388.6" r="1.8"/><circle cx="445.9" cy="250.8" r="1.8"/><circle cx="367.1" cy="429.3" r="1.8"/><circle cx="387.8" cy="428.0" r="1.8"/><circle cx="368.2" cy="394.4" r="1.8"/><circle cx="387.1" cy="418.0" r="1.8"/><circle cx="451.2" cy="235.7" r="1.8"/><circle cx="388.3" cy="441.7" r="1.8"/><circle cx="367.5" cy="264.1" r="1.8"/><circle cx="362.3" cy="416.3" r="1.8"/><circle cx="363.2" cy="353.7" r="1.8"/><circle cx="380.9" cy="405.4" r="1.8"/><circle cx="369.3" cy="251.6" r="1.8"/><circle cx="379.2" cy="225.2" r="1.8"/><circle cx="361.7" cy="328.7" r="1.8"/><circle cx="366.7" cy="417.9" r="1.8"/><circle cx="402.5" cy="452.9" r="1.8"/><circle cx="374.7" cy="455.6" r="1.8"/><circle cx="369.1" cy="248.0" r="1.8"/><circle cx="505.0" cy="309.7" r="1.8"/><circle cx="417.0" cy="448.2" r="1.8"/><circle cx="386.0" cy="246.2" r="1.8"/><circle cx="394.4" cy="428.6" r="1.8"/><circle cx="385.1" cy="452.5" r="1.8"/><circle cx="380.4" cy="305.4" r="1.8"/><circle cx="359.0" cy="355.6" r="1.8"/><circle cx="443.0" cy="254.1" r="1.8"/><circle cx="380.5" cy="441.9" r="1.8"/><circle cx="386.4" cy="242.2" r="1.8"/><circle cx="420.9" cy="413.7" r="1.8"/><circle cx="390.9" cy="242.4" r="1.8"/><circle cx="366.4" cy="392.5" r="1.8"/><circle cx="388.9" cy="281.4" r="1.8"/><circle cx="388.9" cy="275.0" r="1.8"/><circle cx="355.0" cy="333.1" r="1.8"/><circle cx="379.0" cy="425.8" r="1.8"/><circle cx="387.9" cy="318.7" r="1.8"/><circle cx="388.6" cy="315.0" r="1.8"/><circle cx="378.1" cy="231.6" r="1.8"/><circle cx="370.2" cy="378.6" r="1.8"/><circle cx="382.7" cy="439.3" r="1.8"/><circle cx="382.0" cy="258.1" r="1.8"/><circle cx="399.8" cy="475.8" r="1.8"/><circle cx="356.5" cy="298.4" r="1.8"/><circle cx="358.1" cy="360.2" r="1.8"/><circle cx="362.1" cy="362.4" r="1.8"/><circle cx="382.8" cy="454.7" r="1.8"/><circle cx="400.0" cy="449.8" r="1.8"/><circle cx="386.3" cy="312.0" r="1.8"/><circle cx="372.9" cy="334.3" r="1.8"/><circle cx="381.4" cy="284.7" r="1.8"/><circle cx="394.7" cy="250.8" r="1.8"/><circle cx="354.9" cy="320.2" r="1.8"/><circle cx="392.1" cy="245.8" r="1.8"/><circle cx="391.5" cy="472.2" r="1.8"/><circle cx="367.8" cy="373.3" r="1.8"/><circle cx="388.3" cy="297.1" r="1.8"/><circle cx="375.0" cy="225.7" r="1.8"/><circle cx="377.9" cy="336.2" r="1.8"/><circle cx="374.3" cy="253.4" r="1.8"/><circle cx="385.9" cy="230.1" r="1.8"/><circle cx="366.9" cy="314.7" r="1.8"/><circle cx="419.0" cy="406.3" r="1.8"/><circle cx="385.5" cy="464.4" r="1.8"/><circle cx="408.7" cy="221.9" r="1.8"/><circle cx="394.8" cy="455.2" r="1.8"/><circle cx="377.3" cy="267.9" r="1.8"/><circle cx="390.2" cy="401.5" r="1.8"/><circle cx="373.6" cy="314.0" r="1.8"/><circle cx="369.3" cy="288.8" r="1.8"/><circle cx="357.6" cy="385.4" r="1.8"/><circle cx="358.8" cy="355.5" r="1.8"/><circle cx="366.9" cy="293.3" r="1.8"/><circle cx="369.0" cy="384.6" r="1.8"/><circle cx="402.3" cy="461.4" r="1.8"/><circle cx="377.5" cy="459.3" r="1.8"/><circle cx="387.8" cy="269.8" r="1.8"/><circle cx="374.7" cy="388.5" r="1.8"/><circle cx="385.5" cy="377.8" r="1.8"/><circle cx="368.5" cy="242.0" r="1.8"/><circle cx="366.1" cy="380.4" r="1.8"/><circle cx="398.0" cy="405.5" r="1.8"/><circle cx="369.3" cy="372.3" r="1.8"/><circle cx="365.8" cy="359.8" r="1.8"/><circle cx="358.3" cy="352.1" r="1.8"/><circle cx="388.2" cy="458.7" r="1.8"/><circle cx="364.4" cy="260.8" r="1.8"/><circle cx="383.5" cy="457.5" r="1.8"/><circle cx="370.3" cy="368.3" r="1.8"/><circle cx="386.9" cy="373.0" r="1.8"/><circle cx="411.3" cy="221.7" r="1.8"/><circle cx="366.7" cy="419.0" r="1.8"/><circle cx="365.5" cy="429.8" r="1.8"/><circle cx="364.4" cy="330.4" r="1.8"/><circle cx="453.8" cy="265.1" r="1.8"/><circle cx="373.8" cy="373.6" r="1.8"/><circle cx="376.2" cy="240.1" r="1.8"/><circle cx="374.6" cy="435.0" r="1.8"/><circle cx="390.3" cy="371.8" r="1.8"/><circle cx="374.3" cy="227.1" r="1.8"/><circle cx="445.6" cy="241.8" r="1.8"/><circle cx="389.9" cy="244.0" r="1.8"/><circle cx="368.1" cy="255.8" r="1.8"/><circle cx="397.9" cy="452.9" r="1.8"/><circle cx="367.3" cy="336.3" r="1.8"/><circle cx="366.9" cy="357.3" r="1.8"/><circle cx="381.5" cy="261.2" r="1.8"/><circle cx="386.9" cy="313.5" r="1.8"/><circle cx="371.1" cy="235.7" r="1.8"/><circle cx="382.0" cy="392.5" r="1.8"/><circle cx="362.4" cy="272.8" r="1.8"/><circle cx="378.2" cy="419.1" r="1.8"/><circle cx="358.2" cy="278.0" r="1.8"/><circle cx="368.9" cy="328.2" r="1.8"/><circle cx="381.1" cy="236.6" r="1.8"/><circle cx="366.2" cy="266.8" r="1.8"/><circle cx="361.8" cy="405.1" r="1.8"/><circle cx="360.3" cy="378.9" r="1.8"/><circle cx="370.4" cy="306.8" r="1.8"/><circle cx="364.1" cy="364.1" r="1.8"/><circle cx="380.4" cy="246.0" r="1.8"/><circle cx="400.9" cy="263.0" r="1.8"/><circle cx="408.1" cy="272.6" r="1.8"/><circle cx="386.1" cy="339.2" r="1.8"/><circle cx="406.5" cy="322.1" r="1.8"/><circle cx="380.4" cy="461.6" r="1.8"/><circle cx="369.7" cy="305.2" r="1.8"/><circle cx="362.1" cy="275.6" r="1.8"/><circle cx="372.4" cy="388.5" r="1.8"/><circle cx="366.0" cy="396.3" r="1.8"/><circle cx="380.2" cy="430.1" r="1.8"/><circle cx="363.9" cy="394.4" r="1.8"/><circle cx="359.5" cy="354.5" r="1.8"/><circle cx="378.3" cy="431.1" r="1.8"/><circle cx="415.6" cy="260.5" r="1.8"/><circle cx="402.4" cy="252.7" r="1.8"/><circle cx="385.8" cy="240.5" r="1.8"/><circle cx="363.4" cy="335.1" r="1.8"/><circle cx="380.4" cy="233.3" r="1.8"/><circle cx="365.9" cy="433.0" r="1.8"/><circle cx="367.8" cy="300.5" r="1.8"/><circle cx="406.9" cy="264.7" r="1.8"/><circle cx="362.2" cy="413.2" r="1.8"/><circle cx="372.0" cy="301.6" r="1.8"/><circle cx="391.1" cy="428.5" r="1.8"/><circle cx="380.1" cy="231.8" r="1.8"/><circle cx="378.2" cy="288.3" r="1.8"/><circle cx="370.8" cy="293.4" r="1.8"/><circle cx="379.7" cy="238.5" r="1.8"/><circle cx="362.1" cy="330.4" r="1.8"/><circle cx="359.6" cy="269.1" r="1.8"/><circle cx="406.9" cy="451.4" r="1.8"/><circle cx="375.6" cy="310.3" r="1.8"/><circle cx="411.9" cy="253.1" r="1.8"/><circle cx="393.6" cy="436.0" r="1.8"/><circle cx="363.8" cy="323.0" r="1.8"/><circle cx="359.9" cy="392.3" r="1.8"/><circle cx="384.8" cy="459.9" r="1.8"/><circle cx="370.9" cy="384.8" r="1.8"/><circle cx="360.7" cy="319.0" r="1.8"/><circle cx="379.1" cy="462.7" r="1.8"/><circle cx="389.6" cy="466.6" r="1.8"/><circle cx="364.9" cy="357.7" r="1.8"/><circle cx="376.2" cy="268.0" r="1.8"/><circle cx="431.6" cy="261.0" r="1.8"/><circle cx="368.5" cy="276.4" r="1.8"/><circle cx="370.9" cy="421.2" r="1.8"/><circle cx="366.4" cy="299.9" r="1.8"/><circle cx="382.5" cy="454.4" r="1.8"/><circle cx="359.1" cy="310.7" r="1.8"/><circle cx="371.1" cy="418.1" r="1.8"/><circle cx="361.2" cy="259.0" r="1.8"/><circle cx="365.1" cy="263.9" r="1.8"/><circle cx="552.5" cy="227.4" r="1.8"/><circle cx="373.2" cy="431.1" r="1.8"/><circle cx="388.8" cy="227.2" r="1.8"/><circle cx="381.3" cy="460.2" r="1.8"/><circle cx="378.9" cy="255.9" r="1.8"/><circle cx="386.0" cy="315.7" r="1.8"/><circle cx="408.3" cy="228.6" r="1.8"/><circle cx="408.0" cy="223.9" r="1.8"/><circle cx="387.4" cy="447.0" r="1.8"/><circle cx="374.4" cy="239.9" r="1.8"/><circle cx="378.0" cy="432.0" r="1.8"/><circle cx="380.8" cy="246.0" r="1.8"/><circle cx="467.0" cy="223.7" r="1.8"/><circle cx="395.6" cy="352.7" r="1.8"/><circle cx="357.0" cy="381.9" r="1.8"/><circle cx="395.1" cy="396.1" r="1.8"/><circle cx="368.6" cy="323.8" r="1.8"/><circle cx="363.1" cy="420.9" r="1.8"/><circle cx="399.7" cy="269.9" r="1.8"/><circle cx="378.3" cy="258.0" r="1.8"/><circle cx="366.1" cy="321.5" r="1.8"/><circle cx="375.1" cy="454.6" r="1.8"/><circle cx="377.5" cy="411.3" r="1.8"/><circle cx="377.2" cy="231.6" r="1.8"/><circle cx="376.2" cy="336.8" r="1.8"/><circle cx="377.5" cy="288.4" r="1.8"/><circle cx="372.8" cy="445.5" r="1.8"/><circle cx="355.5" cy="366.4" r="1.8"/><circle cx="372.3" cy="390.2" r="1.8"/><circle cx="360.7" cy="398.8" r="1.8"/><circle cx="388.3" cy="392.6" r="1.8"/><circle cx="368.6" cy="427.5" r="1.8"/><circle cx="383.3" cy="375.6" r="1.8"/><circle cx="381.5" cy="440.6" r="1.8"/><circle cx="382.4" cy="417.7" r="1.8"/><circle cx="393.5" cy="280.8" r="1.8"/><circle cx="357.7" cy="376.8" r="1.8"/><circle cx="390.4" cy="277.6" r="1.8"/><circle cx="407.1" cy="238.3" r="1.8"/><circle cx="359.4" cy="286.2" r="1.8"/><circle cx="365.9" cy="259.9" r="1.8"/><circle cx="380.9" cy="229.9" r="1.8"/><circle cx="399.6" cy="238.8" r="1.8"/><circle cx="352.8" cy="344.0" r="1.8"/><circle cx="383.6" cy="436.9" r="1.8"/><circle cx="364.8" cy="388.6" r="1.8"/><circle cx="372.9" cy="436.1" r="1.8"/><circle cx="419.4" cy="276.0" r="1.8"/><circle cx="378.9" cy="311.3" r="1.8"/><circle cx="368.6" cy="426.6" r="1.8"/><circle cx="375.1" cy="441.7" r="1.8"/><circle cx="397.6" cy="403.5" r="1.8"/><circle cx="357.4" cy="331.9" r="1.8"/><circle cx="363.6" cy="317.4" r="1.8"/><circle cx="451.4" cy="236.9" r="1.8"/><circle cx="434.1" cy="263.0" r="1.8"/><circle cx="369.8" cy="273.2" r="1.8"/><circle cx="356.4" cy="294.1" r="1.8"/><circle cx="367.1" cy="314.5" r="1.8"/><circle cx="384.0" cy="437.2" r="1.8"/><circle cx="440.5" cy="229.5" r="1.8"/><circle cx="361.5" cy="297.1" r="1.8"/><circle cx="375.8" cy="432.1" r="1.8"/><circle cx="385.2" cy="244.5" r="1.8"/><circle cx="420.5" cy="225.2" r="1.8"/><circle cx="376.4" cy="322.5" r="1.8"/><circle cx="413.4" cy="231.7" r="1.8"/><circle cx="376.6" cy="347.8" r="1.8"/><circle cx="373.0" cy="278.9" r="1.8"/><circle cx="391.4" cy="229.6" r="1.8"/><circle cx="361.6" cy="401.6" r="1.8"/><circle cx="373.8" cy="318.6" r="1.8"/><circle cx="365.4" cy="302.2" r="1.8"/><circle cx="389.8" cy="455.0" r="1.8"/><circle cx="359.7" cy="342.6" r="1.8"/><circle cx="444.1" cy="304.5" r="1.8"/><circle cx="394.0" cy="476.2" r="1.8"/><circle cx="363.8" cy="412.3" r="1.8"/><circle cx="384.0" cy="228.7" r="1.8"/><circle cx="423.9" cy="244.7" r="1.8"/><circle cx="374.6" cy="284.4" r="1.8"/><circle cx="367.1" cy="294.7" r="1.8"/><circle cx="433.0" cy="274.0" r="1.8"/><circle cx="377.1" cy="291.1" r="1.8"/><circle cx="357.0" cy="389.8" r="1.8"/><circle cx="360.5" cy="330.0" r="1.8"/><circle cx="369.3" cy="246.4" r="1.8"/><circle cx="369.8" cy="270.4" r="1.8"/><circle cx="358.4" cy="286.6" r="1.8"/><circle cx="370.2" cy="364.8" r="1.8"/><circle cx="376.9" cy="295.1" r="1.8"/><circle cx="370.6" cy="415.4" r="1.8"/><circle cx="368.8" cy="320.5" r="1.8"/><circle cx="374.4" cy="441.7" r="1.8"/><circle cx="397.1" cy="248.9" r="1.8"/><circle cx="361.4" cy="277.2" r="1.8"/><circle cx="366.0" cy="384.4" r="1.8"/><circle cx="411.8" cy="357.8" r="1.8"/><circle cx="411.1" cy="476.3" r="1.8"/><circle cx="381.7" cy="287.6" r="1.8"/><circle cx="375.7" cy="432.1" r="1.8"/><circle cx="379.0" cy="346.4" r="1.8"/><circle cx="357.1" cy="391.2" r="1.8"/><circle cx="393.9" cy="402.6" r="1.8"/><circle cx="361.1" cy="348.9" r="1.8"/><circle cx="366.9" cy="320.0" r="1.8"/><circle cx="395.5" cy="321.7" r="1.8"/><circle cx="364.3" cy="381.8" r="1.8"/><circle cx="369.1" cy="278.0" r="1.8"/><circle cx="378.6" cy="275.3" r="1.8"/><circle cx="372.1" cy="358.6" r="1.8"/><circle cx="359.0" cy="387.9" r="1.8"/><circle cx="388.5" cy="239.5" r="1.8"/><circle cx="429.9" cy="265.2" r="1.8"/><circle cx="396.3" cy="458.6" r="1.8"/><circle cx="376.2" cy="344.6" r="1.8"/><circle cx="362.8" cy="343.6" r="1.8"/><circle cx="393.0" cy="251.4" r="1.8"/><circle cx="378.7" cy="433.7" r="1.8"/><circle cx="356.5" cy="362.1" r="1.8"/><circle cx="382.7" cy="326.1" r="1.8"/><circle cx="364.3" cy="261.2" r="1.8"/><circle cx="395.2" cy="241.2" r="1.8"/><circle cx="395.1" cy="226.6" r="1.8"/><circle cx="380.6" cy="241.9" r="1.8"/><circle cx="385.6" cy="235.4" r="1.8"/><circle cx="381.3" cy="225.4" r="1.8"/><circle cx="381.7" cy="227.0" r="1.8"/><circle cx="399.6" cy="234.1" r="1.8"/><circle cx="407.0" cy="228.4" r="1.8"/><circle cx="398.4" cy="231.4" r="1.8"/><circle cx="387.2" cy="225.7" r="1.8"/><circle cx="387.6" cy="231.8" r="1.8"/><circle cx="381.9" cy="229.2" r="1.8"/><circle cx="394.2" cy="232.3" r="1.8"/><circle cx="400.4" cy="225.6" r="1.8"/><circle cx="398.1" cy="233.9" r="1.8"/><circle cx="386.4" cy="232.9" r="1.8"/><circle cx="400.8" cy="226.3" r="1.8"/><circle cx="388.3" cy="228.8" r="1.8"/><circle cx="382.1" cy="232.9" r="1.8"/><circle cx="407.3" cy="224.2" r="1.8"/><circle cx="410.8" cy="228.8" r="1.8"/><circle cx="406.7" cy="225.5" r="1.8"/><circle cx="408.8" cy="232.5" r="1.8"/><circle cx="395.6" cy="226.7" r="1.8"/><circle cx="394.9" cy="232.7" r="1.8"/><circle cx="412.5" cy="235.2" r="1.8"/><circle cx="392.7" cy="232.2" r="1.8"/><circle cx="411.5" cy="227.5" r="1.8"/><circle cx="393.4" cy="225.1" r="1.8"/><circle cx="387.1" cy="225.4" r="1.8"/><circle cx="395.5" cy="226.9" r="1.8"/><circle cx="397.7" cy="230.8" r="1.8"/><circle cx="397.2" cy="225.4" r="1.8"/><circle cx="462.4" cy="224.2" r="1.8"/><circle cx="419.8" cy="225.9" r="1.8"/><circle cx="482.8" cy="225.6" r="1.8"/><circle cx="478.5" cy="224.5" r="1.8"/><circle cx="454.2" cy="225.2" r="1.8"/><circle cx="441.6" cy="223.8" r="1.8"/><circle cx="419.0" cy="225.3" r="1.8"/><circle cx="449.9" cy="223.5" r="1.8"/><circle cx="430.3" cy="225.2" r="1.8"/><circle cx="482.8" cy="223.5" r="1.8"/><circle cx="427.9" cy="224.4" r="1.8"/><circle cx="460.1" cy="226.1" r="1.8"/><circle cx="474.2" cy="225.3" r="1.8"/><circle cx="463.3" cy="224.6" r="1.8"/><circle cx="515.4" cy="224.6" r="1.8"/><circle cx="530.8" cy="227.1" r="1.8"/><circle cx="549.6" cy="227.3" r="1.8"/><circle cx="582.8" cy="223.5" r="1.8"/><circle cx="484.3" cy="402.0" r="1.8"/><circle cx="486.6" cy="399.2" r="1.8"/></g>
<path d="M319.18,219.20 L318.93,225.63 L318.69,231.94 L318.44,238.12 L318.18,244.18 L317.92,250.12 L317.66,255.95 L317.39,261.66 L317.11,267.26 L316.83,272.74 L316.54,278.13 L316.25,283.40 L315.95,288.57 L315.64,293.65 L315.33,298.62 L315.02,303.49 L314.69,308.27 L314.36,312.95 L314.03,317.55 L313.68,322.05 L313.33,326.47 L312.97,330.79 L312.61,335.04 L312.24,339.20 L311.86,343.28 L311.47,347.27 L311.08,351.19 L310.67,355.04 L310.26,358.81 L309.85,362.50 L309.42,366.12 L308.98,369.67 L308.54,373.15 L308.09,376.56 L307.62,379.91 L307.15,383.19 L306.67,386.41 L306.18,389.56 L305.68,392.65 L305.17,395.68 L304.65,398.65 L304.12,401.56 L303.58,404.42 L303.02,407.22 L302.46,409.96 L301.88,412.66 L301.30,415.29 L300.70,417.88 L300.09,420.42 L299.47,422.90 L298.83,425.34 L298.19,427.73 L297.53,430.07 L296.85,432.37 L296.17,434.62 L295.46,436.83 L294.75,438.99 L294.02,441.11 L293.28,443.19 L292.52,445.23 L291.75,447.23 L290.96,449.19 L290.15,451.11 L289.33,453.00 L288.49,454.84 L287.64,456.66 L286.77,458.43 L285.88,460.17 L284.97,461.88 L284.05,463.55 L283.11,465.19 L282.14,466.80 L281.16,468.38 L280.16,469.92 L279.14,471.44 L278.10,472.92 L277.04,474.38 L275.95,475.81 L274.85,477.21 L273.72,478.58 L272.57,479.92 L271.40,481.24 L270.20,482.54 L268.98,483.80 L267.74,485.05 L266.47,486.27 L265.18,487.46 L263.86,488.63 L262.51,489.78 L261.14,490.91 L259.73,492.01 L258.30,493.09 L256.85,494.15 L255.36,495.19 L253.84,496.21 L252.30,497.21 L250.72,498.19 L249.11,499.15 L247.47,500.10 L245.79,501.02 L244.08,501.93 L242.34,502.81 L240.56,503.68 L238.75,504.54 L236.90,505.37 L235.02,506.19 L233.09,507.00 L231.13,507.79 L229.13,508.56 L227.09,509.32 L225.01,510.06 L222.88,510.79 L220.71,511.50 L218.51,512.20 L216.25,512.89 L213.95,513.56 L211.61,514.22 L209.22,514.87 L206.78,515.50 L204.29,516.12 L201.75,516.73 L199.16,517.33 L196.52,517.91 L193.83,518.49 L191.08,519.05 L188.28,519.60 L185.42,520.14 L182.50,520.68 L179.53,521.20 L176.49,521.71 L173.40,522.21 L170.24,522.70 L167.02,523.18 L163.74,523.65 L160.39,524.11 L156.98,524.56 L153.49,525.01 L149.94,525.44 L146.31,525.87 L142.61,526.29 L138.84,526.70 L135.00,527.10 L131.07,527.49 L127.07,527.88 L122.99,528.26 L118.82,528.63 L114.57,528.99 L110.24,529.35 L105.82,529.70 L101.31,530.04 L96.72,530.38 L92.03,530.71 L87.24,531.03 L82.37,531.35 L77.39,531.66 L72.31,531.96 L67.13,532.26 L61.85,532.56 L56.47,532.84 L50.97,533.13 L45.37,533.40 L42.60,533.53" fill="none" stroke="#231f20" stroke-width="1.9" stroke-dasharray="6 3.5"/>
<path d="M343.22,219.20 L343.47,225.63 L343.71,231.94 L343.96,238.12 L344.22,244.18 L344.48,250.12 L344.74,255.95 L345.01,261.66 L345.29,267.26 L345.57,272.74 L345.86,278.13 L346.15,283.40 L346.45,288.57 L346.76,293.65 L347.07,298.62 L347.38,303.49 L347.71,308.27 L348.04,312.95 L348.37,317.55 L348.72,322.05 L349.07,326.47 L349.43,330.79 L349.79,335.04 L350.16,339.20 L350.54,343.28 L350.93,347.27 L351.32,351.19 L351.73,355.04 L352.14,358.81 L352.55,362.50 L352.98,366.12 L353.42,369.67 L353.86,373.15 L354.31,376.56 L354.78,379.91 L355.25,383.19 L355.73,386.41 L356.22,389.56 L356.72,392.65 L357.23,395.68 L357.75,398.65 L358.28,401.56 L358.82,404.42 L359.38,407.22 L359.94,409.96 L360.52,412.66 L361.10,415.29 L361.70,417.88 L362.31,420.42 L362.93,422.90 L363.57,425.34 L364.21,427.73 L364.87,430.07 L365.55,432.37 L366.23,434.62 L366.94,436.83 L367.65,438.99 L368.38,441.11 L369.12,443.19 L369.88,445.23 L370.65,447.23 L371.44,449.19 L372.25,451.11 L373.07,453.00 L373.91,454.84 L374.76,456.66 L375.63,458.43 L376.52,460.17 L377.43,461.88 L378.35,463.55 L379.29,465.19 L380.26,466.80 L381.24,468.38 L382.24,469.92 L383.26,471.44 L384.30,472.92 L385.36,474.38 L386.45,475.81 L387.55,477.21 L388.68,478.58 L389.83,479.92 L391.00,481.24 L392.20,482.54 L393.42,483.80 L394.66,485.05 L395.93,486.27 L397.22,487.46 L398.54,488.63 L399.89,489.78 L401.26,490.91 L402.67,492.01 L404.10,493.09 L405.55,494.15 L407.04,495.19 L408.56,496.21 L410.10,497.21 L411.68,498.19 L413.29,499.15 L414.93,500.10 L416.61,501.02 L418.32,501.93 L420.06,502.81 L421.84,503.68 L423.65,504.54 L425.50,505.37 L427.38,506.19 L429.31,507.00 L431.27,507.79 L433.27,508.56 L435.31,509.32 L437.39,510.06 L439.52,510.79 L441.69,511.50 L443.89,512.20 L446.15,512.89 L448.45,513.56 L450.79,514.22 L453.18,514.87 L455.62,515.50 L458.11,516.12 L460.65,516.73 L463.24,517.33 L465.88,517.91 L468.57,518.49 L471.32,519.05 L474.12,519.60 L476.98,520.14 L479.90,520.68 L482.87,521.20 L485.91,521.71 L489.00,522.21 L492.16,522.70 L495.38,523.18 L498.66,523.65 L502.01,524.11 L505.42,524.56 L508.91,525.01 L512.46,525.44 L516.09,525.87 L519.79,526.29 L523.56,526.70 L527.40,527.10 L531.33,527.49 L535.33,527.88 L539.41,528.26 L543.58,528.63 L547.83,528.99 L552.16,529.35 L556.58,529.70 L561.09,530.04 L565.68,530.38 L570.37,530.71 L575.16,531.03 L580.03,531.35 L585.01,531.66 L590.09,531.96 L595.27,532.26 L600.55,532.56 L605.93,532.84 L611.43,533.13 L617.03,533.40 L619.80,533.53" fill="none" stroke="#231f20" stroke-width="1.9" stroke-dasharray="6 3.5"/>
<circle cx="165.8" cy="223.4" r="2.9" fill="#e66e6e" stroke="#231f20" stroke-width="1.3"/>
<circle cx="211.4" cy="224" r="2.9" fill="#e66e6e" stroke="#231f20" stroke-width="1.3"/>
<circle cx="266.6" cy="230.5" r="2.9" fill="#e66e6e" stroke="#231f20" stroke-width="1.3"/>
<circle cx="275.7" cy="232.2" r="2.9" fill="#e66e6e" stroke="#231f20" stroke-width="1.3"/>
<circle cx="250" cy="316.1" r="2.9" fill="#e66e6e" stroke="#231f20" stroke-width="1.3"/>
<text x="114.80" y="216.00" font-size="12.6" font-style="italic" textLength="40.5" lengthAdjust="spacingAndGlyphs">RBM42</text>
<text x="180.80" y="218.30" font-size="12.6" font-style="italic" textLength="36.8" lengthAdjust="spacingAndGlyphs">EIF4A1</text>
<text x="265.50" y="224.00" font-size="12.6" font-style="italic" textLength="43.4" lengthAdjust="spacingAndGlyphs">UBAP2L</text>
<text x="210.30" y="249.00" font-size="12.6" font-style="italic" textLength="44.7" lengthAdjust="spacingAndGlyphs">YTHDF2</text>
<text x="192.00" y="319.00" font-size="12.6" font-style="italic" textLength="44.9" lengthAdjust="spacingAndGlyphs">METTL3</text>
<line x1="42.60" y1="218.70" x2="42.60" y2="547.70" stroke="#58595b" stroke-width="1"/>
<line x1="42.10" y1="547.20" x2="620.30" y2="547.20" stroke="#58595b" stroke-width="1"/>
<line x1="37.10" y1="547.20" x2="42.60" y2="547.20" stroke="#58595b" stroke-width="1"/>
<text x="30.50" y="551.70" font-size="13" text-anchor="end">0</text>
<line x1="37.10" y1="465.20" x2="42.60" y2="465.20" stroke="#58595b" stroke-width="1"/>
<text x="30.50" y="469.70" font-size="13" text-anchor="end">1</text>
<line x1="37.10" y1="383.20" x2="42.60" y2="383.20" stroke="#58595b" stroke-width="1"/>
<text x="30.50" y="387.70" font-size="13" text-anchor="end">2</text>
<line x1="37.10" y1="301.20" x2="42.60" y2="301.20" stroke="#58595b" stroke-width="1"/>
<text x="30.50" y="305.70" font-size="13" text-anchor="end">3</text>
<line x1="37.10" y1="219.20" x2="42.60" y2="219.20" stroke="#58595b" stroke-width="1"/>
<text x="30.50" y="223.70" font-size="13" text-anchor="end">4</text>
<line x1="42.60" y1="547.20" x2="42.60" y2="552.70" stroke="#58595b" stroke-width="1"/>
<text x="43.10" y="571.40" font-size="13" text-anchor="middle">−6</text>
<line x1="138.80" y1="547.20" x2="138.80" y2="552.70" stroke="#58595b" stroke-width="1"/>
<text x="139.30" y="571.40" font-size="13" text-anchor="middle">−4</text>
<line x1="235.00" y1="547.20" x2="235.00" y2="552.70" stroke="#58595b" stroke-width="1"/>
<text x="235.50" y="571.40" font-size="13" text-anchor="middle">−2</text>
<line x1="331.20" y1="547.20" x2="331.20" y2="552.70" stroke="#58595b" stroke-width="1"/>
<text x="331.20" y="571.40" font-size="13" text-anchor="middle">0</text>
<line x1="427.40" y1="547.20" x2="427.40" y2="552.70" stroke="#58595b" stroke-width="1"/>
<text x="427.40" y="571.40" font-size="13" text-anchor="middle">2</text>
<line x1="523.60" y1="547.20" x2="523.60" y2="552.70" stroke="#58595b" stroke-width="1"/>
<text x="523.60" y="571.40" font-size="13" text-anchor="middle">4</text>
<line x1="619.80" y1="547.20" x2="619.80" y2="552.70" stroke="#58595b" stroke-width="1"/>
<text x="619.80" y="571.40" font-size="13" text-anchor="middle">6</text>
<text x="331.50" y="591.80" font-size="14.6" text-anchor="middle" textLength="170.7" lengthAdjust="spacingAndGlyphs">Average phenotype score</text>
<text transform="translate(14 383.5) rotate(-90)" font-size="14.5" text-anchor="middle">−log<tspan font-size="10" dy="3">10</tspan><tspan dy="-3">(</tspan><tspan font-style="italic">P</tspan>)</text>
<text x="75.00" y="406.20" font-size="15.4" fill="#e03c4a" textLength="71.8" lengthAdjust="spacingAndGlyphs">622 genes</text>
<text x="496.40" y="405.70" font-size="15.4" fill="#22aee0" textLength="74.4" lengthAdjust="spacingAndGlyphs">309 genes</text>
<text x="59.50" y="456.50" font-size="15.3" fill="#e8767a" textLength="99.2" lengthAdjust="spacingAndGlyphs">↓GFP/mCherry</text>
<text x="59.5" y="472.6" font-size="15.3" fill="#e8767a" textLength="178.5" lengthAdjust="spacingAndGlyphs">(promote <tspan font-style="italic">MYC</tspan> translation)</text>
<line x1="64.60" y1="474.60" x2="122.40" y2="474.60" stroke="#e8767a" stroke-width="1"/>
<text x="470.50" y="457.00" font-size="15.3" fill="#5bc0e8" textLength="98.0" lengthAdjust="spacingAndGlyphs">↑GFP/mCherry</text>
<text x="470.5" y="472.8" font-size="15.3" fill="#5bc0e8" textLength="169" lengthAdjust="spacingAndGlyphs">(repress <tspan font-style="italic">MYC</tspan> translation)</text>
<line x1="473.30" y1="477.30" x2="488.30" y2="477.30" stroke="#5bc0e8" stroke-width="1"/>
<line x1="493.30" y1="477.30" x2="521.70" y2="477.30" stroke="#5bc0e8" stroke-width="1"/>
<text x="810.80" y="285.80" font-size="21.5" font-weight="bold" fill="#1a1a1a">c</text>
<line x1="921.53" y1="293.60" x2="921.53" y2="548.00" stroke="#c8c8c8" stroke-width="1"/>
<line x1="947.37" y1="293.60" x2="947.37" y2="548.00" stroke="#c8c8c8" stroke-width="1"/>
<line x1="973.20" y1="293.60" x2="973.20" y2="548.00" stroke="#c8c8c8" stroke-width="1"/>
<line x1="999.03" y1="293.60" x2="999.03" y2="548.00" stroke="#c8c8c8" stroke-width="1"/>
<line x1="1024.87" y1="293.60" x2="1024.87" y2="548.00" stroke="#c8c8c8" stroke-width="1"/>
<line x1="1050.70" y1="293.60" x2="1050.70" y2="548.00" stroke="#c8c8c8" stroke-width="1"/>
<line x1="895.70" y1="314.60" x2="1055.30" y2="314.60" stroke="#c8c8c8" stroke-width="1"/>
<line x1="895.70" y1="351.00" x2="1055.30" y2="351.00" stroke="#c8c8c8" stroke-width="1"/>
<line x1="895.70" y1="387.00" x2="1055.30" y2="387.00" stroke="#c8c8c8" stroke-width="1"/>
<line x1="895.70" y1="422.90" x2="1055.30" y2="422.90" stroke="#c8c8c8" stroke-width="1"/>
<line x1="895.70" y1="458.80" x2="1055.30" y2="458.80" stroke="#c8c8c8" stroke-width="1"/>
<line x1="895.70" y1="494.70" x2="1055.30" y2="494.70" stroke="#c8c8c8" stroke-width="1"/>
<line x1="895.70" y1="530.60" x2="1055.30" y2="530.60" stroke="#c8c8c8" stroke-width="1"/>
<line x1="895.70" y1="293.60" x2="895.70" y2="549.30" stroke="#58595b" stroke-width="1.1"/>
<line x1="895.20" y1="548.80" x2="1057.00" y2="548.80" stroke="#58595b" stroke-width="1.1"/>
<line x1="887.70" y1="314.60" x2="895.70" y2="314.60" stroke="#58595b" stroke-width="1"/>
<line x1="887.70" y1="351.00" x2="895.70" y2="351.00" stroke="#58595b" stroke-width="1"/>
<line x1="887.70" y1="387.00" x2="895.70" y2="387.00" stroke="#58595b" stroke-width="1"/>
<line x1="887.70" y1="422.90" x2="895.70" y2="422.90" stroke="#58595b" stroke-width="1"/>
<line x1="887.70" y1="458.80" x2="895.70" y2="458.80" stroke="#58595b" stroke-width="1"/>
<line x1="887.70" y1="494.70" x2="895.70" y2="494.70" stroke="#58595b" stroke-width="1"/>
<line x1="887.70" y1="530.60" x2="895.70" y2="530.60" stroke="#58595b" stroke-width="1"/>
<line x1="895.70" y1="548.80" x2="895.70" y2="556.50" stroke="#58595b" stroke-width="1"/>
<line x1="921.53" y1="548.80" x2="921.53" y2="556.50" stroke="#58595b" stroke-width="1"/>
<line x1="947.37" y1="548.80" x2="947.37" y2="556.50" stroke="#58595b" stroke-width="1"/>
<line x1="973.20" y1="548.80" x2="973.20" y2="556.50" stroke="#58595b" stroke-width="1"/>
<line x1="999.03" y1="548.80" x2="999.03" y2="556.50" stroke="#58595b" stroke-width="1"/>
<line x1="1024.87" y1="548.80" x2="1024.87" y2="556.50" stroke="#58595b" stroke-width="1"/>
<line x1="1050.70" y1="548.80" x2="1050.70" y2="556.50" stroke="#58595b" stroke-width="1"/>
<text x="881.50" y="319.20" font-size="12.9" text-anchor="end" textLength="75.0" lengthAdjust="spacingAndGlyphs">RNA binding</text>
<text x="881.50" y="355.60" font-size="12.9" text-anchor="end" textLength="224.0" lengthAdjust="spacingAndGlyphs">Single-stranded DNA helicase activity</text>
<text x="881.50" y="391.60" font-size="12.9" text-anchor="end" textLength="86.5" lengthAdjust="spacingAndGlyphs">mRNA binding</text>
<text x="881.50" y="427.50" font-size="12.9" text-anchor="end" textLength="75.5" lengthAdjust="spacingAndGlyphs">DNA binding</text>
<text x="881.50" y="463.40" font-size="12.9" text-anchor="end" textLength="174.5" lengthAdjust="spacingAndGlyphs">Single-stranded DNA binding</text>
<text x="881.50" y="535.20" font-size="12.9" text-anchor="end" textLength="150.5" lengthAdjust="spacingAndGlyphs">RNA exonuclease activity</text>
<text x="881.50" y="491.50" font-size="12.9" text-anchor="end" textLength="80.0" lengthAdjust="spacingAndGlyphs">DNA-directed</text>
<text x="881.50" y="506.50" font-size="12.9" text-anchor="end" textLength="175.0" lengthAdjust="spacingAndGlyphs">5′–3′ RNA polymerase activity</text>
<circle cx="921.0" cy="314.6" r="16.3" fill="#ea3939" stroke="#231f20" stroke-width="1"/>
<circle cx="1042.2" cy="351.0" r="8.0" fill="#6c4e9f" stroke="#231f20" stroke-width="1"/>
<circle cx="920.4" cy="387.0" r="7.8" fill="#6a50a2" stroke="#231f20" stroke-width="1"/>
<circle cx="910.7" cy="422.9" r="10.2" fill="#6a50a2" stroke="#231f20" stroke-width="1"/>
<circle cx="939.0" cy="458.8" r="6.0" fill="#6d4e9f" stroke="#231f20" stroke-width="1"/>
<circle cx="962.0" cy="494.7" r="4.3" fill="#3d5aa8" stroke="#231f20" stroke-width="1"/>
<circle cx="1033.4" cy="530.6" r="6.6" fill="#3c5ba9" stroke="#231f20" stroke-width="1"/>
<text x="903.2" y="568.5" font-size="13" text-anchor="end" transform="rotate(-45 903.2 568.5)">0</text>
<text x="929.0" y="568.5" font-size="13" text-anchor="end" transform="rotate(-45 929.0 568.5)">0.08</text>
<text x="954.9" y="568.5" font-size="13" text-anchor="end" transform="rotate(-45 954.9 568.5)">0.16</text>
<text x="980.7" y="568.5" font-size="13" text-anchor="end" transform="rotate(-45 980.7 568.5)">0.24</text>
<text x="1006.5" y="568.5" font-size="13" text-anchor="end" transform="rotate(-45 1006.5 568.5)">0.32</text>
<text x="1032.4" y="568.5" font-size="13" text-anchor="end" transform="rotate(-45 1032.4 568.5)">0.40</text>
<text x="1058.2" y="568.5" font-size="13" text-anchor="end" transform="rotate(-45 1058.2 568.5)">0.48</text>
<text x="976.00" y="605.80" font-size="14.5" text-anchor="middle" textLength="70.5" lengthAdjust="spacingAndGlyphs">Gene ratio</text>
<text x="1066.00" y="301.20" font-size="14" textLength="122.0" lengthAdjust="spacingAndGlyphs">Number of genes</text>
<circle cx="1096.6" cy="311.3" r="4.5" fill="#1f1a1c"/>
<text x="1120.60" y="315.60" font-size="12.5">7</text>
<circle cx="1096.6" cy="333.7" r="8.7" fill="#1f1a1c"/>
<text x="1120.60" y="338.00" font-size="12.5">28</text>
<circle cx="1096.6" cy="366.8" r="17.3" fill="#1f1a1c"/>
<text x="1120.60" y="371.10" font-size="12.5">111</text>
<text x="1067" y="407.8" font-size="14" textLength="124" lengthAdjust="spacingAndGlyphs">−log<tspan font-size="10" dy="3">10</tspan><tspan dy="-3">(adjusted </tspan><tspan font-style="italic">P</tspan>)</text>
<rect x="1080.5" y="425.2" width="28" height="128.2" fill="url(#cbar)" stroke="#231f20" stroke-width="1.3"/>
<line x1="1080.50" y1="437.00" x2="1085.80" y2="437.00" stroke="#231f20" stroke-width="1.1"/>
<line x1="1103.20" y1="437.00" x2="1108.50" y2="437.00" stroke="#231f20" stroke-width="1.1"/>
<text x="1116.00" y="441.30" font-size="12.5">44</text>
<line x1="1080.50" y1="466.00" x2="1085.80" y2="466.00" stroke="#231f20" stroke-width="1.1"/>
<line x1="1103.20" y1="466.00" x2="1108.50" y2="466.00" stroke="#231f20" stroke-width="1.1"/>
<text x="1116.00" y="470.30" font-size="12.5">34</text>
<line x1="1080.50" y1="495.20" x2="1085.80" y2="495.20" stroke="#231f20" stroke-width="1.1"/>
<line x1="1103.20" y1="495.20" x2="1108.50" y2="495.20" stroke="#231f20" stroke-width="1.1"/>
<text x="1116.00" y="499.50" font-size="12.5">24</text>
<line x1="1080.50" y1="524.40" x2="1085.80" y2="524.40" stroke="#231f20" stroke-width="1.1"/>
<line x1="1103.20" y1="524.40" x2="1108.50" y2="524.40" stroke="#231f20" stroke-width="1.1"/>
<text x="1116.00" y="528.70" font-size="12.5">14</text>
<text x="1116.00" y="557.30" font-size="12.5">4</text>
<defs><filter id="b6" x="-30%" y="-100%" width="160%" height="300%"><feGaussianBlur stdDeviation="0.6"/></filter><filter id="b8" x="-30%" y="-100%" width="160%" height="300%"><feGaussianBlur stdDeviation="0.8"/></filter><filter id="b10" x="-30%" y="-100%" width="160%" height="300%"><feGaussianBlur stdDeviation="1.0"/></filter><filter id="b12" x="-30%" y="-100%" width="160%" height="300%"><feGaussianBlur stdDeviation="1.2"/></filter><filter id="b15" x="-30%" y="-100%" width="160%" height="300%"><feGaussianBlur stdDeviation="1.5"/></filter><filter id="b20" x="-30%" y="-100%" width="160%" height="300%"><feGaussianBlur stdDeviation="2.0"/></filter><filter id="b25" x="-30%" y="-100%" width="160%" height="300%"><feGaussianBlur stdDeviation="2.5"/></filter><filter id="b30" x="-30%" y="-100%" width="160%" height="300%"><feGaussianBlur stdDeviation="3.0"/></filter><filter id="b40" x="-30%" y="-100%" width="160%" height="300%"><feGaussianBlur stdDeviation="4.0"/></filter></defs>
<text x="0.00" y="674.90" font-size="21.5" font-weight="bold" fill="#1a1a1a">d</text>
<clipPath id="c11"><rect x="94.30" y="690.30" width="114.20" height="29.90"/></clipPath>
<g clip-path="url(#c11)">
<rect x="94.30" y="690.30" width="114.20" height="29.90" fill="#dcdddf"/>
<rect x="97.0" y="692.0" width="46.0" height="27.0" rx="3" fill="#a9a9a9" opacity="0.9" filter="url(#b30)"/>
<path d="M99.2,704.5 L140.8,704.5 A2.2,2.2 0 0 1 140.8,709.0 L99.2,709.0 A2.2,2.2 0 0 1 99.2,704.5 Z" fill="#303030" opacity="1.0" filter="url(#b12)"/>
<rect x="156.0" y="693.0" width="48.0" height="26.0" rx="3" fill="#b2b2b2" opacity="0.9" filter="url(#b30)"/>
<path d="M159.5,706.5 L200.5,706.5 A2.5,2.5 0 0 1 200.5,711.5 L159.5,711.5 A2.5,2.5 0 0 1 159.5,706.5 Z" fill="#5e5e5e" opacity="1.0" filter="url(#b15)"/>
</g>
<rect x="94.30" y="690.30" width="114.20" height="29.90" fill="none" stroke="#2b2b2b" stroke-width="1.3"/>
<clipPath id="c12"><rect x="94.30" y="724.40" width="114.20" height="29.40"/></clipPath>
<g clip-path="url(#c12)">
<rect x="94.30" y="724.40" width="114.20" height="29.40" fill="#dcdddf"/>
<rect x="98.0" y="727.0" width="44.0" height="25.0" rx="3" fill="#a0a0a0" opacity="0.8" filter="url(#b30)"/>
<path d="M101.4,734.8 L137.6,734.8 A2.4,2.4 0 0 1 137.6,739.6 L101.4,739.6 A2.4,2.4 0 0 1 101.4,734.8 Z" fill="#252525" opacity="1.0" filter="url(#b10)"/>
<path d="M101.2,743.1 L137.8,743.1 A2.2,2.2 0 0 1 137.8,747.5 L101.2,747.5 A2.2,2.2 0 0 1 101.2,743.1 Z" fill="#2a2a2a" opacity="1.0" filter="url(#b10)"/>
<path d="M161.8,735.8 L199.2,735.8 A1.8,1.8 0 0 1 199.2,739.2 L161.8,739.2 A1.8,1.8 0 0 1 161.8,735.8 Z" fill="#c4c4c4" opacity="1.0" filter="url(#b15)"/>
<path d="M161.8,743.8 L199.2,743.8 A1.8,1.8 0 0 1 199.2,747.2 L161.8,747.2 A1.8,1.8 0 0 1 161.8,743.8 Z" fill="#c8c8c8" opacity="1.0" filter="url(#b15)"/>
</g>
<rect x="94.30" y="724.40" width="114.20" height="29.40" fill="none" stroke="#2b2b2b" stroke-width="1.3"/>
<clipPath id="c13"><rect x="94.30" y="756.90" width="114.20" height="29.70"/></clipPath>
<g clip-path="url(#c13)">
<rect x="94.30" y="756.90" width="114.20" height="29.70" fill="#dcdddf"/>
<path d="M100.1,769.2 L138.9,769.9 A2.6,2.6 0 0 1 138.9,775.1 L100.1,774.4 A2.6,2.6 0 0 1 100.1,769.2 Z" fill="#585858" opacity="1.0" filter="url(#b10)"/>
<path d="M156.4,770.9 L197.1,770.6 A2.9,2.9 0 0 1 197.1,776.4 L156.4,776.7 A2.9,2.9 0 0 1 156.4,770.9 Z" fill="#555555" opacity="1.0" filter="url(#b10)"/>
</g>
<rect x="94.30" y="756.90" width="114.20" height="29.70" fill="none" stroke="#2b2b2b" stroke-width="1.3"/>
<text x="87.30" y="710.40" font-size="14.8" text-anchor="end" textLength="28.1" lengthAdjust="spacingAndGlyphs">Myc</text>
<text x="87.30" y="747.00" font-size="14.8" text-anchor="end" textLength="53.5" lengthAdjust="spacingAndGlyphs">UBAP2L</text>
<text x="87.30" y="778.40" font-size="14.8" text-anchor="end" textLength="48.5" lengthAdjust="spacingAndGlyphs">β-Actin</text>
<text x="123.5" y="683.5" font-size="14.6" transform="rotate(-44 123.5 683.5)">shCNTL</text>
<text x="185.0" y="684.5" font-size="14.6" transform="rotate(-44 185.0 684.5)">shUBAP2L</text>
<text x="207.70" y="686.50" font-size="14.2" textLength="67.5" lengthAdjust="spacingAndGlyphs">Size (kDa)</text>
<line x1="208.50" y1="720.00" x2="215.00" y2="720.00" stroke="#231f20" stroke-width="1.1"/>
<text x="221.2" y="722.5" font-size="12.5">50</text>
<line x1="208.50" y1="740.80" x2="215.00" y2="740.80" stroke="#231f20" stroke-width="1.1"/>
<text x="221.2" y="745.3" font-size="12.5">150</text>
<line x1="208.50" y1="785.50" x2="215.00" y2="785.50" stroke="#231f20" stroke-width="1.1"/>
<text x="221.2" y="788.9" font-size="12.5">37</text>
<clipPath id="c21"><rect x="357.70" y="666.30" width="113.10" height="29.00"/></clipPath>
<g clip-path="url(#c21)">
<rect x="357.70" y="666.30" width="113.10" height="29.00" fill="#dcdddf"/>
<rect x="358.0" y="667.0" width="50.0" height="28.0" rx="3" fill="#999999" opacity="0.95" filter="url(#b30)"/>
<path d="M362.5,681.7 L404.5,681.7 A2.5,2.5 0 0 1 404.5,686.7 L362.5,686.7 A2.5,2.5 0 0 1 362.5,681.7 Z" fill="#474747" opacity="1.0" filter="url(#b15)"/>
<rect x="420.0" y="667.0" width="50.0" height="28.0" rx="3" fill="#acacac" opacity="0.95" filter="url(#b30)"/>
<path d="M423.0,681.0 L466.0,681.0 A2.0,2.0 0 0 1 466.0,685.0 L423.0,685.0 A2.0,2.0 0 0 1 423.0,681.0 Z" fill="#9a9a9a" opacity="1.0" filter="url(#b15)"/>
<path d="M423.0,690.5 L466.0,690.5 A2.0,2.0 0 0 1 466.0,694.5 L423.0,694.5 A2.0,2.0 0 0 1 423.0,690.5 Z" fill="#6a6a6a" opacity="1.0" filter="url(#b15)"/>
</g>
<rect x="357.70" y="666.30" width="113.10" height="29.00" fill="none" stroke="#2b2b2b" stroke-width="1.3"/>
<clipPath id="c22"><rect x="357.70" y="698.40" width="113.10" height="29.40"/></clipPath>
<g clip-path="url(#c22)">
<rect x="357.70" y="698.40" width="113.10" height="29.40" fill="#dcdddf"/>
<path d="M363.9,706.4 L405.1,711.4 A3.4,3.4 0 0 1 405.1,718.2 L363.9,713.2 A3.4,3.4 0 0 1 363.9,706.4 Z" fill="#141414" opacity="1.0" filter="url(#b8)"/>
<path d="M420.9,713.3 L464.1,713.9 A2.9,2.9 0 0 1 464.1,719.7 L420.9,719.1 A2.9,2.9 0 0 1 420.9,713.3 Z" fill="#161616" opacity="1.0" filter="url(#b8)"/>
</g>
<rect x="357.70" y="698.40" width="113.10" height="29.40" fill="none" stroke="#2b2b2b" stroke-width="1.3"/>
<clipPath id="c23"><rect x="357.70" y="732.40" width="113.10" height="29.40"/></clipPath>
<g clip-path="url(#c23)">
<rect x="357.70" y="732.40" width="113.10" height="29.40" fill="#dcdddf"/>
<rect x="363.0" y="735.0" width="47.0" height="27.0" rx="3" fill="#b4b4b4" opacity="0.8" filter="url(#b30)"/>
<path d="M366.0,741.8 L407.0,741.8 A2.0,2.0 0 0 1 407.0,745.8 L366.0,745.8 A2.0,2.0 0 0 1 366.0,741.8 Z" fill="#262626" opacity="1.0" filter="url(#b10)"/>
<path d="M366.0,746.4 L407.0,746.4 A2.0,2.0 0 0 1 407.0,750.4 L366.0,750.4 A2.0,2.0 0 0 1 366.0,746.4 Z" fill="#222222" opacity="1.0" filter="url(#b10)"/>
<rect x="422.0" y="735.0" width="46.0" height="27.0" rx="3" fill="#c2c2c2" opacity="0.8" filter="url(#b30)"/>
<path d="M425.8,744.2 L465.2,744.2 A1.8,1.8 0 0 1 465.2,747.8 L425.8,747.8 A1.8,1.8 0 0 1 425.8,744.2 Z" fill="#6e6e6e" opacity="1.0" filter="url(#b12)"/>
</g>
<rect x="357.70" y="732.40" width="113.10" height="29.40" fill="none" stroke="#2b2b2b" stroke-width="1.3"/>
<clipPath id="c24"><rect x="357.70" y="764.20" width="113.10" height="29.90"/></clipPath>
<g clip-path="url(#c24)">
<rect x="357.70" y="764.20" width="113.10" height="29.90" fill="#dcdddf"/>
<path d="M364.7,777.0 L409.5,777.0 A2.3,2.3 0 0 1 409.5,781.6 L364.7,781.6 A2.3,2.3 0 0 1 364.7,777.0 Z" fill="#6a6a6a" opacity="1.0" filter="url(#b10)"/>
<path d="M422.7,778.8 L463.7,778.8 A2.3,2.3 0 0 1 463.7,783.4 L422.7,783.4 A2.3,2.3 0 0 1 422.7,778.8 Z" fill="#686868" opacity="1.0" filter="url(#b10)"/>
</g>
<rect x="357.70" y="764.20" width="113.10" height="29.90" fill="none" stroke="#2b2b2b" stroke-width="1.3"/>
<text x="350.70" y="683.50" font-size="14.8" text-anchor="end" textLength="28.1" lengthAdjust="spacingAndGlyphs">Myc</text>
<text x="350.70" y="717.60" font-size="14.8" text-anchor="end" textLength="48.5" lengthAdjust="spacingAndGlyphs">β-Actin</text>
<text x="350.70" y="754.00" font-size="14.8" text-anchor="end" textLength="55.0" lengthAdjust="spacingAndGlyphs">METTL3</text>
<text x="350.70" y="784.00" font-size="14.8" text-anchor="end" textLength="48.5" lengthAdjust="spacingAndGlyphs">β-Actin</text>
<text x="380.0" y="660.0" font-size="14.6" transform="rotate(-44 380.0 660.0)">shCNTL</text>
<text x="437.5" y="665.0" font-size="14.6" transform="rotate(-44 437.5 665.0)">shMETTL3</text>
<text x="474.50" y="667.20" font-size="14.2" textLength="67.5" lengthAdjust="spacingAndGlyphs">Size (kDa)</text>
<line x1="470.80" y1="695.20" x2="477.30" y2="695.20" stroke="#231f20" stroke-width="1.1"/>
<text x="482.8" y="698.5" font-size="12.5">50</text>
<line x1="470.80" y1="727.20" x2="477.30" y2="727.20" stroke="#231f20" stroke-width="1.1"/>
<text x="482.8" y="728.9" font-size="12.5">37</text>
<line x1="470.80" y1="742.00" x2="477.30" y2="742.00" stroke="#231f20" stroke-width="1.1"/>
<text x="482.8" y="746.4" font-size="12.5">75</text>
<line x1="470.80" y1="792.60" x2="477.30" y2="792.60" stroke="#231f20" stroke-width="1.1"/>
<text x="482.8" y="793.9" font-size="12.5">37</text>
<clipPath id="c31"><rect x="619.50" y="675.00" width="122.50" height="25.50"/></clipPath>
<g clip-path="url(#c31)">
<rect x="619.50" y="675.00" width="122.50" height="25.50" fill="#dcdddf"/>
<rect x="625.0" y="676.0" width="47.0" height="24.0" rx="3" fill="#a0a0a0" opacity="0.95" filter="url(#b30)"/>
<path d="M630.2,690.2 L667.8,690.2 A2.2,2.2 0 0 1 667.8,694.8 L630.2,694.8 A2.2,2.2 0 0 1 630.2,690.2 Z" fill="#3d3d3d" opacity="1.0" filter="url(#b15)"/>
<rect x="686.0" y="676.0" width="51.0" height="24.0" rx="3" fill="#b6b6b6" opacity="0.95" filter="url(#b30)"/>
</g>
<rect x="619.50" y="675.00" width="122.50" height="25.50" fill="none" stroke="#2b2b2b" stroke-width="1.3"/>
<clipPath id="c32"><rect x="619.50" y="703.30" width="122.50" height="25.00"/></clipPath>
<g clip-path="url(#c32)">
<rect x="619.50" y="703.30" width="122.50" height="25.00" fill="#dcdddf"/>
<path d="M629.1,713.2 L667.9,713.2 A2.1,2.1 0 0 1 667.9,717.4 L629.1,717.4 A2.1,2.1 0 0 1 629.1,713.2 Z" fill="#383838" opacity="1.0" filter="url(#b10)"/>
<path d="M688.3,712.0 L732.7,715.0 A2.3,2.3 0 0 1 732.7,719.6 L688.3,716.6 A2.3,2.3 0 0 1 688.3,712.0 Z" fill="#2a2a2a" opacity="1.0" filter="url(#b10)"/>
</g>
<rect x="619.50" y="703.30" width="122.50" height="25.00" fill="none" stroke="#2b2b2b" stroke-width="1.3"/>
<clipPath id="c33"><rect x="619.50" y="733.80" width="122.50" height="24.20"/></clipPath>
<g clip-path="url(#c33)">
<rect x="619.50" y="733.80" width="122.50" height="24.20" fill="#dcdddf"/>
<path d="M628.5,745.5 L665.5,745.5 A2.5,2.5 0 0 1 665.5,750.5 L628.5,750.5 A2.5,2.5 0 0 1 628.5,745.5 Z" fill="#4a4a4a" opacity="1.0" filter="url(#b12)"/>
<path d="M690.0,744.0 L733.0,742.8 A2.0,2.0 0 0 1 733.0,746.8 L690.0,748.0 A2.0,2.0 0 0 1 690.0,744.0 Z" fill="#8e8e8e" opacity="1.0" filter="url(#b12)"/>
</g>
<rect x="619.50" y="733.80" width="122.50" height="24.20" fill="none" stroke="#2b2b2b" stroke-width="1.3"/>
<clipPath id="c34"><rect x="619.50" y="761.30" width="122.50" height="24.50"/></clipPath>
<g clip-path="url(#c34)">
<rect x="619.50" y="761.30" width="122.50" height="24.50" fill="#dcdddf"/>
<path d="M628.5,774.3 L671.5,774.3 A2.5,2.5 0 0 1 671.5,779.3 L628.5,779.3 A2.5,2.5 0 0 1 628.5,774.3 Z" fill="#5a5a5a" opacity="1.0" filter="url(#b10)"/>
<path d="M689.8,772.8 L735.2,772.8 A2.8,2.8 0 0 1 735.2,778.2 L689.8,778.2 A2.8,2.8 0 0 1 689.8,772.8 Z" fill="#4c4c4c" opacity="1.0" filter="url(#b10)"/>
</g>
<rect x="619.50" y="761.30" width="122.50" height="24.50" fill="none" stroke="#2b2b2b" stroke-width="1.3"/>
<text x="611.30" y="690.80" font-size="14.8" text-anchor="end" textLength="28.1" lengthAdjust="spacingAndGlyphs">Myc</text>
<text x="611.30" y="723.50" font-size="14.8" text-anchor="end" textLength="48.5" lengthAdjust="spacingAndGlyphs">β-Actin</text>
<text x="611.30" y="751.50" font-size="14.8" text-anchor="end" textLength="53.0" lengthAdjust="spacingAndGlyphs">YTHDF2</text>
<text x="611.30" y="779.50" font-size="14.8" text-anchor="end" textLength="48.5" lengthAdjust="spacingAndGlyphs">β-Actin</text>
<text x="651.5" y="670.0" font-size="14.6" transform="rotate(-44 651.5 670.0)">shCNTL</text>
<text x="713.5" y="672.0" font-size="14.6" transform="rotate(-44 713.5 672.0)">shYTHDF2</text>
<text x="744.50" y="671.50" font-size="14.2" textLength="67.5" lengthAdjust="spacingAndGlyphs">Size (kDa)</text>
<line x1="742.00" y1="699.80" x2="748.50" y2="699.80" stroke="#231f20" stroke-width="1.1"/>
<text x="756.5" y="701.0" font-size="12.5">50</text>
<line x1="742.00" y1="727.80" x2="748.50" y2="727.80" stroke="#231f20" stroke-width="1.1"/>
<text x="756.5" y="727.5" font-size="12.5">37</text>
<line x1="742.00" y1="733.30" x2="748.50" y2="733.30" stroke="#231f20" stroke-width="1.1"/>
<text x="756.5" y="739.1" font-size="12.5">75</text>
<line x1="742.00" y1="785.00" x2="748.50" y2="785.00" stroke="#231f20" stroke-width="1.1"/>
<text x="756.5" y="787.5" font-size="12.5">37</text>
<text x="872.00" y="696.20" font-size="21.5" font-weight="bold" fill="#1a1a1a">e</text>
<line x1="933.90" y1="701.20" x2="933.90" y2="961.00" stroke="#58595b" stroke-width="1.1"/>
<line x1="924.50" y1="961.00" x2="1176.00" y2="961.00" stroke="#58595b" stroke-width="1.1"/>
<line x1="924.30" y1="701.20" x2="933.90" y2="701.20" stroke="#58595b" stroke-width="1"/>
<text x="918.20" y="705.80" font-size="13" text-anchor="end">1.2</text>
<line x1="924.30" y1="744.50" x2="933.90" y2="744.50" stroke="#58595b" stroke-width="1"/>
<text x="918.20" y="749.10" font-size="13" text-anchor="end">1.0</text>
<line x1="924.30" y1="787.80" x2="933.90" y2="787.80" stroke="#58595b" stroke-width="1"/>
<text x="918.20" y="792.40" font-size="13" text-anchor="end">0.8</text>
<line x1="924.30" y1="831.10" x2="933.90" y2="831.10" stroke="#58595b" stroke-width="1"/>
<text x="918.20" y="835.70" font-size="13" text-anchor="end">0.6</text>
<line x1="924.30" y1="874.40" x2="933.90" y2="874.40" stroke="#58595b" stroke-width="1"/>
<text x="918.20" y="879.00" font-size="13" text-anchor="end">0.4</text>
<line x1="924.30" y1="917.70" x2="933.90" y2="917.70" stroke="#58595b" stroke-width="1"/>
<text x="918.20" y="922.30" font-size="13" text-anchor="end">0.2</text>
<line x1="924.30" y1="961.00" x2="933.90" y2="961.00" stroke="#58595b" stroke-width="1"/>
<text x="918.20" y="965.60" font-size="13" text-anchor="end">0</text>
<text transform="translate(884.6 831.5) rotate(-90)" font-size="14" text-anchor="middle" textLength="183" lengthAdjust="spacingAndGlyphs">Relative protein expression</text>
<line x1="966.30" y1="961.00" x2="966.30" y2="969.00" stroke="#58595b" stroke-width="1"/>
<line x1="1025.80" y1="961.00" x2="1025.80" y2="969.00" stroke="#58595b" stroke-width="1"/>
<line x1="1085.30" y1="961.00" x2="1085.30" y2="969.00" stroke="#58595b" stroke-width="1"/>
<line x1="1144.80" y1="961.00" x2="1144.80" y2="969.00" stroke="#58595b" stroke-width="1"/>
<text x="976" y="982" font-size="14.8" text-anchor="end" transform="rotate(-43 976 982)">shCNTL</text>
<text x="1035.5" y="980.5" font-size="14.8" text-anchor="end" transform="rotate(-43 1035.5 980.5)">shUBAP2L</text>
<text x="1091.5" y="981.5" font-size="14.8" text-anchor="end" transform="rotate(-43 1091.5 981.5)">shMETTL3</text>
<text x="1151.5" y="982.5" font-size="14.8" text-anchor="end" transform="rotate(-43 1151.5 982.5)">shYTHDF2</text>
<rect x="944.2" y="744.5" width="19.2" height="216.5" fill="#2b5ba8" stroke="#231f20" stroke-width="1.2"/>
<rect x="969.4" y="744.5" width="18.7" height="216.5" fill="#c6c7c9" stroke="#231f20" stroke-width="1.2"/>
<rect x="1004.4" y="815.5" width="18.5" height="145.5" fill="#2b5ba8" stroke="#231f20" stroke-width="1.2"/>
<rect x="1028.4" y="917.2" width="18.9" height="43.8" fill="#c6c7c9" stroke="#231f20" stroke-width="1.2"/>
<rect x="1063.5" y="823.8" width="18.9" height="137.2" fill="#2b5ba8" stroke="#231f20" stroke-width="1.2"/>
<rect x="1088.6" y="881.4" width="19.2" height="79.6" fill="#c6c7c9" stroke="#231f20" stroke-width="1.2"/>
<rect x="1123.4" y="829.4" width="18.5" height="131.6" fill="#2b5ba8" stroke="#231f20" stroke-width="1.2"/>
<rect x="1148.0" y="812.4" width="18.8" height="148.6" fill="#c6c7c9" stroke="#231f20" stroke-width="1.2"/>
<rect x="943.9000000000001" y="743.6" width="19.8" height="4.2" rx="1.5" fill="#231f20"/>
<rect x="969.1" y="743.6" width="19.3" height="4.2" rx="1.5" fill="#231f20"/>
<line x1="1013.50" y1="806.30" x2="1013.50" y2="823.80" stroke="#231f20" stroke-width="1.3"/>
<line x1="1008.20" y1="806.30" x2="1018.80" y2="806.30" stroke="#231f20" stroke-width="1.3"/>
<line x1="1008.20" y1="823.80" x2="1018.80" y2="823.80" stroke="#231f20" stroke-width="1.3"/>
<line x1="1038.00" y1="909.50" x2="1038.00" y2="923.10" stroke="#231f20" stroke-width="1.3"/>
<line x1="1032.70" y1="909.50" x2="1043.30" y2="909.50" stroke="#231f20" stroke-width="1.3"/>
<line x1="1032.70" y1="923.10" x2="1043.30" y2="923.10" stroke="#231f20" stroke-width="1.3"/>
<line x1="1072.80" y1="807.70" x2="1072.80" y2="839.00" stroke="#231f20" stroke-width="1.3"/>
<line x1="1067.50" y1="807.70" x2="1078.10" y2="807.70" stroke="#231f20" stroke-width="1.3"/>
<line x1="1067.50" y1="839.00" x2="1078.10" y2="839.00" stroke="#231f20" stroke-width="1.3"/>
<line x1="1098.00" y1="872.70" x2="1098.00" y2="889.70" stroke="#231f20" stroke-width="1.3"/>
<line x1="1092.70" y1="872.70" x2="1103.30" y2="872.70" stroke="#231f20" stroke-width="1.3"/>
<line x1="1092.70" y1="889.70" x2="1103.30" y2="889.70" stroke="#231f20" stroke-width="1.3"/>
<line x1="1132.60" y1="804.50" x2="1132.60" y2="852.60" stroke="#231f20" stroke-width="1.3"/>
<line x1="1127.30" y1="804.50" x2="1137.90" y2="804.50" stroke="#231f20" stroke-width="1.3"/>
<line x1="1127.30" y1="852.60" x2="1137.90" y2="852.60" stroke="#231f20" stroke-width="1.3"/>
<line x1="1157.50" y1="801.50" x2="1157.50" y2="821.10" stroke="#231f20" stroke-width="1.3"/>
<line x1="1152.20" y1="801.50" x2="1162.80" y2="801.50" stroke="#231f20" stroke-width="1.3"/>
<line x1="1152.20" y1="821.10" x2="1162.80" y2="821.10" stroke="#231f20" stroke-width="1.3"/>
<g fill="#1f1a1c"><circle cx="1006.1" cy="787.4" r="2.5"/><circle cx="1021" cy="787.4" r="2.5"/><circle cx="1006.1" cy="826.4" r="2.5"/><circle cx="1021" cy="822" r="2.5"/><circle cx="1021" cy="829" r="2.5"/><circle cx="1013.3" cy="837.2" r="2.5"/><circle cx="1038" cy="890.5" r="2.5"/><circle cx="1030.9" cy="908.1" r="2.5"/><circle cx="1045.6" cy="912.3" r="2.5"/><circle cx="1038" cy="920.8" r="2.5"/><circle cx="1030.9" cy="935" r="2.5"/><circle cx="1045.6" cy="931.3" r="2.5"/><circle cx="1072.8" cy="791.9" r="2.5"/><circle cx="1072.8" cy="836.4" r="2.5"/><circle cx="1072.8" cy="841.25" r="2.5"/><circle cx="1098" cy="869.3" r="2.5"/><circle cx="1097.5" cy="876" r="2.5"/><circle cx="1098" cy="897.6" r="2.5"/><circle cx="1132.6" cy="781.4" r="2.5"/><circle cx="1132.6" cy="843.9" r="2.5"/><circle cx="1132.6" cy="860.2" r="2.5"/><circle cx="1145.75" cy="796.1" r="2.5"/><circle cx="1145.75" cy="802.4" r="2.5"/><circle cx="1145.75" cy="828.7" r="2.5"/></g>
<text x="1008.6" y="768.2" font-size="13.6" transform="rotate(-45 1008.6 768.2)"><tspan font-style="italic">P</tspan> &lt; 0.0001</text>
<text x="1041" y="773.9" font-size="13.6" transform="rotate(-45 1041 773.9)"><tspan font-style="italic">P</tspan> &lt; 0.0001</text>
<text x="1072.5" y="774.5" font-size="13.6" transform="rotate(-45 1072.5 774.5)"><tspan font-style="italic">P</tspan> = 0.0001</text>
<text x="1088.3" y="836.9" font-size="13.6" transform="rotate(-45 1088.3 836.9)"><tspan font-style="italic">P</tspan> &lt; 0.0001</text>
<text x="1133.4" y="770.4" font-size="13.6" transform="rotate(-45 1133.4 770.4)"><tspan font-style="italic">P</tspan> &lt; 0.0001</text>
<text x="1152.1" y="782.7" font-size="13.6" transform="rotate(-45 1152.1 782.7)"><tspan font-style="italic">P</tspan> &lt; 0.0001</text>
<rect x="980.6" y="700" width="13.2" height="12.4" fill="#2b5ba8" stroke="#231f20" stroke-width="1.1"/>
<text x="1001.70" y="711.70" font-size="15.6" textLength="27.5" lengthAdjust="spacingAndGlyphs">Myc</text>
<rect x="1054.2" y="700" width="13.2" height="12.4" fill="#c6c7c9" stroke="#231f20" stroke-width="1.1"/>
<text x="1076.80" y="711.70" font-size="15.6" textLength="79.3" lengthAdjust="spacingAndGlyphs">Target gene</text>
<text x="0.00" y="832.30" font-size="21.5" font-weight="bold" fill="#1a1a1a">f</text>
<line x1="69.30" y1="832.30" x2="69.30" y2="1052.30" stroke="#58595b" stroke-width="1.1"/>
<line x1="69.30" y1="1052.30" x2="399.70" y2="1052.30" stroke="#58595b" stroke-width="1.1"/>
<line x1="63.30" y1="1052.30" x2="69.30" y2="1052.30" stroke="#58595b" stroke-width="1"/>
<text x="59.30" y="1056.90" font-size="13" text-anchor="end">0</text>
<line x1="63.30" y1="997.30" x2="69.30" y2="997.30" stroke="#58595b" stroke-width="1"/>
<text x="59.30" y="1001.90" font-size="13" text-anchor="end">5</text>
<line x1="63.30" y1="942.30" x2="69.30" y2="942.30" stroke="#58595b" stroke-width="1"/>
<text x="59.30" y="946.90" font-size="13" text-anchor="end">10</text>
<line x1="63.30" y1="887.30" x2="69.30" y2="887.30" stroke="#58595b" stroke-width="1"/>
<text x="59.30" y="891.90" font-size="13" text-anchor="end">15</text>
<line x1="63.30" y1="832.30" x2="69.30" y2="832.30" stroke="#58595b" stroke-width="1"/>
<text x="59.30" y="836.90" font-size="13" text-anchor="end">20</text>
<line x1="69.30" y1="1052.30" x2="69.30" y2="1058.30" stroke="#58595b" stroke-width="1"/>
<text x="69.30" y="1077.50" font-size="13" text-anchor="middle">3</text>
<line x1="99.34" y1="1052.30" x2="99.34" y2="1058.30" stroke="#58595b" stroke-width="1"/>
<text x="99.34" y="1077.50" font-size="13" text-anchor="middle">4</text>
<line x1="129.37" y1="1052.30" x2="129.37" y2="1058.30" stroke="#58595b" stroke-width="1"/>
<text x="129.37" y="1077.50" font-size="13" text-anchor="middle">5</text>
<line x1="159.41" y1="1052.30" x2="159.41" y2="1058.30" stroke="#58595b" stroke-width="1"/>
<text x="159.41" y="1077.50" font-size="13" text-anchor="middle">6</text>
<line x1="189.45" y1="1052.30" x2="189.45" y2="1058.30" stroke="#58595b" stroke-width="1"/>
<text x="189.45" y="1077.50" font-size="13" text-anchor="middle">7</text>
<line x1="219.48" y1="1052.30" x2="219.48" y2="1058.30" stroke="#58595b" stroke-width="1"/>
<text x="219.48" y="1077.50" font-size="13" text-anchor="middle">8</text>
<line x1="249.52" y1="1052.30" x2="249.52" y2="1058.30" stroke="#58595b" stroke-width="1"/>
<text x="249.52" y="1077.50" font-size="13" text-anchor="middle">9</text>
<line x1="279.55" y1="1052.30" x2="279.55" y2="1058.30" stroke="#58595b" stroke-width="1"/>
<text x="279.55" y="1077.50" font-size="13" text-anchor="middle">10</text>
<line x1="309.59" y1="1052.30" x2="309.59" y2="1058.30" stroke="#58595b" stroke-width="1"/>
<text x="309.59" y="1077.50" font-size="13" text-anchor="middle">11</text>
<line x1="339.63" y1="1052.30" x2="339.63" y2="1058.30" stroke="#58595b" stroke-width="1"/>
<text x="339.63" y="1077.50" font-size="13" text-anchor="middle">12</text>
<line x1="369.66" y1="1052.30" x2="369.66" y2="1058.30" stroke="#58595b" stroke-width="1"/>
<text x="369.66" y="1077.50" font-size="13" text-anchor="middle">13</text>
<line x1="399.70" y1="1052.30" x2="399.70" y2="1058.30" stroke="#58595b" stroke-width="1"/>
<text x="399.70" y="1077.50" font-size="13" text-anchor="middle">14</text>
<text x="234.00" y="1099.50" font-size="15" text-anchor="middle" textLength="55.0" lengthAdjust="spacingAndGlyphs">Fraction</text>
<text transform="translate(29.8 943) rotate(-90)" font-size="15" text-anchor="middle" textLength="124" lengthAdjust="spacingAndGlyphs">Total mRNA A (%)</text>
<line x1="69.30" y1="1027.00" x2="69.30" y2="1030.30" stroke="#c9cacb" stroke-width="1.1"/>
<line x1="65.70" y1="1027.00" x2="72.90" y2="1027.00" stroke="#c9cacb" stroke-width="1.1"/>
<line x1="65.70" y1="1030.30" x2="72.90" y2="1030.30" stroke="#c9cacb" stroke-width="1.1"/>
<line x1="99.34" y1="946.70" x2="99.34" y2="972.00" stroke="#c9cacb" stroke-width="1.1"/>
<line x1="95.74" y1="946.70" x2="102.94" y2="946.70" stroke="#c9cacb" stroke-width="1.1"/>
<line x1="95.74" y1="972.00" x2="102.94" y2="972.00" stroke="#c9cacb" stroke-width="1.1"/>
<line x1="129.37" y1="969.80" x2="129.37" y2="984.10" stroke="#c9cacb" stroke-width="1.1"/>
<line x1="125.77" y1="969.80" x2="132.97" y2="969.80" stroke="#c9cacb" stroke-width="1.1"/>
<line x1="125.77" y1="984.10" x2="132.97" y2="984.10" stroke="#c9cacb" stroke-width="1.1"/>
<line x1="159.41" y1="939.00" x2="159.41" y2="957.70" stroke="#c9cacb" stroke-width="1.1"/>
<line x1="155.81" y1="939.00" x2="163.01" y2="939.00" stroke="#c9cacb" stroke-width="1.1"/>
<line x1="155.81" y1="957.70" x2="163.01" y2="957.70" stroke="#c9cacb" stroke-width="1.1"/>
<line x1="189.45" y1="933.50" x2="189.45" y2="961.00" stroke="#c9cacb" stroke-width="1.1"/>
<line x1="185.85" y1="933.50" x2="193.05" y2="933.50" stroke="#c9cacb" stroke-width="1.1"/>
<line x1="185.85" y1="961.00" x2="193.05" y2="961.00" stroke="#c9cacb" stroke-width="1.1"/>
<line x1="219.48" y1="953.30" x2="219.48" y2="988.50" stroke="#c9cacb" stroke-width="1.1"/>
<line x1="215.88" y1="953.30" x2="223.08" y2="953.30" stroke="#c9cacb" stroke-width="1.1"/>
<line x1="215.88" y1="988.50" x2="223.08" y2="988.50" stroke="#c9cacb" stroke-width="1.1"/>
<line x1="249.52" y1="946.70" x2="249.52" y2="972.00" stroke="#c9cacb" stroke-width="1.1"/>
<line x1="245.92" y1="946.70" x2="253.12" y2="946.70" stroke="#c9cacb" stroke-width="1.1"/>
<line x1="245.92" y1="972.00" x2="253.12" y2="972.00" stroke="#c9cacb" stroke-width="1.1"/>
<line x1="279.55" y1="950.00" x2="279.55" y2="968.70" stroke="#c9cacb" stroke-width="1.1"/>
<line x1="275.95" y1="950.00" x2="283.15" y2="950.00" stroke="#c9cacb" stroke-width="1.1"/>
<line x1="275.95" y1="968.70" x2="283.15" y2="968.70" stroke="#c9cacb" stroke-width="1.1"/>
<line x1="309.59" y1="945.60" x2="309.59" y2="962.10" stroke="#c9cacb" stroke-width="1.1"/>
<line x1="305.99" y1="945.60" x2="313.19" y2="945.60" stroke="#c9cacb" stroke-width="1.1"/>
<line x1="305.99" y1="962.10" x2="313.19" y2="962.10" stroke="#c9cacb" stroke-width="1.1"/>
<line x1="339.63" y1="936.80" x2="339.63" y2="959.90" stroke="#c9cacb" stroke-width="1.1"/>
<line x1="336.03" y1="936.80" x2="343.23" y2="936.80" stroke="#c9cacb" stroke-width="1.1"/>
<line x1="336.03" y1="959.90" x2="343.23" y2="959.90" stroke="#c9cacb" stroke-width="1.1"/>
<line x1="369.66" y1="915.90" x2="369.66" y2="950.00" stroke="#c9cacb" stroke-width="1.1"/>
<line x1="366.06" y1="915.90" x2="373.26" y2="915.90" stroke="#c9cacb" stroke-width="1.1"/>
<line x1="366.06" y1="950.00" x2="373.26" y2="950.00" stroke="#c9cacb" stroke-width="1.1"/>
<line x1="399.70" y1="920.30" x2="399.70" y2="965.40" stroke="#c9cacb" stroke-width="1.1"/>
<line x1="396.10" y1="920.30" x2="403.30" y2="920.30" stroke="#c9cacb" stroke-width="1.1"/>
<line x1="396.10" y1="965.40" x2="403.30" y2="965.40" stroke="#c9cacb" stroke-width="1.1"/>
<path d="M69.30,1029.20 L99.34,958.80 L129.37,976.40 L159.41,948.35 L189.45,947.25 L219.48,971.45 L249.52,959.90 L279.55,957.70 L309.59,953.85 L339.63,948.90 L369.66,932.95 L399.70,942.85" fill="none" stroke="#bdbebf" stroke-width="1.8" stroke-linejoin="round"/>
<circle cx="69.30" cy="1029.20" r="3.5" fill="#bdbebf"/>
<circle cx="99.34" cy="958.80" r="3.5" fill="#bdbebf"/>
<circle cx="129.37" cy="976.40" r="3.5" fill="#bdbebf"/>
<circle cx="159.41" cy="948.35" r="3.5" fill="#bdbebf"/>
<circle cx="189.45" cy="947.25" r="3.5" fill="#bdbebf"/>
<circle cx="219.48" cy="971.45" r="3.5" fill="#bdbebf"/>
<circle cx="249.52" cy="959.90" r="3.5" fill="#bdbebf"/>
<circle cx="279.55" cy="957.70" r="3.5" fill="#bdbebf"/>
<circle cx="309.59" cy="953.85" r="3.5" fill="#bdbebf"/>
<circle cx="339.63" cy="948.90" r="3.5" fill="#bdbebf"/>
<circle cx="369.66" cy="932.95" r="3.5" fill="#bdbebf"/>
<circle cx="399.70" cy="942.85" r="3.5" fill="#bdbebf"/>
<line x1="69.30" y1="1021.50" x2="69.30" y2="1028.10" stroke="#ee7b7b" stroke-width="1.1"/>
<line x1="65.70" y1="1021.50" x2="72.90" y2="1021.50" stroke="#ee7b7b" stroke-width="1.1"/>
<line x1="65.70" y1="1028.10" x2="72.90" y2="1028.10" stroke="#ee7b7b" stroke-width="1.1"/>
<line x1="99.34" y1="926.90" x2="99.34" y2="947.80" stroke="#ee7b7b" stroke-width="1.1"/>
<line x1="95.74" y1="926.90" x2="102.94" y2="926.90" stroke="#ee7b7b" stroke-width="1.1"/>
<line x1="95.74" y1="947.80" x2="102.94" y2="947.80" stroke="#ee7b7b" stroke-width="1.1"/>
<line x1="129.37" y1="899.40" x2="129.37" y2="937.90" stroke="#ee7b7b" stroke-width="1.1"/>
<line x1="125.77" y1="899.40" x2="132.97" y2="899.40" stroke="#ee7b7b" stroke-width="1.1"/>
<line x1="125.77" y1="937.90" x2="132.97" y2="937.90" stroke="#ee7b7b" stroke-width="1.1"/>
<line x1="159.41" y1="874.10" x2="159.41" y2="921.40" stroke="#ee7b7b" stroke-width="1.1"/>
<line x1="155.81" y1="874.10" x2="163.01" y2="874.10" stroke="#ee7b7b" stroke-width="1.1"/>
<line x1="155.81" y1="921.40" x2="163.01" y2="921.40" stroke="#ee7b7b" stroke-width="1.1"/>
<line x1="189.45" y1="929.10" x2="189.45" y2="961.00" stroke="#ee7b7b" stroke-width="1.1"/>
<line x1="185.85" y1="929.10" x2="193.05" y2="929.10" stroke="#ee7b7b" stroke-width="1.1"/>
<line x1="185.85" y1="961.00" x2="193.05" y2="961.00" stroke="#ee7b7b" stroke-width="1.1"/>
<line x1="219.48" y1="946.70" x2="219.48" y2="963.20" stroke="#ee7b7b" stroke-width="1.1"/>
<line x1="215.88" y1="946.70" x2="223.08" y2="946.70" stroke="#ee7b7b" stroke-width="1.1"/>
<line x1="215.88" y1="963.20" x2="223.08" y2="963.20" stroke="#ee7b7b" stroke-width="1.1"/>
<line x1="249.52" y1="973.10" x2="249.52" y2="978.60" stroke="#ee7b7b" stroke-width="1.1"/>
<line x1="245.92" y1="973.10" x2="253.12" y2="973.10" stroke="#ee7b7b" stroke-width="1.1"/>
<line x1="245.92" y1="978.60" x2="253.12" y2="978.60" stroke="#ee7b7b" stroke-width="1.1"/>
<line x1="279.55" y1="948.90" x2="279.55" y2="979.70" stroke="#ee7b7b" stroke-width="1.1"/>
<line x1="275.95" y1="948.90" x2="283.15" y2="948.90" stroke="#ee7b7b" stroke-width="1.1"/>
<line x1="275.95" y1="979.70" x2="283.15" y2="979.70" stroke="#ee7b7b" stroke-width="1.1"/>
<line x1="309.59" y1="930.20" x2="309.59" y2="970.90" stroke="#ee7b7b" stroke-width="1.1"/>
<line x1="305.99" y1="930.20" x2="313.19" y2="930.20" stroke="#ee7b7b" stroke-width="1.1"/>
<line x1="305.99" y1="970.90" x2="313.19" y2="970.90" stroke="#ee7b7b" stroke-width="1.1"/>
<line x1="339.63" y1="974.20" x2="339.63" y2="988.50" stroke="#ee7b7b" stroke-width="1.1"/>
<line x1="336.03" y1="974.20" x2="343.23" y2="974.20" stroke="#ee7b7b" stroke-width="1.1"/>
<line x1="336.03" y1="988.50" x2="343.23" y2="988.50" stroke="#ee7b7b" stroke-width="1.1"/>
<line x1="369.66" y1="969.80" x2="369.66" y2="995.10" stroke="#ee7b7b" stroke-width="1.1"/>
<line x1="366.06" y1="969.80" x2="373.26" y2="969.80" stroke="#ee7b7b" stroke-width="1.1"/>
<line x1="366.06" y1="995.10" x2="373.26" y2="995.10" stroke="#ee7b7b" stroke-width="1.1"/>
<line x1="399.70" y1="979.70" x2="399.70" y2="1008.30" stroke="#ee7b7b" stroke-width="1.1"/>
<line x1="396.10" y1="979.70" x2="403.30" y2="979.70" stroke="#ee7b7b" stroke-width="1.1"/>
<line x1="396.10" y1="1008.30" x2="403.30" y2="1008.30" stroke="#ee7b7b" stroke-width="1.1"/>
<path d="M69.30,1024.80 L99.34,937.90 L129.37,919.20 L159.41,897.75 L189.45,945.60 L219.48,955.50 L249.52,976.40 L279.55,964.85 L309.59,951.10 L339.63,980.80 L369.66,982.45 L399.70,994.00" fill="none" stroke="#e8393a" stroke-width="1.8" stroke-linejoin="round"/>
<path d="M69.30,1020.90 L72.90,1026.80 L65.70,1026.80 Z" fill="#e8393a" stroke="#e8393a" stroke-width="0.5" stroke-linejoin="round"/>
<path d="M99.34,934.00 L102.94,939.90 L95.74,939.90 Z" fill="#e8393a" stroke="#e8393a" stroke-width="0.5" stroke-linejoin="round"/>
<path d="M129.37,915.30 L132.97,921.20 L125.77,921.20 Z" fill="#e8393a" stroke="#e8393a" stroke-width="0.5" stroke-linejoin="round"/>
<path d="M159.41,893.85 L163.01,899.75 L155.81,899.75 Z" fill="#e8393a" stroke="#e8393a" stroke-width="0.5" stroke-linejoin="round"/>
<path d="M189.45,941.70 L193.05,947.60 L185.85,947.60 Z" fill="#e8393a" stroke="#e8393a" stroke-width="0.5" stroke-linejoin="round"/>
<path d="M219.48,951.60 L223.08,957.50 L215.88,957.50 Z" fill="#e8393a" stroke="#e8393a" stroke-width="0.5" stroke-linejoin="round"/>
<path d="M249.52,972.50 L253.12,978.40 L245.92,978.40 Z" fill="#e8393a" stroke="#e8393a" stroke-width="0.5" stroke-linejoin="round"/>
<path d="M279.55,960.95 L283.15,966.85 L275.95,966.85 Z" fill="#e8393a" stroke="#e8393a" stroke-width="0.5" stroke-linejoin="round"/>
<path d="M309.59,947.20 L313.19,953.10 L305.99,953.10 Z" fill="#e8393a" stroke="#e8393a" stroke-width="0.5" stroke-linejoin="round"/>
<path d="M339.63,976.90 L343.23,982.80 L336.03,982.80 Z" fill="#e8393a" stroke="#e8393a" stroke-width="0.5" stroke-linejoin="round"/>
<path d="M369.66,978.55 L373.26,984.45 L366.06,984.45 Z" fill="#e8393a" stroke="#e8393a" stroke-width="0.5" stroke-linejoin="round"/>
<path d="M399.70,990.10 L403.30,996.00 L396.10,996.00 Z" fill="#e8393a" stroke="#e8393a" stroke-width="0.5" stroke-linejoin="round"/>
<text x="108" y="906.5" font-size="13.1" transform="rotate(-45 108 906.5)"><tspan font-style="italic">P</tspan> = 0.0043</text>
<text x="168.5" y="886.5" font-size="13.1" transform="rotate(-45 168.5 886.5)"><tspan font-style="italic">P</tspan> = 0.0113</text>
<text x="369.5" y="909.3" font-size="13.1" transform="rotate(-45 369.5 909.3)"><tspan font-style="italic">P</tspan> = 0.0139</text>
<text x="401.5" y="915.5" font-size="13.1" transform="rotate(-45 401.5 915.5)"><tspan font-style="italic">P</tspan> = 0.0105</text>
<text x="194.30" y="906.20" font-size="13" textLength="90.0" lengthAdjust="spacingAndGlyphs">Low translation</text>
<line x1="196.00" y1="913.70" x2="277.00" y2="913.70" stroke="#808285" stroke-width="1.6"/>
<line x1="78.00" y1="1017.50" x2="176.00" y2="1017.50" stroke="#808285" stroke-width="1.2"/>
<text x="95.30" y="1034.50" font-size="13" textLength="66.0" lengthAdjust="spacingAndGlyphs">Free mRNA</text>
<line x1="290.40" y1="1014.50" x2="396.80" y2="1014.50" stroke="#808285" stroke-width="1.2"/>
<text x="299.60" y="1029.00" font-size="13" textLength="93.4" lengthAdjust="spacingAndGlyphs">High translation</text>
<line x1="289.70" y1="837.00" x2="311.70" y2="837.00" stroke="#bdbebf" stroke-width="1.2"/>
<circle cx="300.7" cy="837" r="4" fill="#bdbebf"/>
<text x="320.90" y="842.50" font-size="15" textLength="54.0" lengthAdjust="spacingAndGlyphs">shCNTL</text>
<line x1="289.70" y1="858.70" x2="311.70" y2="858.70" stroke="#e8393a" stroke-width="1.2"/>
<path d="M300.7,854.2 L305,861.3 L296.4,861.3 Z" fill="#e8393a"/>
<text x="320.90" y="864.20" font-size="15" textLength="70.0" lengthAdjust="spacingAndGlyphs">shUBAP2L</text>
<line x1="503.40" y1="835.00" x2="503.40" y2="1055.50" stroke="#58595b" stroke-width="1.1"/>
<line x1="503.40" y1="1055.50" x2="833.80" y2="1055.50" stroke="#58595b" stroke-width="1.1"/>
<line x1="497.40" y1="1055.50" x2="503.40" y2="1055.50" stroke="#58595b" stroke-width="1"/>
<text x="493.40" y="1060.10" font-size="13" text-anchor="end">0</text>
<line x1="497.40" y1="982.00" x2="503.40" y2="982.00" stroke="#58595b" stroke-width="1"/>
<text x="493.40" y="986.60" font-size="13" text-anchor="end">5</text>
<line x1="497.40" y1="908.50" x2="503.40" y2="908.50" stroke="#58595b" stroke-width="1"/>
<text x="493.40" y="913.10" font-size="13" text-anchor="end">10</text>
<line x1="497.40" y1="835.00" x2="503.40" y2="835.00" stroke="#58595b" stroke-width="1"/>
<text x="493.40" y="839.60" font-size="13" text-anchor="end">15</text>
<line x1="503.40" y1="1055.50" x2="503.40" y2="1061.50" stroke="#58595b" stroke-width="1"/>
<text x="503.40" y="1080.50" font-size="13" text-anchor="middle">3</text>
<line x1="533.44" y1="1055.50" x2="533.44" y2="1061.50" stroke="#58595b" stroke-width="1"/>
<text x="533.44" y="1080.50" font-size="13" text-anchor="middle">4</text>
<line x1="563.47" y1="1055.50" x2="563.47" y2="1061.50" stroke="#58595b" stroke-width="1"/>
<text x="563.47" y="1080.50" font-size="13" text-anchor="middle">5</text>
<line x1="593.51" y1="1055.50" x2="593.51" y2="1061.50" stroke="#58595b" stroke-width="1"/>
<text x="593.51" y="1080.50" font-size="13" text-anchor="middle">6</text>
<line x1="623.55" y1="1055.50" x2="623.55" y2="1061.50" stroke="#58595b" stroke-width="1"/>
<text x="623.55" y="1080.50" font-size="13" text-anchor="middle">7</text>
<line x1="653.58" y1="1055.50" x2="653.58" y2="1061.50" stroke="#58595b" stroke-width="1"/>
<text x="653.58" y="1080.50" font-size="13" text-anchor="middle">8</text>
<line x1="683.62" y1="1055.50" x2="683.62" y2="1061.50" stroke="#58595b" stroke-width="1"/>
<text x="683.62" y="1080.50" font-size="13" text-anchor="middle">9</text>
<line x1="713.65" y1="1055.50" x2="713.65" y2="1061.50" stroke="#58595b" stroke-width="1"/>
<text x="713.65" y="1080.50" font-size="13" text-anchor="middle">10</text>
<line x1="743.69" y1="1055.50" x2="743.69" y2="1061.50" stroke="#58595b" stroke-width="1"/>
<text x="743.69" y="1080.50" font-size="13" text-anchor="middle">11</text>
<line x1="773.73" y1="1055.50" x2="773.73" y2="1061.50" stroke="#58595b" stroke-width="1"/>
<text x="773.73" y="1080.50" font-size="13" text-anchor="middle">12</text>
<line x1="803.76" y1="1055.50" x2="803.76" y2="1061.50" stroke="#58595b" stroke-width="1"/>
<text x="803.76" y="1080.50" font-size="13" text-anchor="middle">13</text>
<line x1="833.80" y1="1055.50" x2="833.80" y2="1061.50" stroke="#58595b" stroke-width="1"/>
<text x="833.80" y="1080.50" font-size="13" text-anchor="middle">14</text>
<text x="667.50" y="1101.50" font-size="15" text-anchor="middle" textLength="55.0" lengthAdjust="spacingAndGlyphs">Fraction</text>
<text transform="translate(465 945) rotate(-90)" font-size="15" text-anchor="middle" textLength="104" lengthAdjust="spacingAndGlyphs">Total mRNA (%)</text>
<line x1="503.40" y1="1024.63" x2="503.40" y2="1033.45" stroke="#c9cacb" stroke-width="1.1"/>
<line x1="499.80" y1="1024.63" x2="507.00" y2="1024.63" stroke="#c9cacb" stroke-width="1.1"/>
<line x1="499.80" y1="1033.45" x2="507.00" y2="1033.45" stroke="#c9cacb" stroke-width="1.1"/>
<line x1="533.44" y1="905.56" x2="533.44" y2="920.26" stroke="#c9cacb" stroke-width="1.1"/>
<line x1="529.84" y1="905.56" x2="537.04" y2="905.56" stroke="#c9cacb" stroke-width="1.1"/>
<line x1="529.84" y1="920.26" x2="537.04" y2="920.26" stroke="#c9cacb" stroke-width="1.1"/>
<line x1="563.47" y1="920.26" x2="563.47" y2="940.84" stroke="#c9cacb" stroke-width="1.1"/>
<line x1="559.87" y1="920.26" x2="567.07" y2="920.26" stroke="#c9cacb" stroke-width="1.1"/>
<line x1="559.87" y1="940.84" x2="567.07" y2="940.84" stroke="#c9cacb" stroke-width="1.1"/>
<line x1="593.51" y1="904.09" x2="593.51" y2="929.08" stroke="#c9cacb" stroke-width="1.1"/>
<line x1="589.91" y1="904.09" x2="597.11" y2="904.09" stroke="#c9cacb" stroke-width="1.1"/>
<line x1="589.91" y1="929.08" x2="597.11" y2="929.08" stroke="#c9cacb" stroke-width="1.1"/>
<line x1="623.55" y1="933.49" x2="623.55" y2="957.01" stroke="#c9cacb" stroke-width="1.1"/>
<line x1="619.95" y1="933.49" x2="627.15" y2="933.49" stroke="#c9cacb" stroke-width="1.1"/>
<line x1="619.95" y1="957.01" x2="627.15" y2="957.01" stroke="#c9cacb" stroke-width="1.1"/>
<line x1="653.58" y1="929.08" x2="653.58" y2="952.60" stroke="#c9cacb" stroke-width="1.1"/>
<line x1="649.98" y1="929.08" x2="657.18" y2="929.08" stroke="#c9cacb" stroke-width="1.1"/>
<line x1="649.98" y1="952.60" x2="657.18" y2="952.60" stroke="#c9cacb" stroke-width="1.1"/>
<line x1="683.62" y1="933.49" x2="683.62" y2="938.63" stroke="#c9cacb" stroke-width="1.1"/>
<line x1="680.02" y1="933.49" x2="687.22" y2="933.49" stroke="#c9cacb" stroke-width="1.1"/>
<line x1="680.02" y1="938.63" x2="687.22" y2="938.63" stroke="#c9cacb" stroke-width="1.1"/>
<line x1="713.65" y1="911.44" x2="713.65" y2="926.88" stroke="#c9cacb" stroke-width="1.1"/>
<line x1="710.05" y1="911.44" x2="717.25" y2="911.44" stroke="#c9cacb" stroke-width="1.1"/>
<line x1="710.05" y1="926.88" x2="717.25" y2="926.88" stroke="#c9cacb" stroke-width="1.1"/>
<line x1="743.69" y1="895.27" x2="743.69" y2="909.97" stroke="#c9cacb" stroke-width="1.1"/>
<line x1="740.09" y1="895.27" x2="747.29" y2="895.27" stroke="#c9cacb" stroke-width="1.1"/>
<line x1="740.09" y1="909.97" x2="747.29" y2="909.97" stroke="#c9cacb" stroke-width="1.1"/>
<line x1="773.73" y1="915.85" x2="773.73" y2="924.67" stroke="#c9cacb" stroke-width="1.1"/>
<line x1="770.13" y1="915.85" x2="777.33" y2="915.85" stroke="#c9cacb" stroke-width="1.1"/>
<line x1="770.13" y1="924.67" x2="777.33" y2="924.67" stroke="#c9cacb" stroke-width="1.1"/>
<line x1="803.76" y1="914.38" x2="803.76" y2="934.96" stroke="#c9cacb" stroke-width="1.1"/>
<line x1="800.16" y1="914.38" x2="807.36" y2="914.38" stroke="#c9cacb" stroke-width="1.1"/>
<line x1="800.16" y1="934.96" x2="807.36" y2="934.96" stroke="#c9cacb" stroke-width="1.1"/>
<line x1="833.80" y1="907.03" x2="833.80" y2="937.90" stroke="#c9cacb" stroke-width="1.1"/>
<line x1="830.20" y1="907.03" x2="837.40" y2="907.03" stroke="#c9cacb" stroke-width="1.1"/>
<line x1="830.20" y1="937.90" x2="837.40" y2="937.90" stroke="#c9cacb" stroke-width="1.1"/>
<path d="M503.40,1029.04 L533.44,912.91 L563.47,930.55 L593.51,916.59 L623.55,943.78 L653.58,941.58 L683.62,935.70 L713.65,919.52 L743.69,901.88 L773.73,920.26 L803.76,924.67 L833.80,922.47" fill="none" stroke="#bdbebf" stroke-width="1.8" stroke-linejoin="round"/>
<circle cx="503.40" cy="1029.04" r="3.5" fill="#bdbebf"/>
<circle cx="533.44" cy="912.91" r="3.5" fill="#bdbebf"/>
<circle cx="563.47" cy="930.55" r="3.5" fill="#bdbebf"/>
<circle cx="593.51" cy="916.59" r="3.5" fill="#bdbebf"/>
<circle cx="623.55" cy="943.78" r="3.5" fill="#bdbebf"/>
<circle cx="653.58" cy="941.58" r="3.5" fill="#bdbebf"/>
<circle cx="683.62" cy="935.70" r="3.5" fill="#bdbebf"/>
<circle cx="713.65" cy="919.52" r="3.5" fill="#bdbebf"/>
<circle cx="743.69" cy="901.88" r="3.5" fill="#bdbebf"/>
<circle cx="773.73" cy="920.26" r="3.5" fill="#bdbebf"/>
<circle cx="803.76" cy="924.67" r="3.5" fill="#bdbebf"/>
<circle cx="833.80" cy="922.47" r="3.5" fill="#bdbebf"/>
<line x1="503.40" y1="1023.16" x2="503.40" y2="1034.92" stroke="#f3a555" stroke-width="1.1"/>
<line x1="499.80" y1="1023.16" x2="507.00" y2="1023.16" stroke="#f3a555" stroke-width="1.1"/>
<line x1="499.80" y1="1034.92" x2="507.00" y2="1034.92" stroke="#f3a555" stroke-width="1.1"/>
<line x1="533.44" y1="937.90" x2="533.44" y2="942.31" stroke="#f3a555" stroke-width="1.1"/>
<line x1="529.84" y1="937.90" x2="537.04" y2="937.90" stroke="#f3a555" stroke-width="1.1"/>
<line x1="529.84" y1="942.31" x2="537.04" y2="942.31" stroke="#f3a555" stroke-width="1.1"/>
<line x1="563.47" y1="908.50" x2="563.47" y2="924.67" stroke="#f3a555" stroke-width="1.1"/>
<line x1="559.87" y1="908.50" x2="567.07" y2="908.50" stroke="#f3a555" stroke-width="1.1"/>
<line x1="559.87" y1="924.67" x2="567.07" y2="924.67" stroke="#f3a555" stroke-width="1.1"/>
<line x1="593.51" y1="874.69" x2="593.51" y2="893.80" stroke="#f3a555" stroke-width="1.1"/>
<line x1="589.91" y1="874.69" x2="597.11" y2="874.69" stroke="#f3a555" stroke-width="1.1"/>
<line x1="589.91" y1="893.80" x2="597.11" y2="893.80" stroke="#f3a555" stroke-width="1.1"/>
<line x1="623.55" y1="917.32" x2="623.55" y2="936.43" stroke="#f3a555" stroke-width="1.1"/>
<line x1="619.95" y1="917.32" x2="627.15" y2="917.32" stroke="#f3a555" stroke-width="1.1"/>
<line x1="619.95" y1="936.43" x2="627.15" y2="936.43" stroke="#f3a555" stroke-width="1.1"/>
<line x1="653.58" y1="944.51" x2="653.58" y2="956.27" stroke="#f3a555" stroke-width="1.1"/>
<line x1="649.98" y1="944.51" x2="657.18" y2="944.51" stroke="#f3a555" stroke-width="1.1"/>
<line x1="649.98" y1="956.27" x2="657.18" y2="956.27" stroke="#f3a555" stroke-width="1.1"/>
<line x1="683.62" y1="933.49" x2="683.62" y2="937.90" stroke="#f3a555" stroke-width="1.1"/>
<line x1="680.02" y1="933.49" x2="687.22" y2="933.49" stroke="#f3a555" stroke-width="1.1"/>
<line x1="680.02" y1="937.90" x2="687.22" y2="937.90" stroke="#f3a555" stroke-width="1.1"/>
<line x1="713.65" y1="894.54" x2="713.65" y2="907.76" stroke="#f3a555" stroke-width="1.1"/>
<line x1="710.05" y1="894.54" x2="717.25" y2="894.54" stroke="#f3a555" stroke-width="1.1"/>
<line x1="710.05" y1="907.76" x2="717.25" y2="907.76" stroke="#f3a555" stroke-width="1.1"/>
<line x1="743.69" y1="888.65" x2="743.69" y2="911.44" stroke="#f3a555" stroke-width="1.1"/>
<line x1="740.09" y1="888.65" x2="747.29" y2="888.65" stroke="#f3a555" stroke-width="1.1"/>
<line x1="740.09" y1="911.44" x2="747.29" y2="911.44" stroke="#f3a555" stroke-width="1.1"/>
<line x1="773.73" y1="913.64" x2="773.73" y2="926.88" stroke="#f3a555" stroke-width="1.1"/>
<line x1="770.13" y1="913.64" x2="777.33" y2="913.64" stroke="#f3a555" stroke-width="1.1"/>
<line x1="770.13" y1="926.88" x2="777.33" y2="926.88" stroke="#f3a555" stroke-width="1.1"/>
<line x1="803.76" y1="946.72" x2="803.76" y2="965.83" stroke="#f3a555" stroke-width="1.1"/>
<line x1="800.16" y1="946.72" x2="807.36" y2="946.72" stroke="#f3a555" stroke-width="1.1"/>
<line x1="800.16" y1="965.83" x2="807.36" y2="965.83" stroke="#f3a555" stroke-width="1.1"/>
<line x1="833.80" y1="934.96" x2="833.80" y2="951.87" stroke="#f3a555" stroke-width="1.1"/>
<line x1="830.20" y1="934.96" x2="837.40" y2="934.96" stroke="#f3a555" stroke-width="1.1"/>
<line x1="830.20" y1="951.87" x2="837.40" y2="951.87" stroke="#f3a555" stroke-width="1.1"/>
<path d="M503.40,1029.78 L533.44,940.11 L563.47,916.59 L593.51,884.25 L623.55,926.88 L653.58,949.66 L683.62,935.70 L713.65,901.88 L743.69,900.41 L773.73,921.73 L803.76,957.01 L833.80,943.78" fill="none" stroke="#f0922e" stroke-width="1.8" stroke-linejoin="round"/>
<path d="M503.40,1025.18 L507.40,1032.18 L499.40,1032.18 Z" fill="#f0922e" stroke="#f0922e" stroke-width="0.5" stroke-linejoin="round"/>
<path d="M533.44,935.50 L537.44,942.50 L529.44,942.50 Z" fill="#f0922e" stroke="#f0922e" stroke-width="0.5" stroke-linejoin="round"/>
<path d="M563.47,911.99 L567.47,918.99 L559.47,918.99 Z" fill="#f0922e" stroke="#f0922e" stroke-width="0.5" stroke-linejoin="round"/>
<path d="M593.51,879.64 L597.51,886.64 L589.51,886.64 Z" fill="#f0922e" stroke="#f0922e" stroke-width="0.5" stroke-linejoin="round"/>
<path d="M623.55,922.27 L627.55,929.27 L619.55,929.27 Z" fill="#f0922e" stroke="#f0922e" stroke-width="0.5" stroke-linejoin="round"/>
<path d="M653.58,945.06 L657.58,952.06 L649.58,952.06 Z" fill="#f0922e" stroke="#f0922e" stroke-width="0.5" stroke-linejoin="round"/>
<path d="M683.62,931.10 L687.62,938.10 L679.62,938.10 Z" fill="#f0922e" stroke="#f0922e" stroke-width="0.5" stroke-linejoin="round"/>
<path d="M713.65,897.28 L717.65,904.28 L709.65,904.28 Z" fill="#f0922e" stroke="#f0922e" stroke-width="0.5" stroke-linejoin="round"/>
<path d="M743.69,895.81 L747.69,902.81 L739.69,902.81 Z" fill="#f0922e" stroke="#f0922e" stroke-width="0.5" stroke-linejoin="round"/>
<path d="M773.73,917.13 L777.73,924.13 L769.73,924.13 Z" fill="#f0922e" stroke="#f0922e" stroke-width="0.5" stroke-linejoin="round"/>
<path d="M803.76,952.41 L807.76,959.41 L799.76,959.41 Z" fill="#f0922e" stroke="#f0922e" stroke-width="0.5" stroke-linejoin="round"/>
<path d="M833.80,939.18 L837.80,946.18 L829.80,946.18 Z" fill="#f0922e" stroke="#f0922e" stroke-width="0.5" stroke-linejoin="round"/>
<text x="533" y="898" font-size="13.1" transform="rotate(-45 533 898)"><tspan font-style="italic">P</tspan> = 0.0210</text>
<text x="608" y="880.5" font-size="13.1" transform="rotate(-45 608 880.5)"><tspan font-style="italic">P</tspan> = 0.0066</text>
<text x="806" y="903.3" font-size="13.1" transform="rotate(-45 806 903.3)"><tspan font-style="italic">P</tspan> = 0.0083</text>
<line x1="721.80" y1="1008.30" x2="744.50" y2="1008.30" stroke="#bdbebf" stroke-width="1.2"/>
<circle cx="733.1" cy="1008.3" r="4.2" fill="#bdbebf"/>
<text x="752.60" y="1013.80" font-size="15" textLength="54.0" lengthAdjust="spacingAndGlyphs">shCNTL</text>
<line x1="721.80" y1="1032.80" x2="744.50" y2="1032.80" stroke="#f0922e" stroke-width="1.2"/>
<path d="M733.1,1027.8 L738,1036.3 L728.2,1036.3 Z" fill="#f0922e"/>
<text x="752.60" y="1038.30" font-size="15" textLength="70.5" lengthAdjust="spacingAndGlyphs">shMETTL3</text>
</g>
</svg>
</body></html>
